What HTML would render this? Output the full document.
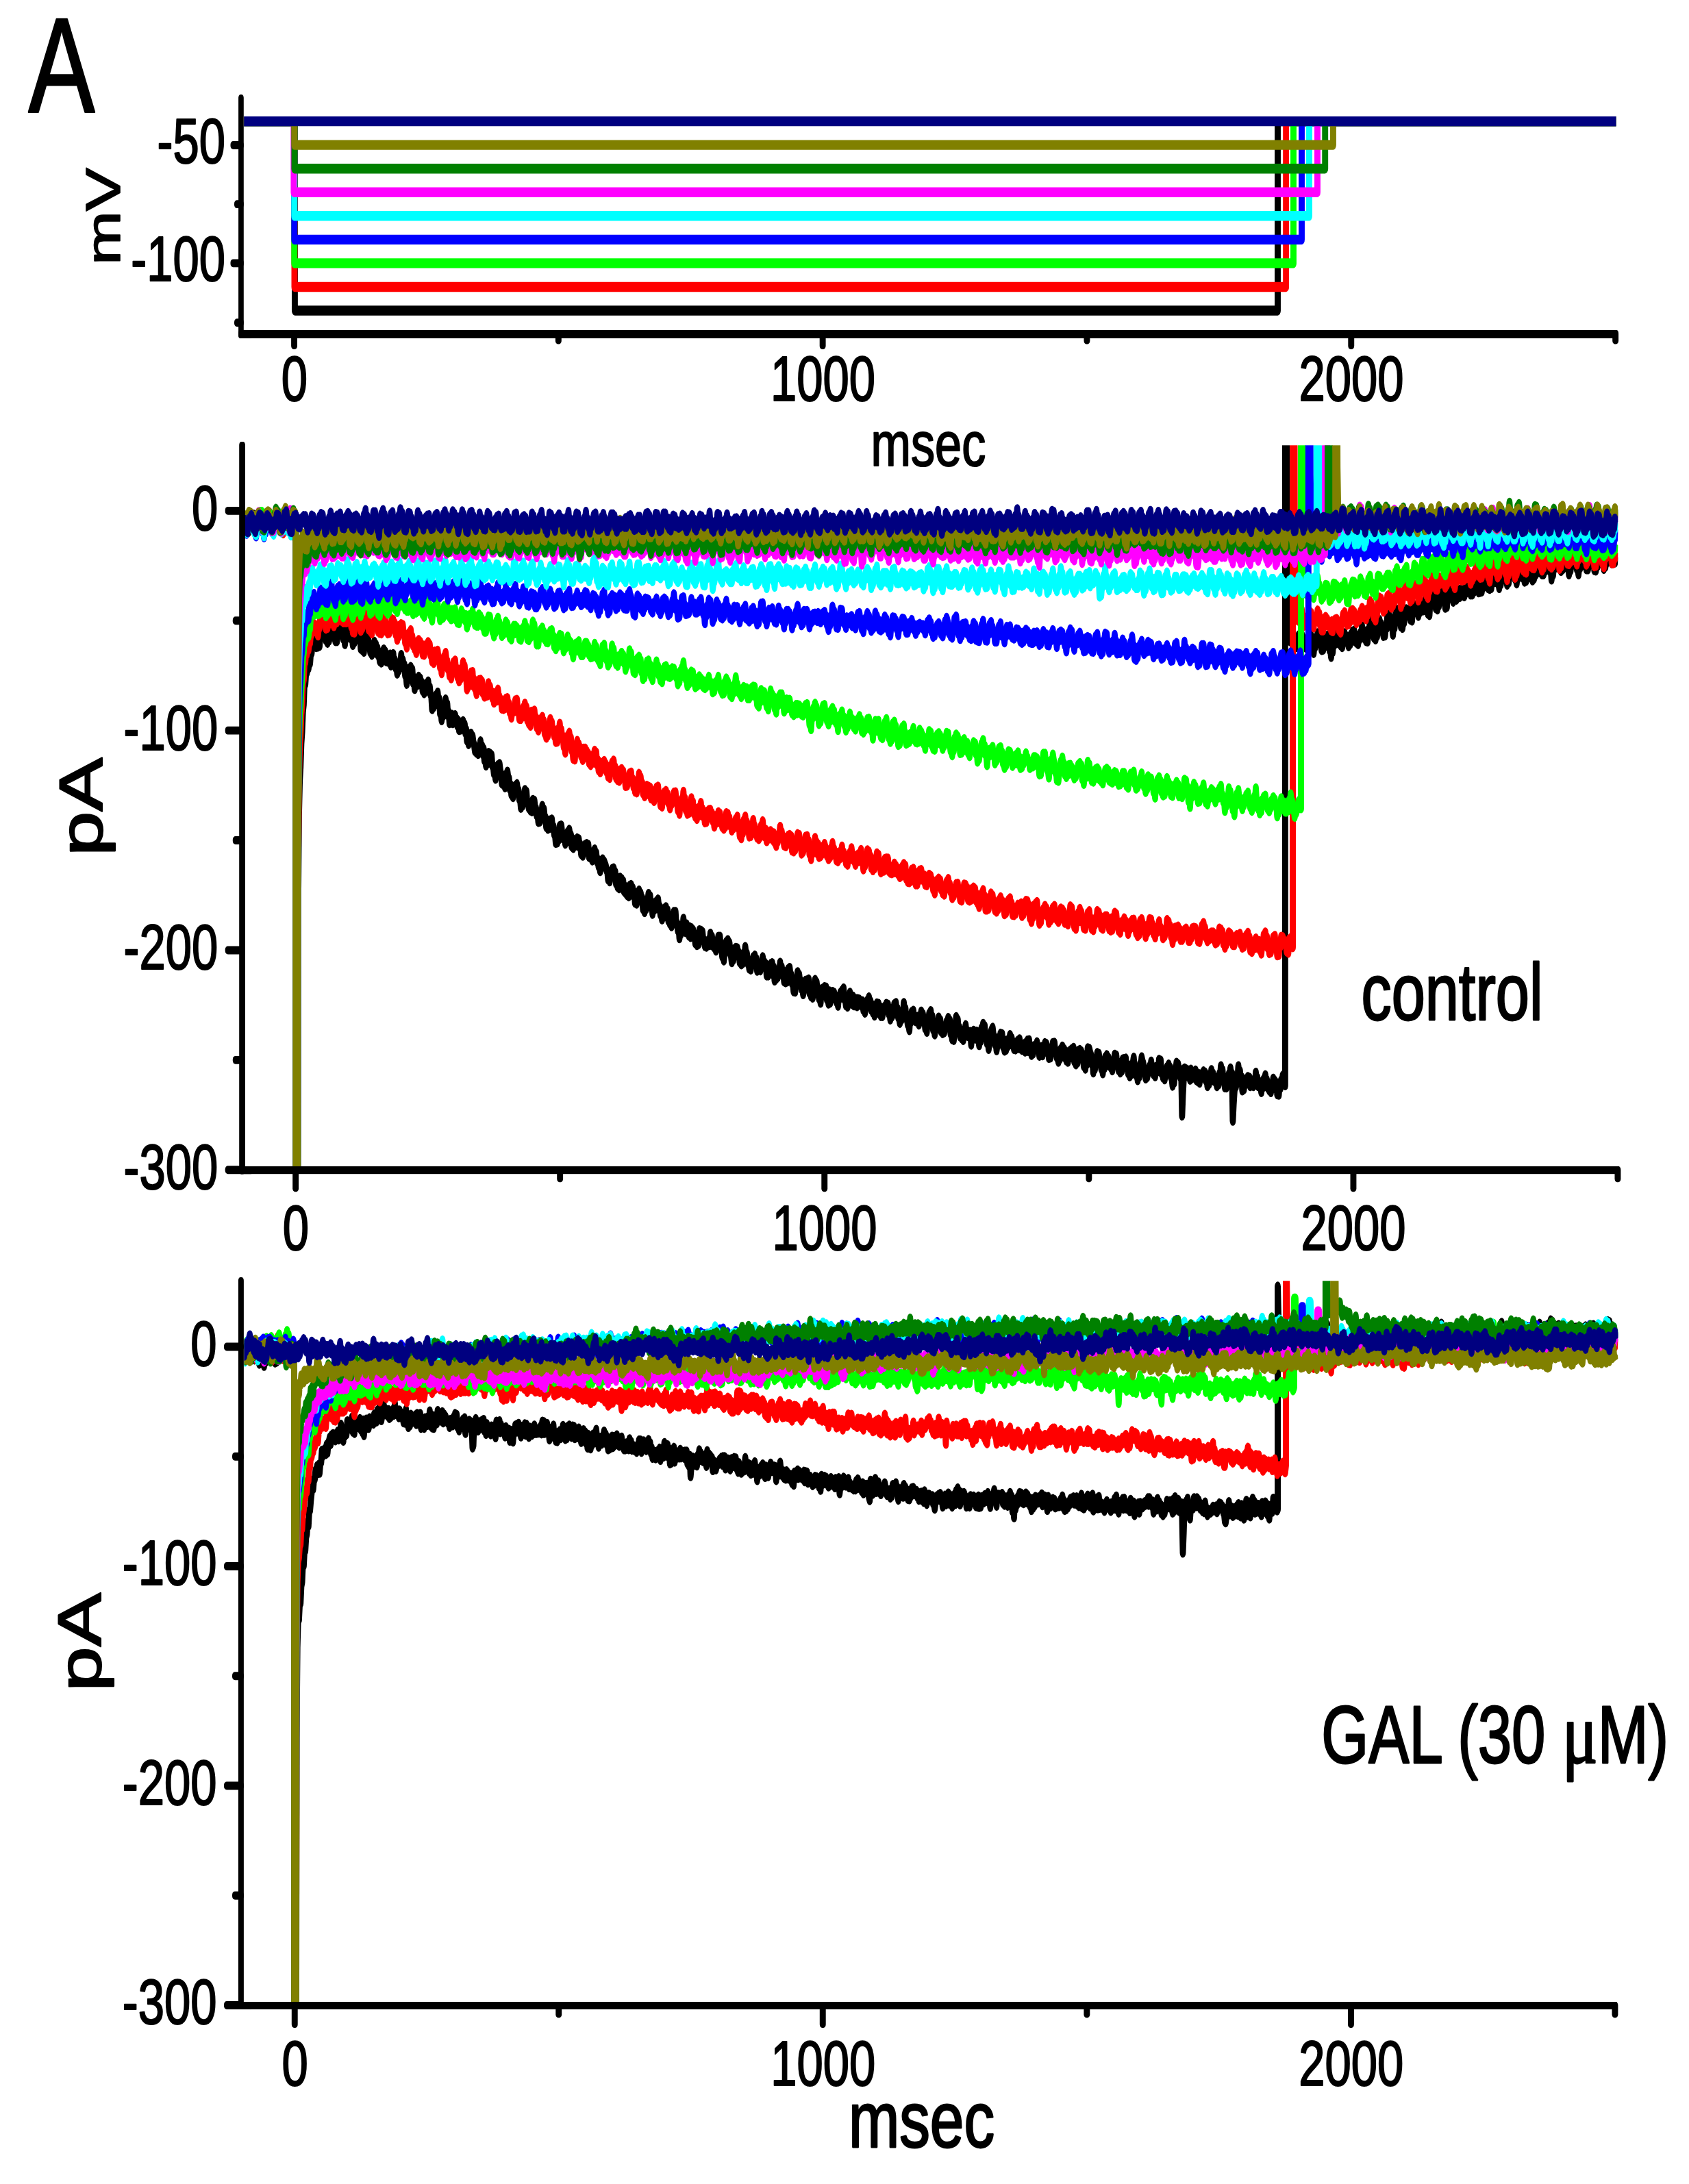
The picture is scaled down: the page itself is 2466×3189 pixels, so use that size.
<!DOCTYPE html>
<html><head><meta charset="utf-8"><title>Figure A</title>
<style>html,body{margin:0;padding:0;background:#fff}svg{display:block}</style></head>
<body>
<svg width="2466" height="3189" viewBox="0 0 2466 3189">
<rect width="2466" height="3189" fill="#fff"/>
<clipPath id="c1"><rect x="356" y="130" width="2004.5" height="352"/></clipPath>
<g clip-path="url(#c1)"><g transform="translate(429.5,177.10) scale(0.385825,0.62426)" fill="none" stroke-width="23.067" stroke-linejoin="round" stroke-linecap="butt">
<path stroke="#000000" d="M-190.0 0.0 L2.4 0.0 L2.4 442.8 L3721.9 442.8 L3721.9 0.0 L5002.0 0.0"/>
<path stroke="#ff0000" d="M-190.0 0.0 L1.2 0.0 L1.2 387.4 L3753.3 387.4 L3753.3 0.0 L5002.0 0.0"/>
<path stroke="#00ff00" d="M-190.0 0.0 L0.6 0.0 L0.6 332.1 L3781.5 332.1 L3781.5 0.0 L5002.0 0.0"/>
<path stroke="#0000ff" d="M-190.0 0.0 L0.6 0.0 L0.6 276.7 L3812.6 276.7 L3812.6 0.0 L5002.0 0.0"/>
<path stroke="#00ffff" d="M-190.0 0.0 L0.6 0.0 L0.6 221.4 L3841.1 221.4 L3841.1 0.0 L5002.0 0.0"/>
<path stroke="#ff00ff" d="M-190.0 0.0 L-1.6 0.0 L-1.6 166.0 L3872.2 166.0 L3872.2 0.0 L5002.0 0.0"/>
<path stroke="#008000" d="M-190.0 0.0 L1.0 0.0 L1.0 110.7 L3901.3 110.7 L3901.3 0.0 L5002.0 0.0"/>
<path stroke="#808000" d="M-190.0 0.0 L1.0 0.0 L1.0 55.3 L3931.8 55.3 L3931.8 0.0 L5002.0 0.0"/>
<path stroke="#000080" d="M-190.0 0 L5002.0 0"/>
</g></g>
<clipPath id="c2"><rect x="357.5" y="650.2" width="2004.8" height="1058.5"/></clipPath>
<g clip-path="url(#c2)"><g transform="translate(429.5,745.85) scale(0.385825,0.62426)" fill="none" stroke-width="23.067" stroke-linejoin="round" stroke-linecap="butt">
<path stroke="#000000" d="M-183 18l3 23 3-15 3 24 3-19 3 7 3-27 3 18 3-21 3 21 3-20 3 20 3-8 3 20 3-8 3 10 3-23 3 16 3-10 3 3 3-7 3 14 3-5 3 7 3-16 3 27 3-18 3 7 3-25 3 17 3-25 3 13 3-2 3 16 3-8 3 16 3-7 3 10 3-15 3 3 3-21 3 10 3-11 3 6 3-5 3 21 3-6 3 19 3-23 3 13 3-15 3 4 3-14 3 15 3-6 3 9 3-6 3 22 3-11 3 11 3-24 3 4 3-18 3 5 3 16266 3-13668 3-1668 3-228 3-80 3-33 3-55 3-27 3-47 3-17 3-51 3 4 3-28 3 1 3-15 3 5 3-17 3 5 3-26 3 2 3-24 3 9 3-19 3 11 3-7 3 16 3-11 3 10 3-15 3 13 3-27 3 2 3-12 3 5 3-10 3 18 3-9 3 20 3-7 3 13 3-15 3 10 3-29 3 2 3-11 3 14 3-11 3 27 3-9 3 18 3-8 3 8 3-25 3 6 3-12 3 7 3-14 3 24 3-15 3 24 3-4 3 16 3-14 3 1 3-17 3 11 3-20 3 14 3-12 3 25 3-4 3 18 3-19 3 13 3-17 3 2 3-15 3 19 3-17 3 14 3-2 3 31 3-16 3 19 3-21 3 25 3-34 3 10 3-23 3 20 3-11 3 22 3-2 3 19 3-8 3 14 3-17 3 9 3-23 3 7 3-1 3 22 3-13 3 18 3-4 3 17 3-13 3 16 3-25 3 19 3-25 3 8 3-3 3 23 3-15 3 16 3-12 3 8 3-13 3 26 3-13 3 2 3-16 3 25 3-11 3 19 3-9 3 22 3-15 3 8 3-17 3 4 3-24 3 21 3-9 3 15 3-4 3 25 3-3 3 23 3-23 3 13 3-26 3 11 3-15 3 13 3-7 3 32 3-13 3 27 3-22 3 9 3-10 3 13 3-19 3 12 3-8 3 15 3-6 3 20 3-12 3 18 3-8 3-1 3-14 3 17 3-22 3 20 3-7 3 18 3 3 3 31 3-19 3 14 3-21 3 15 3-22 3 9 3-15 3 20 3-5 3 34 3-9 3 25 3-21 3 11 3-20 3 2 3-21 3 14 3-4 3 28 3-8 3 26 3-14 3 11 3-17 3 20 3-17 3 2 3-4 3 19 3-10 3 16 3-12 3 22 3-15 3 14 3-17 3 8 3-11 3 14 3-7 3 21 3-8 3 26 3-11 3 19 3-19 3 13 3-19 3 17 3-11 3 14 3 6 3 15 3-2 3 6 3-12 3 15 3-18 3 13 3-25 3 20 3-9 3 20 3-13 3 27 3-2 3 14 3-16 3 11 3-25 3 17 3-15 3 10 3-7 3 26 3-1 3 19 3-5 3 17 3-24 3 14 3-22 3 8 3-11 3 15 3 8 3 23 3-9 3 12 3-9 3 15 3-30 3 13 3-20 3 15 3 1 3 25 3-10 3 23 3-15 3 21 3-23 3 13 3-17 3 2 3-6 3 15 3 0 3 21 3-2 3 22 3-22 3 17 3-24 3 13 3-26 3 15 3-11 3 27 3-3 3 15 3-6 3 11 3-13 3 15 3-27 3 19 3-17 3 18 3 0 3 17 3-7 3 22 3-10 3 9 3-24 3 7 3-20 3 19 3-11 3 20 3 0 3 22 3-12 3 16 3-19 3 17 3-18 3 11 3-13 3 21 3-5 3 18 3 0 3 21 3-14 3 13 3-22 3 15 3-32 3 14 3-15 3 18 3 3 3 11 3-4 3 15 3-7 3 2 3-23 3 11 3-16 3 13 3-1 3 27 3-18 3 22 3-13 3 4 3-7 3 10 3-17 3 17 3-15 3 19 3-7 3 23 3-12 3 16 3-17 3 9 3-18 3 10 3-12 3 15 3-13 3 29 3-13 3 11 3 5 3 5 3-8 3 5 3-23 3 12 3-4 3 21 3-6 3 17 3-5 3 16 3-16 3 7 3-19 3 11 3-6 3 5 3 5 3 11 3 1 3 21 3-14 3 18 3-20 3 9 3-18 3 1 3-3 3 11 3-2 3 27 3-11 3 19 3-7 3 10 3-25 3 18 3-15 3 13 3-8 3 24 3-12 3 16 3-11 3 16 3-16 3 19 3-25 3 9 3-11 3 11 3-4 3 19 3-9 3 25 3-22 3 24 3-24 3 14 3-21 3 14 3-8 3 16 3-5 3 27 3-1 3 8 3-14 3 7 3-22 3 2 3-16 3 14 3-9 3 26 3-12 3 28 3-21 3 12 3-12 3 8 3-17 3 17 3-21 3 17 3-1 3 20 3-6 3 17 3-24 3 18 3-20 3 13 3-16 3 20 3-13 3 25 3-7 3 14 3-4 3 10 3-26 3 12 3-20 3 21 3-21 3 29 3-3 3 18 3-10 3 28 3-17 3 7 3-21 3 13 3-28 3 20 3-6 3 18 3-19 3 16 3-2 3 13 3-20 3 23 3-21 3 9 3-5 3 16 3-6 3 22 3-15 3 19 3-10 3 8 3-33 3 14 3-13 3 15 3-12 3 19 3 0 3 14 3-9 3 11 3-10 3 5 3-12 3 13 3-27 3 18 3-11 3 22 3-12 3 16 3-11 3 18 3-12 3 6 3-27 3 16 3-16 3 25 3-2 3 24 3-5 3 14 3-22 3 1 3-23 3 18 3-22 3 12 3-6 3 26 3 4 3 16 3-20 3 14 3-25 3 15 3-18 3 15 3-14 3 17 3-7 3 23 3-12 3 17 3-17 3 14 3-23 3 7 3-22 3 20 3-5 3 24 3-8 3 20 3-12 3 14 3-20 3 6 3-15 3 5 3-9 3 17 3-9 3 28 3-9 3 4 3-8 3 12 3-17 3 4 3-18 3 16 3-5 3 10 3-5 3 27 3-17 3 17 3-21 3 11 3-17 3 16 3-18 3 27 3-17 3 31 3-18 3 14 3-11 3 7 3-12 3-4 3-18 3 23 3-13 3 19 3-9 3 24 3 1 3 1 3-14 3 12 3-29 3 16 3-19 3 17 3 0 3 20 3-5 3 23 3-6 3 7 3-27 3 6 3-25 3 18 3-12 3 18 3-4 3 20 3-7 3 19 3-16 3 1 3-17 3 11 3-12 3 12 3-14 3 32 3-7 3 15 3-5 3 8 3-25 3 16 3-33 3 18 3-12 3 19 3-6 3 25 3-10 3 20 3-24 3 4 3-14 3 9 3-12 3 18 3-17 3 28 3-15 3 25 3-29 3 27 3-22 3 10 3-14 3 12 3-10 3 15 3-6 3 13 3-10 3 19 3-23 3 7 3-15 3 8 3-13 3 13 3-18 3 26 3-4 3 18 3-14 3 17 3-15 3 6 3-24 3 16 3-1 3 12 3-18 3 21 3-14 3 14 3-15 3 17 3-17 3 10 3-9 3 13 3-7 3 4 3-6 3 21 3-10 3 16 3-17 3 4 3-16 3 4 3-11 3 14 3-5 3 21 3-9 3 15 3-16 3 23 3-23 3 6 3-12 3 15 3-14 3 23 3-16 3 22 3-13 3 13 3-16 3 0 3-7 3 5 3-11 3 15 3-13 3 22 3-3 3 16 3-16 3 9 3-20 3 13 3-22 3 22 3-25 3 19 3-6 3 21 3 0 3 13 3-11 3 4 3-20 3 4 3-24 3 22 3-9 3 24 3-1 3 15 3-1 3 14 3-30 3 11 3-24 3 9 3-12 3 19 3-6 3 12 3-9 3 8 3-10 3 19 3-20 3 10 3-21 3 21 3-15 3 13 3 1 3 20 3-13 3 21 3-29 3 7 3-21 3 10 3-16 3 28 3-15 3 31 3-9 3 20 3-18 3 6 3-17 3 10 3-21 3 15 3-9 3 27 3-12 3 16 3-16 3 14 3-12 3-2 3-11 3 5 3-14 3 21 3-15 3 31 3-3 3 16 3-18 3 20 3-28 3 4 3-30 3 9 3-3 3 26 3-8 3 22 3-5 3 9 3-11 3 15 3-24 3 6 3-17 3 24 3-11 3 13 3-1 3 3 3-12 3 30 3-29 3 17 3-21 3 17 3-14 3 14 3-15 3 20 3-8 3 20 3-22 3 13 3-31 3 11 3-21 3 14 3-9 3 27 3-3 3 17 3-11 3 24 3-17 3-4 3-20 3-5 3-4 3 16 3 4 3 19 3-8 3 22 3-12 3-2 3-16 3 8 3-17 3 15 3-14 3 29 3-11 3 21 3-18 3 16 3-22 3 14 3-15 3 3 3-15 3 22 3-15 3 12 3 1 3 13 3-5 3 6 3-17 3 9 3-13 3 18 3-21 3 22 3-11 3 14 3-11 3 12 3-15 3 18 3-21 3 16 3-21 3 25 3-26 3 23 3-8 3 20 3-17 3 14 3-18 3 5 3-5 3 6 3-15 3 17 3-4 3 19 3-11 3 9 3-19 3 20 3-18 3 8 3-19 3 7 3-5 3 20 3-9 3 22 3-13 3 12 3-23 3 8 3-19 3 0 3-1 3 20 3-2 3 17 3-6 3 16 3-15 3 8 3-23 3 15 3-21 3 17 3-11 3 20 3-15 3 22 3-15 3 18 3-19 3 10 3-18 3 2 3-5 3 12 3-15 3 32 3-13 3 20 3-21 3 17 3-28 3 12 3-14 3 11 3-8 3 17 3-9 3 27 3-4 3 10 3-23 3 12 3-37 3 12 3-11 3 9 3 5 3 22 3-10 3 30 3-18 3 10 3-25 3 3 3-16 3 12 3-10 3 21 3-3 3 17 3-7 3 18 3-29 3 17 3-26 3 15 3-20 3 18 3-12 3 19 3 0 3 4 3-8 3 15 3-20 3-3 3-14 3 19 3-17 3 22 3-7 3 20 3-9 3 14 3-17 3 13 3-27 3 16 3-17 3 3 3-4 3 21 3-7 3 21 3-9 3 16 3-26 3 21 3-22 3-4 3-13 3 27 3-3 3 18 3-12 3 23 3-15 3 7 3-30 3 5 3-21 3 9 3 5 3 20 3-7 3 23 3-21 3 18 3-16 3 5 3-15 3 6 3-17 3 18 3-2 3 14 3-16 3 21 3-22 3 12 3-12 3 2 3-19 3 16 3-14 3 30 3-8 3 18 3-10 3 14 3-11 3-3 3-15 3 7 3-13 3 18 3-11 3 23 3 3 3 17 3-20 3 13 3-25 3-5 3-17 3 11 3-8 3 20 3-9 3 21 3-8 3 97 3-48 3-35 3-28 3 20 3-18 3 13 3-11 3 12 3-9 3 20 3-24 3 21 3-15 3 11 3-12 3 12 3-15 3 23 3-15 3 18 3-18 3 21 3-20 3 10 3-8 3 4 3-13 3 16 3-13 3 19 3-8 3 21 3-15 3 10 3-23 3 10 3-20 3 12 3-4 3 17 3-6 3 9 3 0 3 10 3-21 3 17 3-25 3 6 3-24 3 24 3-15 3 22 3-2 3 21 3-16 3 16 3-19 3 8 3-21 3 8 3-21 3 22 3-10 3 111 3-38 3-30 3-17 3 5 3-24 3 4 3-28 3 19 3-8 3 25 3-11 3 32 3-16 3 13 3-23 3 12 3-12 3 5 3-11 3 16 3-14 3 20 3-15 3 11 3-5 3 9 3-14 3 9 3-27 3 23 3-11 3 20 3-11 3 12 3 0 3 13 3-21 3 10 3-20 3 11 3-20 3 17 3-6 3 19 3-9 3 15 3-14 3 18 3-20 3 5 3-17 3 19 3-14 3 19 3-14 3 27 3-18 3 19 3-24 3 9 3-19 3 8 3-19 3 16 3-9 3 16 0-5679 2 0 1 2228 3 1966 3 353 3 84 3-5 3 14 3-24 3 11 3-10 3 20 3-5 3 17 3-9 3 14 3-18 3 14 3-24 3 17 3-18 3 15 3-16 3 19 3-9 3 18 3-11 3 14 3-21 3 9 3-17 3 8 3-13 3 22 3-15 3 25 3-4 3 19 3-20 3 6 3-23 3 2 3-12 3 9 3-9 3 22 3-3 3 21 3-18 3 17 3-20 3 12 3-24 3 6 3-7 3 20 3-16 3 30 3-1 3 17 3-18 3 7 3-29 3 12 3-28 3 24 3-12 3 10 3-13 3 16 3-13 3 17 3-19 3 23 3-25 3 8 3-16 3 15 3-7 3 14 3-13 3 22 3-16 3 11 3-23 3 9 3-16 3 17 3-19 3 25 3-14 3 18 3-12 3 15 3-21 3 10 3-16 3 6 3-21 3 17 3-7 3 19 3-14 3 20 3-24 3 25 3-24 3-1 3-22 3 18 3-24 3 22 3-2 3 24 3-12 3 16 3-19 3 11 3-25 3 7 3-20 3 20 3-11 3 18 3-5 3 16 3-12 3 11 3-23 3 6 3-29 3 9 3-13 3 17 3-7 3 19 3 0 3 19 3-24 3 8 3-31 3 9 3-21 3 15 3-12 3 20 3-5 3 22 3-12 3 15 3-17 3 5 3-29 3 11 3-14 3 12 3-10 3 15 3-12 3 20 3-8 3 10 3-32 3 9 3-14 3 8 3-3 3 13 3-10 3 18 3-9 3 1 3-9 3 5 3-17 3 16 3-19 3 10 3-16 3 26 3-13 3 20 3-17 3 20 3-32 3 10 3-24 3 20 3-19 3 11 3-12 3 30 3-11 3 14 3-15 3 6 3-24 3 8 3-23 3 12 3-14 3 22 3-1 3 25 3-16 3 14 3-34 3 11 3-28 3 19 3-22 3 23 3-2 3 21 3-14 3 5 3-13 3 17 3-21 3 16 3-17 3 16 3-18 3 13 3-10 3 11 3-13 3 15 3-9 3 2 3-21 3 14 3-14 3 5 3-5 3 24 3-16 3 16 3-17 3 11 3-27 3 5 3-14 3 19 3-12 3 30 3-19 3 18 3-14 3 13 3-21 3 11 3-20 3 10 3-18 3 16 3-15 3 29 3-15 3 17 3-11 3 9 3-26 3 10 3-19 3 21 3-23 3 19 3-10 3 17 3-4 3 15 3-18 3 9 3-23 3 8 3-19 3 21 3-9 3 11 3-4 3 16 3-19 3 14 3-21 3 3 3-17 3 10 3-15 3 14 3-3 3 21 3-3 3 13 3-18 3 6 3-23 3 2 3-17 3 20 3-2 3 19 3-17 3 26 3-16 3 14 3-22 3 15 3-21 3 8 3-16 3 15 3-9 3 29 3-13 3 9 3-14 3 5 3-18 3 13 3-19 3 10 3-6 3 15 3-7 3 11 3-6 3 6 3-11 3 3 3-19 3 9 3-10 3 10 3-7 3 18 3-7 3 26 3-19 3 8 3-27 3 12 3-18 3 6 3-8 3 11 3 0 3 10 3-14 3 19 3-20 3 16 3-24 3 20 3-19 3 17 3-11 3 9 3-7 3 27 3-19 3 10 3-25 3 12 3-15 3 5 3-8 3 17 3-4 3 15 3-5 3 17 3-20 3 6 3-22 3 7 3-13 3 13 3-15 3 24 3-5 3 13 3-7 3 7 3-21 3 9 3-28 3 16 3-15 3 21 3-4 3 24 3-14 3 15 3-19 3 9 3-18 3 7 3-23 3 14 3-7 3 20 3-11 3 24 3-20 3 15 3-24 3 14 3-26 3 15 3-19 3 18 3-2 3 16 3-19 3 18 3-17 3 16 3-14"/>
<path stroke="#ff0000" d="M-183 27l3 21 3-16 3 9 3-16 3 17 3-30 3 11 3-9 3 19 3-11 3 18 3-10 3 18 3-21 3 8 3-12 3 17 3-20 3 7 3-16 3 23 3-13 3 19 3-17 3 16 3-14 3 15 3-23 3 17 3-30 3 27 3-11 3 18 3-8 3 17 3-15 3 10 3-22 3 11 3-13 3 11 3-14 3 13 3 2 3 18 3-15 3 20 3-17 3 9 3-16 3 1 3-21 3 17 3-12 3 28 3-10 3 21 3-11 3 16 3-23 3 0 3-15 3 6 3 16143 3-13656 3-1668 3-218 3-72 3-31 3-47 3-23 3-56 3-2 3-41 3-1 3-25 3 7 3-19 3 9 3-17 3 0 3-23 3 4 3-23 3 2 3-4 3 10 3-8 3 17 3-5 3 13 3-20 3 2 3-24 3 6 3-20 3 11 3-13 3 27 3-2 3 17 3-19 3 17 3-14 3 5 3-24 3 13 3-17 3 23 3-10 3 20 3-20 3 13 3-12 3 10 3-17 3 10 3-9 3 3 3-7 3 17 3-11 3 14 3-12 3 12 3-7 3 7 3-16 3 6 3-21 3 23 3-16 3 34 3-13 3 26 3-14 3 15 3-35 3 8 3-23 3 4 3-4 3 23 3 0 3 23 3-15 3 9 3-11 3 1 3-19 3 11 3-15 3 12 3-1 3 25 3-8 3 12 3-11 3 16 3-22 3 3 3-19 3 8 3-12 3 17 3-3 3 24 3-12 3 15 3-19 3 20 3-25 3 6 3-17 3 15 3-8 3 24 3-7 3 12 3-8 3 7 3-18 3 8 3-23 3 16 3-14 3 23 3-15 3 26 3-13 3 26 3-16 3 8 3-26 3 19 3-22 3 14 3-12 3 19 3 1 3 21 3-6 3 18 3-25 3 13 3-23 3 12 3-18 3 24 3-9 3 22 3-8 3 16 3-4 3 13 3-27 3 12 3-16 3 16 3-12 3 18 3-11 3 23 3-13 3 14 3-22 3 9 3-11 3 11 3-17 3 19 3-13 3 25 3-2 3 17 3-7 3 10 3-27 3 5 3-5 3 13 3-15 3 19 3 4 3 16 3-13 3 27 3-16 3 2 3-25 3 14 3-23 3 16 3 3 3 20 3-4 3 19 3-11 3 17 3-19 3 3 3-22 3 13 3-17 3 24 3-6 3 21 3-13 3 23 3-17 3 11 3-25 3 9 3-23 3 21 3-12 3 28 3-3 3 30 3-20 3 13 3-23 3 13 3-23 3 15 3-16 3 33 3-15 3 21 3-2 3 15 3-17 3 9 3-25 3 15 3-16 3 9 3-5 3 28 3-8 3 16 3-10 3 8 3-11 3 10 3-29 3 22 3-14 3 20 3-6 3 13 3-13 3 24 3-14 3 10 3-16 3 15 3-26 3 16 3 1 3 8 3-1 3 21 3-12 3 13 3-15 3 13 3-23 3 14 3-15 3 24 3-11 3 21 3-10 3 22 3-17 3 2 3-9 3 9 3-26 3 12 3-13 3 23 3 0 3 22 3-13 3 13 3-14 3 9 3-22 3 10 3-19 3 10 3-2 3 31 3-14 3 22 3-11 3 16 3-33 3 15 3-16 3 10 3-12 3 24 3-8 3 24 3-11 3 18 3-18 3 10 3-19 3 16 3-21 3 21 3-11 3 29 3-10 3 20 3-20 3 15 3-20 3 7 3-26 3 17 3-9 3 18 3-3 3 17 3-6 3 20 3-14 3 13 3-29 3 9 3-22 3 29 3-15 3 20 3-5 3 25 3-6 3 20 3-31 3 9 3-18 3 5 3-12 3 16 3-4 3 30 3-4 3 23 3-15 3 17 3-30 3 8 3-22 3 18 3-10 3 20 3-12 3 20 3-3 3 12 3-27 3 21 3-21 3 17 3-11 3 16 3-10 3 22 3-14 3 19 3-8 3 1 3-17 3 18 3-28 3 14 3-10 3 29 3-11 3 24 3-20 3 25 3-12 3 5 3-14 3 0 3-6 3 9 3-2 3 19 3-12 3 23 3-17 3 20 3-28 3 7 3-15 3 1 3-6 3 25 3-10 3 26 3-12 3 17 3-14 3 16 3-25 3 17 3-20 3 11 3-6 3 17 3-2 3 20 3-11 3 10 3-18 3 10 3-21 3 12 3-14 3 23 3-8 3 19 3-14 3 25 3-16 3 18 3-24 3 2 3-22 3 21 3-13 3 22 3-8 3 24 3-5 3 12 3-23 3 14 3-16 3 16 3-14 3 20 3-18 3 26 3-13 3 13 3-10 3 16 3-25 3 13 3-20 3 15 3-17 3 25 3-8 3 27 3-6 3 9 3-21 3 7 3-20 3 16 3-19 3 14 3-7 3 22 3-5 3 17 3-10 3 1 3-11 3 1 3-18 3 10 3-11 3 20 3 4 3 19 3-3 3 11 3-22 3 6 3-19 3 10 3-27 3 28 3-12 3 27 3-15 3 24 3-12 3 10 3-18 3 11 3-28 3 18 3-9 3 27 3-10 3 18 3-5 3 10 3-25 3 17 3-20 3 7 3-17 3 30 3-16 3 13 3-5 3 24 3-19 3 18 3-25 3 11 3-14 3 15 3-16 3 20 3-12 3 19 3-8 3 21 3-25 3 13 3-13 3 15 3-24 3 16 3-13 3 18 3-8 3 22 3-9 3 13 3-21 3 16 3-32 3 21 3-19 3 16 3-7 3 19 3-6 3 17 3-17 3 12 3-12 3 6 3-16 3 9 3-15 3 27 3-11 3 29 3-18 3 24 3-25 3 13 3-30 3 7 3-16 3 27 3-14 3 20 3-4 3 18 3-19 3 18 3-27 3 17 3-28 3 15 3-1 3 19 3-9 3 18 3-12 3 15 3-19 3 14 3-27 3 11 3-21 3 21 3-3 3 19 3-17 3 27 3-20 3 15 3-16 3 14 3-17 3 12 3-8 3 18 3-17 3 22 3-9 3 17 3-24 3 14 3-15 3 0 3-20 3 21 3-9 3 15 3-4 3 21 3-11 3 13 3-20 3 15 3-20 3 12 3-14 3 11 3-8 3 34 3-16 3 18 3-14 3 10 3-19 3-1 3-17 3 15 3-13 3 25 3-6 3 25 3-9 3 5 3-14 3 4 3-26 3 13 3-14 3 24 3-13 3 31 3-6 3 18 3-24 3 11 3-16 3 9 3-30 3 23 3-13 3 27 3-22 3 30 3-12 3 10 3-18 3 13 3-18 3 14 3-20 3 7 3 7 3 14 3-13 3 21 3-10 3 6 3-22 3 16 3-28 3 22 3-9 3 10 3-2 3 20 3-5 3 7 3-20 3 14 3-18 3 9 3-20 3 19 3-6 3 15 3-6 3 17 3-15 3 19 3-23 3 12 3-18 3 7 3-17 3 16 3-2 3 16 3-2 3 11 3-17 3 6 3-13 3 16 3-19 3 3 3-11 3 27 3-7 3 26 3-14 3 6 3-21 3 7 3-23 3 13 3-10 3 13 3-2 3 28 3-9 3 14 3-15 3 11 3-24 3 7 3-19 3 12 3-9 3 26 3-1 3 17 3-9 3 6 3-10 3 9 3-28 3 15 3-16 3 6 3-6 3 30 3-11 3 15 3-8 3 9 3-16 3 9 3-16 3 21 3-16 3 13 3-7 3 15 3-11 3 17 3-16 3 13 3-22 3 5 3-11 3 15 3-11 3 31 3-7 3 14 3-5 3 6 3-15 3 12 3-27 3 14 3-16 3 18 3-10 3 29 3-18 3 18 3-20 3 11 3-24 3 14 3-15 3 17 3-2 3 11 3-13 3 22 3-11 3 12 3-17 3 10 3-18 3 13 3-10 3 17 3-7 3 22 3-10 3 19 3-19 3 4 3-16 3 12 3-16 3 17 3-13 3 22 3-2 3 11 3-12 3 15 3-17 3 2 3-16 3 3 3-9 3 16 3-4 3 19 3-4 3 18 3-21 3 16 3-15 3 8 3-21 3 11 3-12 3 21 3-9 3 26 3-16 3 18 3-20 3 3 3-21 3 9 3-8 3 10 3-3 3 28 3-12 3 14 3-13 3 11 3-26 3 19 3-22 3 15 3-11 3 27 3-15 3 21 3-3 3 12 3-17 3 2 3-17 3 8 3-16 3 18 3-4 3 32 3-13 3 13 3-15 3 13 3-27 3 13 3-22 3 14 3-9 3 19 3-6 3 22 3-8 3 11 3-15 3 9 3-22 3 9 3-15 3 20 3-12 3 16 3-5 3 21 3-15 3 12 3-26 3 14 3-19 3 7 3-11 3 22 3-10 3 27 3-11 3 12 3-18 3 15 3-13 3 0 3-9 3 10 3-9 3 12 3-16 3 30 3-12 3 8 3-23 3 12 3-21 3 15 3-14 3 15 3-6 3 31 3-17 3 26 3-18 3 7 3-28 3 16 3-20 3 4 3-8 3 24 3 1 3 26 3-21 3 16 3-23 3 8 3-15 3 10 3-17 3 20 3-14 3 19 3-12 3 27 3-20 3 15 3-17 3 12 3-26 3 8 3-12 3 22 3-9 3 20 3-13 3 18 3-20 3 13 3-25 3 9 3-7 3 19 3-13 3 26 3-11 3 11 3-12 3 16 3-20 3 6 3-29 3 19 3-15 3 20 3-4 3 29 3-14 3 18 3-16 3-1 3-21 3 20 3-29 3 10 3-2 3 22 3-3 3 18 3-18 3 20 3-22 3 4 3-19 3 0 3-5 3 25 3-8 3 25 3-15 3 18 3-23 3 11 3-17 3 6 3-22 3 18 3-14 3 25 3-16 3 26 3-6 3 9 3-22 3 3 3-11 3 9 3-9 3 11 3-5 3 25 3-17 3 20 3-29 3 27 3-24 3-1 3-15 3 23 3-20 3 24 3-2 3 18 3-8 3 12 3-25 3 13 3-13 3 11 3-20 3 17 3-10 3 17 3-7 3 20 3-17 3 7 3-18 3 13 3-18 3 9 3-10 3 19 3-7 3 20 3-7 3 14 3-17 3 13 3-32 3 12 3-16 3 9 3 4 3 12 3-5 3 22 3-15 3 6 3-20 3-1 3-12 3 19 3-18 3 26 3-14 3 22 3-5 3 13 3-21 3 10 3-13 3 7 3-21 3 15 3-1 3 12 3-6 3 20 3-12 3 8 3-15 3 2 3-26 3 9 3-5 3 20 3-10 3 25 3-5 3 20 3-20 3 9 3-25 3 10 3-11 3 3 3-5 3 24 3-17 3 25 3-9 3 9 3-18 3 9 3-15 3 8 3-11 3 12 3-6 3 23 3-17 3 17 3-11 3 4 3-23 3 13 3-14 3 11 3-10 3 15 3-5 3 21 3-11 3 13 3-16 3 2 3-25 3 12 3-18 3 14 3-3 3 23 3 1 3 8 3-5 3 1 3-15 3 8 3-10 3 9 3-9 3 18 3-14 3 22 3-12 3 10 3-18 3 10 3-25 3 15 3-13 3 17 3-11 3 28 3-15 3 24 3-15 3 8 3-19 3 11 3-21 3 8 3-5 3 13 3-7 3 21 3-15 3 15 3-19 3 7 3-12 3 2 3-1 3 1 3-5 3 25 3-10 3 18 3-14 3 12 3-23 3 13 3-18 3 16 3-21 3 23 3-13 3 32 3-13 3 16 3-16 3 9 3-19 3 17 3-23 3 16 3-6 3 13 3-17 3 22 3-5 3 13 3-22 3 6 3-28 3 14 3-20 3 20 3-9 3 26 3-13 3 25 3-10 3 8 3-24 3 9 3-21 3 10 3-13 3 27 3-5 3 24 3-13 3 12 3-23 3 4 3-24 3 10 3-9 3 13 3-5 3 10 3 0 3 16 3-13 3 16 3-32 3 16 3-19 3 13 3-14 2 23 0-5401 2 0 2 3228 3 1151 3 195 3 57 3-4 3 10 3-26 3 9 3-15 3 24 3-17 3 22 3-7 3 22 3-8 3 7 3-16 3 1 3-8 3 8 3-18 3 17 3-13 3 25 3-2 3 11 3-17 3 4 3-10 3 2 3-19 3 15 3-8 3 27 3-16 3 29 3-17 3 17 3-16 3 6 3-22 3 17 3-12 3 16 3-10 3 9 3-8 3 20 3-22 3 24 3-21 3 3 3-10 3 11 3-12 3 16 3-10 3 21 3-10 3 15 3-28 3 6 3-21 3 13 3-18 3 13 3-2 3 19 3-7 3 6 3-11 3 5 3-26 3 17 3-19 3 22 3-18 3 21 3-9 3 15 3-7 3 0 3-13 3 12 3-20 3 4 3-12 3 12 3-7 3 18 3-12 3 16 3-23 3 13 3-16 3 6 3-23 3 14 3-9 3 21 3-2 3 16 3-3 3 9 3-28 3 13 3-25 3 0 3-14 3 13 3-11 3 20 3-4 3 15 3-10 3 6 3-20 3 11 3-24 3 11 3-14 3 19 3-10 3 22 3-19 3 14 3-13 3 5 3-19 3 6 3-16 3 12 3-13 3 23 3-10 3 28 3-10 3 1 3-19 3 3 3-28 3 18 3-7 3 17 3-12 3 14 3-6 3 16 3-24 3 20 3-28 3 12 3-19 3 8 3-8 3 21 3-8 3 24 3-15 3 8 3-16 3 1 3-22 3 4 3-10 3 14 3-7 3 30 3-11 3 18 3-18 3 2 3-18 3 9 3-20 3 10 3-21 3 28 3-2 3 10 3-11 3 12 3-30 3 11 3-8 3 13 3-15 3 14 3-15 3 16 3-2 3 11 3-20 3 14 3-10 3 3 3-25 3 20 3-24 3 25 3-13 3 22 3-7 3 16 3-23 3 9 3-23 3 7 3-14 3 10 3-4 3 20 3-12 3 12 3-10 3 9 3-14 3 10 3-23 3 13 3-5 3 16 3-10 3 22 3-15 3 7 3-15 3 8 3-15 3 3 3-14 3 10 3-5 3 17 3-6 3 11 3-11 3 10 3-15 3 6 3-21 3 6 3-9 3 17 3-12 3 27 3-9 3 20 3-23 3-1 3-16 3 3 3-14 3 14 3-11 3 27 3-3 3 14 3-15 3 10 3-14 3-4 3-14 3 14 3-12 3 15 3-13 3 24 3-8 3 23 3-17 3 5 3-23 3 9 3-24 3 6 3-5 3 12 3 4 3 28 3-14 3 6 3-18 3 4 3-17 3 10 3-25 3 24 3-2 3 14 3-9 3 13 3-17 3 19 3-24 3 11 3-15 3 11 3-13 3 14 3-9 3 14 3-4 3 5 3-12 3 2 3-15 3 10 3-25 3 21 3-2 3 15 3 0 3 11 3-14 3 8 3-21 3 3 3-21 3 16 3-17 3 22 3-2 3 16 3-11 3 14 3-15 3 10 3-23 3 4 3-16 3 20 3-13 3 17 3-5 3 24 3-18 3 13 3-26 3 11 3-21 3 13 3-12 3 18 3-12 3 22 3-10 3 11 3-15 3 10 3-23 3 11 3-11 3 17 3-14 3 18 3-10 3 18 3-17 3 6 3-7 3 3 3-13 3 7 3-14 3 13 3-8 3 19 3-12 3 23 3-12 3 6 3-23 3 6 3-16 3-1 3 5 3 16 3-1 3 24 3-18 3 17 3-27 3 8 3-21 3 8 3-13 3 18 3-10 3 31 3-12 3 21 3-17 3-2 3-15 3 8 3-22 3 18 3-16 3 22 3-7 3 22 3-13 3 13 3-21 3 10 3-16"/>
<path stroke="#00ff00" d="M-183 34l3 12 3-11 3 5 3-20 3 7 3-17 3 12 3-11 3 14 3-13 3 21 3-8 3 14 3-18 3 13 3-23 3 8 3-17 3 16 3-16 3 24 3-4 3 18 3-15 3 13 3-19 3-1 3-13 3 17 3-17 3 16 3-8 3 27 3-15 3 19 3-18 3 5 3-22 3 6 3-12 3 27 3-25 3 31 3-8 3 18 3-18 3 12 3-14 3-1 3-16 3 11 3-17 3 26 3-7 3 15 3-13 3 20 3-20 3 10 3-12 3-5 3-8 3 5 3 16062 3-13656 3-1658 3-214 3-71 3-18 3-41 3-29 3-44 3-13 3-34 3 11 3-29 3 18 3-10 3 6 3-23 3 5 3-31 3 3 3-18 3 11 3-11 3 13 3-11 3 9 3-11 3 12 3-16 3 15 3-21 3 14 3-24 3 27 3-20 3 16 3-7 3 21 3-18 3 13 3-17 3 12 3-31 3 17 3-11 3 14 3-4 3 19 3-5 3 15 3-21 3 8 3-17 3 4 3-13 3 14 3-15 3 20 3 0 3 18 3-17 3 10 3-21 3 9 3-24 3 13 3-17 3 27 3-12 3 24 3 2 3 8 3-20 3 9 3-23 3 8 3-25 3 23 3-10 3 24 3-10 3 19 3-16 3 6 3-16 3 0 3-18 3 10 3-17 3 25 3-8 3 14 3-4 3 19 3-29 3 26 3-25 3 9 3-16 3 10 3-11 3 22 3-7 3 22 3-17 3 21 3-26 3 13 3-28 3 7 3-5 3 23 3-11 3 17 3-10 3 15 3-18 3 13 3-21 3 0 3-9 3 12 3-10 3 18 3-11 3 17 3-9 3 14 3-15 3 3 3-21 3 16 3-16 3 12 3-5 3 14 3-13 3 19 3-7 3 10 3-14 3 14 3-17 3 9 3-12 3 16 3-7 3 19 3-14 3 10 3-12 3 12 3-18 3 15 3-23 3 15 3-14 3 16 3-9 3 22 3-7 3 13 3-18 3 6 3-24 3 8 3-17 3 24 3-6 3 23 3-2 3 15 3-19 3 1 3-11 3-6 3-13 3 19 3-9 3 21 3-8 3 24 3-16 3 12 3-14 3 12 3-27 3 13 3-14 3 13 3-14 3 23 3-4 3 9 3-16 3 21 3-22 3 13 3-13 3 11 3-13 3 25 3-5 3 12 3-14 3 15 3-18 3 2 3-14 3 19 3-12 3 13 3-10 3 15 3-14 3 29 3-19 3 9 3-19 3 12 3-13 3 8 3-17 3 22 3-11 3 22 3-6 3 8 3-12 3 12 3-27 3 13 3-9 3 13 3-6 3 19 3 1 3 10 3-17 3 17 3-27 3 11 3-20 3 12 3-11 3 23 3-7 3 18 3-1 3 13 3-24 3 15 3-27 3 14 3-22 3 18 3-7 3 19 3-10 3 23 3-18 3 14 3-14 3 3 3-19 3 11 3-6 3 23 3-7 3 17 3-20 3 24 3-25 3 11 3-18 3 18 3-18 3 9 3-5 3 8 3-3 3 22 3-14 3 16 3-25 3 8 3-12 3 7 3-18 3 21 3-11 3 28 3-3 3 6 3-5 3-1 3-13 3 3 3-28 3 27 3-19 3 28 3-3 3 21 3-14 3 14 3-22 3 7 3-20 3 16 3-21 3 19 3-9 3 18 3-8 3 14 3-10 3 11 3-20 3 9 3-16 3 17 3-19 3 20 3-6 3 25 3-10 3 16 3-14 3 8 3-21 3 6 3-13 3 15 3-13 3 24 3-7 3 20 3-19 3 12 3-12 3 4 3-20 3 11 3-2 3 16 3-11 3 21 3 0 3 14 3-21 3 8 3-19 3 8 3-10 3 7 3-11 3 25 3-7 3 15 3-17 3 17 3-12 3 6 3-23 3 8 3-8 3 18 3-10 3 20 3-13 3 19 3-14 3 13 3-15 3 5 3-21 3 12 3-5 3 27 3-8 3 14 3-7 3 15 3-28 3 13 3-27 3 8 3-12 3 22 3-5 3 19 3-3 3 16 3-16 3 10 3-19 3 2 3-24 3 21 3-12 3 24 3-5 3 16 3-6 3 10 3-23 3 14 3-16 3 9 3-15 3 18 3-13 3 19 3-8 3 24 3-11 3 2 3-17 3 7 3-27 3 21 3-14 3 21 3-5 3 28 3-10 3 13 3-14 3 4 3-25 3 11 3-15 3 14 3-6 3 28 3-4 3 21 3-10 3 6 3-26 3 3 3-15 3 6 3-8 3 20 3-10 3 28 3-15 3 23 3-23 3 5 3-14 3 9 3-21 3 18 3-7 3 22 3-1 3 13 3-12 3 16 3-30 3 17 3-23 3 10 3-12 3 11 3-4 3 18 3-14 3 15 3-18 3 15 3-18 3 14 3-13 3 12 3-3 3 12 3-1 3 17 3-12 3 6 3-25 3 13 3-21 3 12 3-25 3 23 3-3 3 20 3-2 3 18 3-17 3 12 3-24 3 17 3-22 3 12 3-10 3 24 3-9 3 20 3-20 3 17 3-18 3 15 3-20 3 19 3-14 3 14 3-10 3 16 3-9 3 12 3-16 3 13 3-6 3-1 3-17 3 16 3-4 3 11 3-8 3 22 3-12 3 9 3-20 3 6 3-10 3 7 3-17 3 18 3 2 3 12 3-12 3 20 3-14 3 13 3-26 3 15 3-24 3 9 3-2 3 12 3-1 3 22 3-10 3 14 3-19 3 10 3-21 3 4 3-21 3 20 3-4 3 19 3-9 3 14 3-4 3 11 3-16 3 10 3-18 3 11 3-9 3 11 3-10 3 24 3-17 3 17 3-12 3 7 3-20 3 8 3-11 3 15 3-14 3 24 3-3 3 20 3-13 3 18 3-19 3 8 3-28 3 16 3-12 3 17 3-16 3 22 3-1 3 13 3-12 3 19 3-30 3 7 3-22 3 15 3-6 3 12 3-6 3 27 3-12 3 22 3-28 3 12 3-21 3 14 3-20 3 14 3-14 3 25 3-4 3 20 3-19 3 11 3-21 3 21 3-20 3 9 3-9 3 14 3-1 3 19 3-14 3 18 3-17 3 5 3-12 3 20 3-20 3 12 3-11 3 18 3-14 3 18 3-16 3 18 3-17 3 4 3-12 3 13 3-15 3 20 3 1 3 27 3-7 3 18 3-30 3 4 3-24 3 6 3-16 3 10 3-2 3 24 3-2 3 18 3-12 3 7 3-15 3-1 3-22 3 11 3-13 3 18 3-1 3 20 3-9 3 18 3-17 3 9 3-25 3 11 3-17 3 14 3-7 3 24 3-12 3 18 3-3 3 18 3-26 3 8 3-18 3 2 3-10 3 23 3-10 3 19 3-3 3 16 3-15 3 8 3-23 3 9 3-19 3 22 3-11 3 15 3-11 3 18 3-13 3 18 3-10 3-2 3-13 3 13 3-20 3 15 3-7 3 28 3-20 3 23 3-22 3 16 3-15 3 6 3-17 3 12 3-13 3 24 3-12 3 17 3-7 3 25 3-27 3 11 3-26 3 17 3-15 3 13 3-15 3 27 3-1 3 12 3-6 3 9 3-18 3 0 3-19 3 9 3-17 3 27 3-8 3 25 3-4 3 14 3-16 3 10 3-38 3 13 3-17 3 12 3-1 3 26 3-8 3 26 3-18 3 15 3-18 3 0 3-21 3 10 3-14 3 28 3-10 3 25 3-14 3 12 3-15 3 13 3-19 3 6 3-8 3 10 3-22 3 27 3-11 3 17 3-15 3 16 3-13 3 11 3-28 3 15 3-10 3 9 3 0 3 20 3-11 3 22 3-26 3 12 3-10 3 4 3-22 3 12 3-9 3 30 3-19 3 28 3-13 3 15 3-27 3 14 3-23 3 14 3-17 3 11 3-6 3 22 3-13 3 23 3-19 3 12 3-20 3 9 3-20 3 17 3-15 3 23 3 0 3 18 3-3 3 13 3-21 3 10 3-29 3 8 3-17 3 17 3-12 3 23 3-14 3 30 3-14 3 13 3-15 3 10 3-27 3 23 3-16 3 14 3-12 3 24 3-15 3 22 3-16 3 5 3-11 3 5 3-16 3 17 3-14 3 25 3-10 3 28 3-16 3 10 3-20 3 7 3-23 3 4 3-13 3 22 3-9 3 22 3-1 3 25 3-23 3 3 3-16 3 7 3-9 3 14 3-19 3 17 3-1 3 23 3-10 3 4 3-10 3 4 3-24 3 9 3-11 3 23 3-11 3 26 3-12 3 23 3-18 3 12 3-24 3 6 3-16 3 22 3-20 3 20 3-8 3 21 3-11 3 5 3-18 3 18 3-21 3 9 3-14 3 28 3-16 3 25 3-22 3 20 3-18 3 10 3-14 3 1 3-12 3 16 3-6 3 9 3 0 3 16 3-15 3 12 3-8 3 7 3-22 3 8 3-8 3 8 3-5 3 18 3 1 3 19 3-12 3 11 3-22 3-2 3-24 3 2 3-2 3 18 3-2 3 22 3 4 3 14 3-27 3 9 3-23 3 8 3-21 3 12 3 8 3 22 3-9 3 27 3-16 3 18 3-25 3 1 3-22 3 6 3-15 3 26 3-12 3 26 3-8 3 14 3-17 3 11 3-22 3 20 3-21 3 11 3-5 3 10 3 1 3 15 3-19 3 15 3-16 3 7 3-19 3 10 3-14 3 15 3-10 3 33 3-16 3 27 3-18 3 2 3-16 3 15 3-35 3 25 3-19 3 25 3-11 3 25 3-20 3 22 3-24 3 17 3-23 3 8 3-10 3 20 3-14 3 21 3-12 3 16 3-12 3 17 3-19 3 5 3-18 3 16 3-19 3 21 3-17 3 24 3-6 3 9 3-10 3 12 3-21 3 17 3-21 3 9 3-7 3 21 3-10 3 17 3-17 3 16 3-18 3 14 3-23 3 15 3-15 3 15 3-5 3 21 3-13 3 17 3-14 3-1 3-18 3 13 3-14 3 14 3-18 3 28 3-4 3 16 3-14 3 11 3-10 3 3 3-15 3 1 3-12 3 23 3-9 3 18 3-11 3 23 3-25 3 18 3-30 3 18 3-14 3 12 3-11 3 16 3-3 3 19 3-5 3 18 3-27 3 7 3-22 3 10 3-16 3 20 3-11 3 26 3-13 3 21 3-20 3 18 3-28 3 9 3-20 3 21 3-11 3 21 3-15 3 24 3-15 3 17 3-17 3 6 3-15 3 12 3-19 3 22 3-16 3 28 3-13 3 12 3-10 3 13 3-20 3 5 3-26 3 11 3-9 3 22 3-7 3 33 3-13 3 27 3-28 3 6 3-22 3-1 3-10 3 12 3-5 3 23 3-2 3 15 3-12 3 11 3-25 3 17 3-22 3 4 3-14 3 22 3-5 3 26 3-9 3 13 3-15 3 2 3-16 3 10 3-17 3 9 3-5 3 18 3-14 3 23 3-14 3 3 3-15 3 15 3-22 3 11 3-17 3 26 3-5 3 17 3-6 3 27 3-16 3 5 3-22 3 2 3-22 3 22 3-14 3 26 3 1 3 16 3-6 3 18 3-32 3 10 3-28 3 11 3-20 3 16 3 2 3 17 3-8 3 18 3-21 3 12 3-17 3 9 3-17 3 8 3-13 3 22 3-5 3 18 3-14 3 22 3-17 3 8 3-25 3 9 3-28 3 28 3 1 3 20 3-6 3 16 3-14 3 9 3-27 3 9 3-16 3 8 3-11 3 19 3 5 3 8 3-11 3 16 3-16 3 8 3-18 3 5 3-12 3 12 3-7 3 14 3 0 3 26 3-21 3 13 3-21 3 14 3-28 3 15 3-7 3 6 3-4 3 22 3-8 3 8 3-12 3 9 3-24 3 8 3-22 3 18 3-2 3 22 3-5 3 20 3-10 3 1 3-14 3 5 3-19 3 12 3-14 3 19 0-5144 2 0 1 2389 3 1830 3 342 3 70 3-4 3 15 3-30 3 7 3-10 3 5 3-1 3 22 3-6 3 19 3-8 3 12 3-19 3 5 3-27 3 12 3-19 3 15 3 1 3 20 3-5 3 21 3-19 3 14 3-21 3 12 3-21 3 16 3-15 3 18 3-4 3 23 3-16 3 13 3-12 3 6 3-32 3 14 3-13 3 18 3-14 3 21 3-7 3 16 3-15 3 10 3-23 3 8 3-10 3 3 3-11 3 22 3-2 3 26 3-16 3 17 3-26 3 5 3-18 3 6 3-16 3 16 3-15 3 30 3-15 3 11 3-13 3 15 3-24 3 13 3-25 3 25 3-17 3 16 3-9 3 22 3-16 3 18 3-20 3 6 3-24 3 13 3-20 3 22 3-7 3 23 3-18 3 19 3-8 3 16 3-30 3 3 3-20 3 15 3-14 3 14 3-7 3 18 3-6 3 6 3-12 3 7 3-17 3 8 3-15 3 18 3-18 3 23 3-7 3 14 3-12 3 14 3-20 3 6 3-24 3 9 3-18 3 21 3-10 3 24 3-15 3 14 3-10 3 4 3-18 3 5 3-12 3 12 3-18 3 27 3-8 3 18 3 0 3 2 3-21 3 10 3-15 3 7 3-25 3 7 3-3 3 22 3-10 3 19 3-17 3 17 3-26 3 7 3-25 3 21 3-21 3 16 3-3 3 14 3-8 3 11 3-11 3 1 3-19 3 4 3-9 3 16 3-18 3 25 3-9 3 22 3-25 3 12 3-15 3 1 3-18 3 14 3-8 3 22 3-2 3 15 3-11 3 17 3-25 3 13 3-26 3 8 3-13 3 11 3-15 3 17 3-5 3 18 3-4 3 3 3-18 3 2 3-17 3 3 3-13 3 19 3 1 3 17 3 1 3 6 3-19 3 8 3-20 3 6 3-17 3 18 3-19 3 18 3-10 3 21 3-14 3 13 3-8 3-1 3-22 3 12 3-15 3 16 3-2 3 23 3-13 3 18 3-11 3 7 3-22 3-3 3-15 3 17 3-15 3 25 3-5 3 16 3-12 3 16 3-25 3 4 3-15 3 10 3-22 3 23 3-13 3 22 3-4 3 21 3-22 3 6 3-13 3-6 3-23 3 15 3-11 3 23 3 0 3 14 3-5 3 9 3-22 3 10 3-21 3 8 3-15 3 8 3-9 3 22 3-8 3 8 3-11 3 21 3-22 3 1 3-12 3 15 3-20 3 19 3 1 3 21 3-1 3 2 3-10 3 14 3-29 3 6 3-18 3 6 3-11 3 25 3-8 3 25 3-15 3 5 3-21 3 12 3-16 3 9 3-11 3 20 3-6 3 13 3-14 3 19 3-20 3 15 3-18 3 0 3-10 3 15 3-14 3 23 3-3 3 18 3-8 3 9 3-24 3 4 3-18 3 18 3-16 3 12 3-12 3 28 3-13 3 18 3-21 3 14 3-25 3 8 3-19 3 20 3-16 3 23 3-7 3 22 3-18 3 15 3-19 3 6 3-15 3 2 3-3 3 11 3-10 3 23 3-13 3 23 3-19 3 8 3-12 3 7 3-26 3 14 3-13 3 17 3 1 3 16 3-7 3 15 3-17 3 5 3-18 3 15 3-21 3 10 3-8 3 23 3-9 3 22 3-11 3 3 3-14 3 11 3-25 3 12 3-8 3 19 3-8 3 11 3-12 3 17 3-18 3 14 3-21 3 7 3-15 3 16 3-10 3 17 3-14 3 19 3-13 3 9 3-13 3 8 3-14"/>
<path stroke="#0000ff" d="M-183 38l3 16 3-15 3 3 3-15 3 6 3-18 3 21 3-10 3 19 3-12 3 16 3-2 3 13 3-27 3 10 3-19 3 2 3-13 3 14 3-1 3 24 3-11 3 23 3-22 3 12 3-27 3 5 3-23 3 19 3-10 3 14 3 3 3 17 3-10 3 9 3-20 3 10 3-12 3 5 3-14 3 16 3-17 3 22 3-1 3 4 3-4 3 9 3-17 3 7 3-16 3 7 3-8 3 11 3 1 3 17 3-7 3 15 3-18 3 2 3-24 3 5 3-12 3 18 3 15933 3-13634 3-1638 3-210 3-62 3-26 3-50 3-14 3-32 3-4 3-37 3 10 3-16 3 9 3-18 3 15 3-30 3 15 3-23 3 2 3-16 3 3 3-11 3 22 3-13 3 23 3-14 3 7 3-18 3 11 3-28 3 22 3-22 3 10 3-12 3 29 3-11 3 15 3-16 3 17 3-31 3 9 3-24 3 17 3-17 3 20 3 0 3 18 3-9 3 19 3-29 3 13 3-23 3 9 3-12 3 15 3-9 3 16 3-8 3 18 3-13 3 8 3-23 3 6 3-15 3 14 3-22 3 28 3-7 3 24 3-18 3 18 3-21 3 18 3-26 3 8 3-24 3 19 3-8 3 24 3 1 3 11 3-14 3 17 3-27 3 6 3-23 3 13 3-13 3 22 3-7 3 19 3-8 3 13 3-18 3 9 3-19 3 9 3-15 3 10 3-7 3 19 3-17 3 28 3-13 3 6 3-17 3 10 3-24 3 14 3-17 3 24 3-21 3 26 3-11 3 19 3-22 3 12 3-22 3 10 3-21 3 19 3-9 3 21 3-1 3 22 3-15 3 8 3-20 3 11 3-30 3 16 3-13 3 23 3-12 3 18 3-9 3 16 3-17 3 4 3-19 3 3 3-19 3 17 3-10 3 20 3-10 3 24 3-2 3 10 3-29 3 24 3-32 3 16 3-14 3 10 3-10 3 27 3-6 3 23 3-21 3 5 3-18 3 1 3-17 3 10 3-16 3 27 3-2 3 15 3-7 3 5 3-8 3 14 3-29 3 16 3-14 3 12 3-19 3 18 3 4 3 11 3-15 3 11 3-19 3 12 3-22 3 6 3 1 3 14 3-8 3 26 3-19 3 12 3-11 3 8 3-24 3 4 3-9 3 24 3-19 3 22 3-1 3 14 3-18 3 8 3-8 3 0 3-28 3 17 3-17 3 29 3-6 3 19 3-8 3 17 3-26 3 3 3-8 3 10 3-19 3 10 3-9 3 23 3-2 3 21 3-14 3 4 3-4 3-4 3-24 3 6 3-12 3 18 3-5 3 21 3-7 3 14 3-18 3 6 3-17 3 14 3-16 3 7 3-1 3 20 3-18 3 27 3-18 3 17 3-18 3 7 3-19 3 3 3-14 3 20 3-1 3 14 3-9 3 16 3-10 3 7 3-19 3 4 3-17 3 13 3-2 3 12 3-10 3 21 3-17 3 20 3-11 3-3 3-16 3 18 3-27 3 25 3-10 3 17 3-8 3 20 3-25 3 18 3-18 3 13 3-26 3 17 3-16 3 21 3-2 3 20 3-10 3 11 3-18 3 11 3-22 3 11 3-10 3 7 3-5 3 30 3-15 3 15 3-17 3 11 3-20 3-1 3-11 3 9 3-14 3 18 3-10 3 22 3-1 3 10 3-16 3 10 3-12 3 4 3-21 3 19 3-9 3 12 3-1 3 17 3-14 3 11 3-21 3 6 3-15 3 7 3-8 3 11 3 0 3 15 3-2 3 13 3-18 3 15 3-27 3 5 3-10 3 9 3-15 3 26 3-4 3 14 3-12 3 11 3-12 3 5 3-14 3 8 3-18 3 17 3-8 3 14 3-8 3 15 3-20 3 17 3-13 3 4 3-19 3 13 3-11 3 28 3-17 3 19 3-11 3 17 3-14 3 5 3-22 3 5 3-3 3 17 3-11 3 25 3-13 3 24 3-15 3 7 3-24 3 9 3-23 3 5 3-11 3 28 3 1 3 7 3-9 3 24 3-20 3 15 3-32 3 18 3-24 3 12 3-9 3 20 3-18 3 28 3-15 3 12 3-19 3 11 3-24 3 8 3-4 3 16 3-12 3 25 3-10 3 11 3-18 3 18 3-35 3 11 3-17 3 11 3 2 3 20 3-8 3 29 3-9 3 12 3-22 3 6 3-31 3 16 3-12 3 15 3-8 3 22 3-15 3 21 3-25 3 16 3-23 3 9 3-8 3 15 3-13 3 11 3-2 3 16 3-8 3 13 3-22 3 10 3-13 3 8 3-16 3 15 3-1 3 15 3-10 3 18 3-20 3 11 3-25 3 18 3-21 3 17 3-13 3 15 3 1 3 19 3-9 3 6 3-10 3-1 3-20 3 4 3-19 3 20 3-1 3 18 3-3 3 21 3-9 3 7 3-31 3 9 3-22 3 13 3-15 3 27 3-8 3 21 3-2 3 1 3-14 3 12 3-16 3 4 3-21 3 17 3-6 3 8 3-8 3 21 3-14 3 14 3-19 3 16 3-24 3 17 3-22 3 20 3 1 3 15 3-8 3 29 3-25 3 8 3-24 3 7 3-21 3 13 3-9 3 29 3-3 3 22 3-13 3 5 3-20 3 2 3-22 3 13 3-6 3 17 3-10 3 23 3-9 3 12 3-11 3 7 3-26 3 8 3-20 3 16 3-2 3 13 3-6 3 21 3-16 3 19 3-17 3 12 3-26 3 12 3-7 3 16 3-20 3 23 3-14 3 27 3-18 3 7 3-12 3 5 3-15 3 10 3-16 3 30 3-8 3 11 3-14 3 18 3-17 3 13 3-24 3 7 3-11 3 15 3-6 3 20 3-10 3 20 3-14 3 10 3-27 3 1 3-19 3 20 3-21 3 27 3-8 3 20 3-4 3 15 3-16 3 3 3-22 3 14 3-12 3 10 3-15 3 23 3-8 3 17 3-11 3 13 3-22 3 13 3-27 3 20 3-11 3 13 3-8 3 19 3-4 3 18 3-22 3 9 3-26 3 17 3-17 3 14 3-9 3 15 3-8 3 29 3-23 3 13 3-14 3 5 3-20 3 0 3-14 3 22 3-6 3 21 3-6 3 15 3-11 3 7 3-30 3 16 3-15 3 7 3-8 3 20 3-3 3 22 3-16 3 6 3-19 3 14 3-17 3 7 3-8 3 16 3-13 3 15 3-19 3 15 3-11 3 18 3-19 3 10 3-13 3 9 3-12 3 22 3-12 3 21 3-3 3 15 3-14 3 3 3-22 3 4 3-26 3 13 3-3 3 21 3 0 3 18 3-5 3 6 3-25 3 6 3-24 3 13 3-12 3 28 3-5 3 10 3-11 3 20 3-25 3 14 3-12 3 11 3-13 3 15 3-18 3 24 3-12 3 11 3-3 3 9 3-24 3 4 3-14 3 11 3-13 3 15 3-1 3 24 3-4 3 11 3-15 3-1 3-18 3 6 3-17 3 17 3-10 3 26 3-3 3 12 3-14 3 9 3-16 3 12 3-34 3 25 3-17 3 10 3-1 3 23 3-11 3 13 3-9 3 6 3-21 3 6 3-15 3 11 3-5 3 23 3-8 3 17 3-9 3 16 3-22 3 2 3-23 3 16 3-15 3 14 3-8 3 21 3-5 3 19 3-19 3 2 3-11 3 6 3-17 3 19 3-18 3 18 3-9 3 23 3-17 3 17 3-22 3 13 3-15 3 12 3-18 3 15 3-6 3 15 3-5 3 14 3-14 3 7 3-15 3 9 3-11 3 6 3-3 3 6 3-6 3 11 3-2 3 11 3-19 3 2 3-11 3 9 3-14 3 22 3-14 3 22 3-9 3 20 3-14 3 11 3-17 3 5 3-13 3 8 3-12 3 14 3-6 3 18 3-17 3 22 3-24 3 12 3-24 3 9 3-17 3 7 3 8 3 22 3-11 3 18 3-11 3 14 3-25 3 5 3-25 3 15 3-20 3 23 3-4 3 23 3-8 3 19 3-17 3 10 3-28 3 19 3-20 3 9 3-10 3 23 3-12 3 16 3-10 3 18 3-9 3 11 3-27 3 5 3-16 3 14 3-9 3 35 3-3 3 5 3-19 3 20 3-24 3 2 3-15 3 11 3-22 3 25 3-5 3 26 3-17 3 18 3-20 3 6 3-24 3 20 3-26 3 18 3-6 3 13 3-2 3 23 3-21 3 21 3-24 3 5 3-17 3 9 3-16 3 29 3-9 3 12 3-5 3 18 3-23 3 9 3-23 3 18 3-15 3 6 3-10 3 22 3-6 3 11 3-12 3 14 3-15 3 5 3-12 3 17 3-16 3 18 3-13 3 23 3-9 3 12 3-24 3 21 3-21 3 7 3-14 3 20 3-17 3 20 3-14 3 21 3-11 3 12 3-14 3 14 3-24 3 21 3-19 3 9 3-12 3 17 3-4 3 17 3-20 3 17 3-22 3 4 3-12 3 15 3-9 3 15 3-13 3 25 3-12 3 13 3-16 3 6 3-18 3 9 3-17 3 16 3-4 3 13 3-5 3 20 3-19 3 6 3-21 3 14 3-17 3 20 3-17 3 19 3-9 3 20 3-1 3 15 3-27 3 10 3-26 3 11 3-20 3 13 3-8 3 29 3-1 3 15 3-15 3 2 3-7 3 5 3-20 3 9 3-14 3 20 3-9 3 21 3-7 3 19 3-17 3 16 3-31 3 14 3-16 3 5 3-3 3 27 3-10 3 15 3-14 3 15 3-21 3 9 3-25 3 8 3-13 3 19 3-2 3 24 3-5 3 12 3-24 3 19 3-28 3-2 3-14 3 11 3-9 3 23 3-3 3 23 3-13 3 7 3-18 3 18 3-22 3 6 3-20 3 31 3-16 3 29 3-16 3 15 3-14 3 14 3-24 3 14 3-22 3 16 3-9 3 21 3-10 3 19 3-11 3 7 3-7 3 2 3-22 3 5 3-18 3 20 3 1 3 31 3-17 3 20 3-15 3 9 3-25 3 2 3-8 3 7 3-15 3 16 3-5 3 20 3-18 3 14 3-8 3 6 3-23 3 4 3-1 3 19 3-17 3 19 3-4 3 17 3-12 3 6 3-7 3 5 3-19 3 10 3-11 3 16 3-9 3 24 3-16 3 14 3-14 3 6 3-15 3 11 3-18 3 19 3-10 3 18 3-11 3 21 3-11 3 10 3-24 3 8 3-22 3 13 3-16 3 22 3-5 3 18 3-6 3 14 3-17 3 15 3-24 3 11 3-31 3 26 3-12 3 16 3-1 3 9 3-7 3 15 3-26 3 21 3-25 3 14 3-11 3 16 3-9 3 15 3-7 3 21 3-19 3 16 3-24 3-1 3-19 3 17 3-17 3 21 3 2 3 24 3-11 3 10 3-17 3 7 3-33 3 21 3-20 3 16 3-6 3 23 3-18 3 28 3-14 3 8 3-18 3 13 3-25 3 18 3-17 3 13 3 12 3 13 3-13 3 21 3-22 3 9 3-19 3 5 3-12 3 9 3-5 3 14 3-4 3 16 3-18 3 13 3-21 3 14 3-18 3 11 3-10 3 13 3-12 3 21 3-8 3 15 3-17 3 8 3-17 3 6 3-11 3 18 3-9 3 21 3-5 3 20 3-20 3 10 3-25 3 21 3-25 3 13 3-19 3 19 3-15 3 19 3-7 3 20 3-13 3 9 3-14 3 15 3-24 3 21 3-14 3 12 3-7 3 19 3-11 3 17 3-19 3-2 3-20 3 3 3-8 3 13 3 0 3 22 3-6 3 15 3-16 3 7 3-13 3-4 3-14 3 16 3-17 3 22 3 0 3 23 3-17 3 13 3-12 3 0 3-26 3 9 3-16 3 24 3-13 3 23 3-15 3 28 3-13 3 2 3-21 3 14 3-18 3 13 3-24 3 25 3-3 3 24 3-7 3 6 3-26 3 20 3-25 3 15 3-22 1 19 0-4894 2 0 3 3635 3 819 3 138 3 45 3-8 3 9 3-16 3 8 3-18 3 10 3-14 3 15 3 3 3 14 3-8 3 20 3-25 3 7 3-24 3 15 3-17 3 12 3-14 3 23 3-12 3 22 3-10 3 4 3-13 3 11 3-21 3 19 3-19 3 21 3-10 3 27 3-13 3 9 3-18 3 11 3-21 3 19 3-25 3 21 3-15 3 16 3-2 3 15 3-13 3 11 3-16 3 6 3-20 3 3 3-9 3 18 3-4 3 21 3-7 3 23 3-18 3-6 3-11 3 10 3-24 3 25 3-18 3 16 3-2 3 14 3-14 3 11 3-15 3 13 3-17 3 15 3-23 3 11 3-3 3 16 3-19 3 24 3-9 3 11 3-26 3 12 3-15 3 5 3-11 3 19 3-15 3 24 3-9 3 10 3-18 3 13 3-15 3 4 3-13 3 14 3-6 3 17 3-2 3 7 3-11 3 2 3-15 3 18 3-36 3 17 3-7 3 21 3-8 3 22 3-9 3 14 3-13 3-7 3-20 3 9 3-18 3 18 3-9 3 21 3-8 3 16 3-12 3 6 3-21 3 19 3-25 3 8 3-3 3 11 3-8 3 24 3-13 3 13 3-21 3 13 3-19 3 7 3-19 3 16 3-4 3 15 3-5 3 16 3-10 3 13 3-23 3 10 3-21 3 17 3-14 3 15 3-15 3 18 3-9 3 18 3-17 3 17 3-15 3 6 3-26 3 13 3-6 3 15 3-13 3 25 3-13 3 14 3-19 3 5 3-18 3 7 3-16 3 12 3 4 3 14 3-6 3 21 3-15 3 4 3-20 3 8 3-23 3 2 3-10 3 20 3 7 3 18 3-4 3 16 3-24 3 3 3-19 3 6 3-13 3 16 3-9 3 9 3-2 3 10 3-8 3 13 3-17 3 7 3-17 3 19 3-16 3 9 3-9 3 15 3-10 3 24 3-24 3 16 3-20 3 11 3-12 3 6 3-1 3 17 3-22 3 21 3-12 3 12 3-22 3 17 3-23 3 15 3-11 3 11 3-5 3 19 3-16 3 19 3-24 3 14 3-17 3 15 3-18 3 5 3-2 3 21 3-11 3 15 3-20 3 12 3-13 3 4 3-15 3 17 3-10 3 11 3-10 3 17 3-11 3 19 3-19 3 5 3-13 3 1 3-15 3 13 3-15 3 17 3-1 3 24 3-14 3 7 3-11 3 2 3-15 3 2 3-9 3 14 3-2 3 29 3-3 3 7 3-12 3 2 3-20 3 16 3-21 3 9 3-19 3 30 3-12 3 20 3-17 3 21 3-18 3 6 3-20 3 5 3-15 3 14 3-17 3 28 3-7 3 24 3-13 3 11 3-25 3 11 3-22 3 11 3-10 3 17 3-4 3 18 3-7 3 3 3-8 3 10 3-22 3 0 3-18 3 18 3-12 3 29 3-5 3 7 3-11 3 17 3-27 3 11 3-25 3 21 3-23 3 22 3-5 3 27 3-16 3 16 3-14 3 5 3-16 3 1 3-19 3 20 3-9 3 19 3-2 3 20 3-9 3 18 3-33 3 11 3-18 3 12 3-23 3 21 3-11 3 24 3-13 3 15 3-7 3 8 3-20 3 3 3-13 3 4 3-2 3 24 3-12 3 21 3-13 3 12 3-17 3 1 3-28 3 12 3-14 3 22 3-3 3 21 3-1 3 11 3-14 3 10 3-17 3-5 3-22"/>
<path stroke="#00ffff" d="M-183 33l3 19 3-13 3 3 3-27 3 24 3-21 3 12 3-9 3 24 3-6 3 14 3-11 3 15 3-26 3 10 3-24 3 12 3-17 3 22 3-11 3 25 3-6 3 18 3-21 3 4 3-19 3 8 3-27 3 25 3-11 3 19 3-6 3 17 3-14 3 21 3-26 3 11 3-16 3 8 3-17 3 22 3-5 3 15 3-17 3 20 3-18 3 14 3-20 3 7 3-12 3 9 3-15 3 32 3-17 3 17 3 2 3 8 3-26 3 12 3-24 3 19 3-15 3 13 3 15816 3-13627 3-1643 3-202 3-68 3-20 3-39 3 1 3-36 3 0 3-21 3 12 3-28 3 20 3-20 3 10 3-23 3 8 3-24 3-3 3-12 3 16 3-8 3 14 3-2 3 12 3-18 3 14 3-25 3 14 3-25 3 17 3-16 3 22 3-12 3 27 3-20 3 23 3-24 3 9 3-14 3 5 3-14 3 1 3-2 3 18 3-3 3 12 3-8 3 5 3-17 3 5 3-17 3 15 3-11 3 12 3-11 3 19 3-4 3 15 3-15 3 8 3-20 3 7 3-24 3 24 3-14 3 19 3 1 3 18 3-17 3 14 3-19 3 9 3-25 3 9 3-13 3 20 3-11 3 11 3 10 3 7 3-20 3 15 3-23 3 9 3-19 3 16 3-4 3 20 3-16 3 14 3-8 3 7 3-11 3 3 3-13 3 13 3-16 3 15 3-9 3 23 3-12 3 28 3-21 3 8 3-21 3 9 3-16 3 15 3-22 3 22 3-1 3 21 3-18 3 13 3-21 3 11 3-21 3-1 3-7 3 19 3-12 3 29 3-16 3 17 3-15 3 7 3-23 3 11 3-20 3 19 3-7 3 11 3-8 3 20 3-8 3 10 3-24 3 14 3-18 3 12 3-19 3 22 3-11 3 18 3-6 3 13 3-10 3 10 3-16 3 9 3-30 3 15 3-14 3 21 3-8 3 22 3-10 3 20 3-16 3 5 3-30 3 7 3-7 3 9 3-9 3 20 3-2 3 17 3-17 3 12 3-20 3 10 3-25 3 17 3-16 3 14 3 1 3 22 3-4 3 16 3-20 3 5 3-20 3 5 3-20 3 15 3-16 3 31 3-17 3 29 3-25 3 10 3-12 3 10 3-16 3 7 3-13 3 20 3-11 3 25 3-9 3 17 3-22 3 5 3-14 3 12 3-28 3 14 3-2 3 15 3 1 3 22 3-20 3 14 3-30 3 18 3-25 3 8 3-17 3 16 3-1 3 24 3-3 3 19 3-20 3 18 3-31 3 9 3-17 3 0 3-7 3 17 3-7 3 21 3-9 3 12 3-18 3 15 3-27 3 18 3-23 3 16 3-9 3 19 3-8 3 17 3-10 3 3 3-16 3 14 3-24 3 11 3-10 3 14 3-2 3 23 3-13 3 15 3-16 3 14 3-24 3 6 3-12 3 11 3-5 3 21 3-12 3 19 3-13 3 8 3-13 3 7 3-31 3 17 3-17 3 18 3-6 3 21 3-10 3 11 3-13 3 11 3-25 3 14 3-23 3 16 3-7 3 23 3-15 3 32 3-24 3 20 3-20 3 2 3-21 3 8 3-12 3 26 3-5 3 13 3-4 3 16 3-24 3 18 3-24 3 13 3-26 3 14 3 0 3 10 3-8 3 18 3-9 3 22 3-26 3 14 3-22 3 5 3-15 3 23 3-18 3 22 3-7 3 12 3-13 3 7 3-8 3 8 3-25 3 10 3-9 3 17 3-6 3 16 3-5 3 22 3-28 3 7 3-23 3 6 3-17 3 17 3-7 3 27 3-2 3 11 3-12 3 12 3-16 3-1 3-20 3 15 3-16 3 15 3-11 3 24 3-11 3 14 3-18 3 13 3-13 3 13 3-21 3 22 3-18 3 17 3-8 3 19 3-21 3 10 3-13 3-1 3-22 3 11 3-16 3 24 3-11 3 37 3-7 3 18 3-4 3 0 3-26 3 8 3-19 3 8 3-4 3 31 3-20 3 25 3-11 3 13 3-21 3 2 3-25 3 7 3-13 3 20 3-7 3 19 3-6 3 17 3-18 3 9 3-18 3 4 3-21 3 13 3-9 3 29 3-14 3 19 3-14 3 19 3-23 3 12 3-19 3 13 3-27 3 28 3-8 3 22 3-15 3 20 3-15 3 13 3-25 3 5 3-23 3 25 3-25 3 21 3 0 3 18 3-20 3 19 3-19 3 11 3-20 3 18 3-19 3 14 3-15 3 27 3-14 3 12 3-6 3 13 3-24 3 5 3-14 3 19 3-19 3 21 3-14 3 12 3-7 3 14 3-15 3 10 3-19 3 6 3-18 3 24 3-15 3 25 3-3 3 19 3-19 3 15 3-30 3 12 3-21 3 4 3-9 3 19 3-7 3 25 3-15 3 21 3-18 3 12 3-13 3 6 3-17 3 16 3-7 3 7 3-4 3 24 3-9 3 10 3-23 3 4 3-16 3 7 3-20 3 16 3-5 3 28 3-8 3 14 3-17 3 8 3-21 3 7 3-18 3 14 3-15 3 24 3-10 3 31 3-11 3 12 3-27 3 12 3-29 3 7 3-19 3 16 3 5 3 19 3-1 3 25 3-15 3-2 3-15 3-3 3-18 3 8 3-17 3 24 3 2 3 14 3-13 3 20 3-19 3 7 3-12 3 1 3-4 3 14 3-10 3 17 3-13 3 18 3-13 3 13 3-26 3 15 3-23 3 10 3-16 3 27 3-10 3 13 3-10 3 8 3-4 3 14 3-25 3 7 3-15 3 20 3-9 3 22 3-10 3 10 3-18 3 11 3-15 3 14 3-20 3 12 3-13 3 23 3-11 3 25 3-18 3 17 3-17 3 12 3-28 3 8 3-18 3 15 3-8 3 21 3 0 3 15 3-11 3 20 3-33 3 12 3-30 3 14 3-15 3 24 3-15 3 26 3-12 3 26 3-26 3 7 3-24 3 17 3-23 3 11 3-4 3 24 3-2 3 9 3-18 3 17 3-17 3 17 3-32 3 19 3-13 3 13 3-15 3 28 3-18 3 22 3-11 3 14 3-24 3 2 3-14 3 11 3-9 3 17 3-8 3 22 3-14 3 13 3-20 3 13 3-21 3 15 3-21 3 18 3-9 3 19 3-7 3 20 3-13 3 13 3-22 3 5 3-18 3 5 3-16 3 26 3-8 3 16 3-6 3 15 3-12 3 1 3-20 3 7 3-14 3 8 3-4 3 14 3 3 3 13 3-8 3-5 3-4 3 12 3-24 3 9 3-13 3 22 3-11 3 19 3-8 3 21 3-25 3 19 3-25 3 6 3-26 3 17 3-8 3 18 3 0 3 10 3 1 3 13 3-24 3 12 3-21 3 13 3-15 3 7 3-10 3 24 3-6 3 11 3-10 3 6 3-17 3 6 3-13 3 10 3-8 3 17 3-5 3 15 3-11 3 15 3-15 3 1 3-18 3 6 3-13 3 12 3-6 3 19 3 0 3 20 3-17 3 9 3-14 3-2 3-19 3 12 3-20 3 28 3-6 3 18 3-14 3 19 3-20 3 14 3-24 3 18 3-18 3 7 3-7 3 23 3-18 3 19 3-14 3 24 3-22 3 4 3-24 3 12 3-14 3 15 3-1 3 20 3-8 3 9 3-8 3 7 3-14 3 8 3-19 3 14 3-12 3 25 3-12 3 18 3-25 3 22 3-20 3 5 3-13 3 19 3-18 3 13 3-10 3 25 3-14 3 12 3-11 3 8 3-18 3 17 3-20 3 6 3-7 3 21 3-12 3 27 3-20 3 13 3-22 3 10 3-28 3 14 3-19 3 24 3-12 3 24 3 0 3 20 3-15 3 7 3-28 3-2 3-14 3 11 3-11 3 22 3-5 3 25 3-13 3 21 3-22 3 0 3-21 3 7 3-16 3 22 3-6 3 22 3-21 3 22 3-10 3 10 3-19 3 15 3-21 3 12 3-12 3 13 3-2 3 17 3-7 3 6 3-16 3 8 3-15 3 4 3-13 3 9 3-8 3 17 3-8 3 27 3-15 3 9 3-16 3 3 3-24 3 18 3-9 3 21 3-13 3 26 3-16 3 23 3-16 3 2 3-31 3 21 3-27 3 21 3-14 3 25 3-13 3 24 3-15 3 14 3-23 3 11 3-14 3 6 3-16 3 23 3-13 3 25 3-17 3 25 3-17 3-4 3-12 3 7 3-17 3 6 3-5 3 22 3-2 3 17 3-9 3 20 3-23 3 1 3-19 3 8 3-24 3 21 3-8 3 27 3-9 3 21 3-19 3 18 3-27 3 11 3-21 3 14 3-13 3 26 3-15 3 10 3 3 3 3 3-16 3 14 3-14 3 2 3-15 3 14 3-11 3 21 3-6 3 8 3-12 3 18 3-22 3 10 3-28 3 18 3-5 3 11 3-12 3 34 3-11 3 16 3-19 3-2 3-19 3 15 3-18 3 14 3-9 3 24 3-8 3 24 3-13 3 8 3-25 3 3 3-13 3 5 3-18 3 21 3-2 3 22 3-5 3 13 3-11 3 0 3-25 3 6 3-24 3 11 3 1 3 22 3-2 3 21 3-19 3 17 3-25 3 13 3-23 3 11 3-15 3 22 3-6 3 22 3-14 3 22 3-14 3 9 3-27 3 8 3-16 3 11 3-11 3 17 3-7 3 20 3-20 3 17 3-25 3 19 3-26 3 20 3-19 3 11 3-16 3 34 3-19 3 11 3-10 3 11 3-13 3 8 3-20 3 18 3-11 3 14 3 0 3 35 3-23 3 20 3-25 3 5 3-27 3 6 3-23 3 26 3-5 3 20 3-3 3 14 3-11 3 2 3-12 3 3 3-18 3 7 3-11 3 26 3-8 3 22 3-17 3 14 3-18 3 16 3-20 3 4 3-10 3 8 3-9 3 26 3-7 3 10 3-9 3 5 3-17 3 7 3-21 3 21 3-17 3 17 3-3 3 11 3-6 3 10 3-6 3 6 3-19 3 7 3-25 3 25 3-20 3 22 3 2 3 21 3-15 3 6 3-12 3-3 3-21 3 14 3-24 3 21 3-5 3 23 3-7 3 15 3-27 3 24 3-25 3 1 3-10 3 9 3-8 3 17 3 4 3 22 3-12 3 11 3-21 3 6 3-24 3 7 3-16 3 18 3-2 3 18 3-4 3 13 3-13 3 10 3-10 3 0 3-20 3 10 3-10 3 12 3-3 3 20 3-13 3 12 3-14 3 10 3-25 3 19 3-19 3 15 3-13 3 29 3-13 3 16 3-17 3 11 3-20 3 10 3-16 3 16 3-20 3 18 3 2 3 5 3-13 3 15 3-12 3 9 3-18 3 5 3-12 3 19 3-13 3 21 3-8 3 18 3-17 3 21 3-27 3 0 3-21 3 20 3-20 3 27 3-12 3 22 3-5 3 17 3-27 3 14 3-21 3 6 3-19 3 16 3-8 3 17 3-6 3 17 3-7 3 15 3-19 3 1 3-20 3 12 3-9 3 19 3-10 3 28 3-9 3 13 3-20 3 12 3-22 3 5 3-19 3 11 3-8 3 20 3-9 3 23 3-6 3 2 3-18 3 8 3-22 3 9 3-17 3 20 3-11 3 32 3-16 3 23 3-22 3 13 3-16 3 4 3-20 3 20 3-10 3 24 3-14 3 17 3-10 3 14 3-18 3 11 3-24 3 5 3-18 3 24 3-11 3 14 3-5 3 21 3-12 3 10 3-23 3 6 3-13 3 14 3-14 3 11 3-5 3 22 3-12 3 16 3-20 3 5 3-14 3 12 3-17 3 21 3-14 3 25 3-21 3 26 3-10 3 5 3-16 3 5 3-15 3 11 3-14 3 27 3-23 3 26 3-13 3 13 3-13 3 9 3-21 3 9 3-19 3 18 3-11 3 20 3-10 3 21 3-16 3 7 3-9 3 3 3-20 3 13 3-17 3 24 3-20 3 15 3-13 3 26 3-20 3 14 3-25 3 16 3-15 2 16 1-4741 1 0 2 2814 3 1482 3 271 3 68 3-5 3 19 3-22 3 8 3-29 3 4 3-11 3 25 3-12 3 21 3-4 3 20 3-17 3 13 3-21 3 2 3-12 3 10 3-14 3 25 3-13 3 26 3-9 3 4 3-17 3 12 3-25 3 9 3-15 3 12 3-8 3 22 3-5 3 19 3-13 3 5 3-22 3 3 3-7 3 4 3-11 3 19 3-10 3 33 3-18 3 12 3-17 3 22 3-31 3-1 3-13 3 20 3-16 3 33 3-9 3 23 3-18 3 7 3-24 3 3 3-13 3 6 3-7 3 16 3-9 3 16 3-8 3 10 3-11 3 7 3-15 3 11 3-16 3 12 3-13 3 16 3-2 3 15 3-13 3 13 3-12 3 10 3-25 3 12 3-11 3 17 3-12 3 16 3-11 3 25 3-17 3 12 3-25 3 8 3-20 3 14 3-10 3 26 3-14 3 18 3-5 3 16 3-16 3 10 3-26 3 20 3-19 3 15 3-13 3 20 3-4 3 11 3-12 3 7 3-17 3-2 3-11 3 6 3-3 3 19 3-10 3 23 3-14 3 11 3-22 3 8 3-21 3 16 3-22 3 15 3-5 3 17 3-15 3 26 3-19 3 6 3-17 3 12 3-24 3 17 3-7 3 13 3-8 3 28 3-14 3 12 3-18 3 9 3-17 3 0 3-9 3 17 3-9 3 31 3-20 3 28 3-24 3 13 3-23 3 1 3-18 3 19 3-18 3 21 3-16 3 22 3-7 3 14 3-18 3 12 3-18 3 15 3-23 3 15 3-9 3 22 3-9 3 18 3-14 3 14 3-22 3 4 3-22 3 18 3-21 3 18 3-4 3 23 3-15 3 25 3-18 3 3 3-20 3 7 3-11 3 12 3-16 3 22 3-13 3 24 3-3 3 20 3-34 3-2 3-15 3 5 3-14 3 28 3-13 3 27 3-6 3 21 3-24 3 5 3-18 3 7 3-19 3 20 3-12 3 15 3-8 3 20 3-16 3 19 3-15 3-5 3-23 3 16 3-13 3 17 3-14 3 22 3-3 3 12 3-11 3 17 3-29 3 10 3-13 3 2 3-4 3 18 3-5 3 20 3-18 3 18 3-16 3 7 3-23 3 17 3-22 3 21 3-16 3 18 3-7 3 26 3-20 3 12 3-14 3 4 3-22 3 12 3-13 3 18 3-6 3 29 3-12 3 20 3-26 3 9 3-22 3 6 3-13 3 6 3 4 3 9 3-1 3 12 3-12 3 18 3-21 3 4 3-21 3 1 3-12 3 23 3-3 3 22 3-7 3 20 3-24 3 15 3-26 3 5 3-18 3 17 3-9 3 19 3-3 3 14 3-18 3 18 3-13 3-2 3-24 3 13 3-5 3 12 3-9 3 24 3-19 3 29 3-15 3-3 3-17 3 10 3-15 3 13 3-10 3 17 3-9 3 18 3-11 3 14 3-21 3 13 3-19 3 7 3-11 3 12 3-5 3 16 3-12 3 20 3-14 3 9 3-24 3 16 3-10 3 6 3-10 3 18 3-15 3 25 3-14 3 16 3-19 3 10 3-21 3 10 3-18 3 12 3-10 3 18 3-11 3 23 3-17 3 19 3-22 3 10 3-15 3 7 3-8 3 16 3-4 3 11 3-17 3 23 3-23 3 17 3-16 3 2 3-17"/>
<path stroke="#ff00ff" d="M-183 28l3 14 3-23 3 9 3-16 3 10 3-17 3 28 3-19 3 25 3-11 3 16 3-8 3 3 3-17 3 2 3-21 3 17 3-7 3 24 3-13 3 21 3-9 3 4 3-15 3 12 3-23 3 4 3-7 3 18 3-7 3 17 3-19 3 28 3-16 3 15 3-24 3 14 3-21 3 7 3-10 3 15 3 2 3 18 3-13 3 14 3-15 3 4 3-23 3 8 3-15 3 16 3-1 3 9 3-3 3 16 3-47 3 22 3 2 3 4 3-24 3 13 3-4 3 17 3 15699 3-13619 3-1624 3-202 3-55 3-18 3-34 3-6 3-27 3 6 3-20 3 16 3-20 3 14 3-16 3 1 3-15 3 5 3-12 3 8 3-14 3 14 3-14 3 24 3-13 3 5 3-16 3 12 3-19 3 14 3-20 3 19 3-13 3 13 3-14 3 33 3-20 3 13 3-20 3 2 3-21 3 10 3-13 3 17 3-5 3 26 3-18 3 17 3-12 3 9 3-21 3 14 3-14 3 9 3-15 3 25 3-14 3 18 3-18 3 18 3-15 3 3 3-22 3 5 3-11 3 16 3-6 3 21 3-9 3 14 3-14 3 17 3-19 3 7 3-23 3 17 3-7 3 13 3-6 3 9 3-10 3 10 3-14 3 15 3-13 3 15 3-14 3 7 3-8 3 17 3-19 3 14 3-18 3 11 3-13 3 7 3-10 3 20 3-19 3 11 3-9 3 17 3-6 3 13 3-3 3 4 3-14 3 1 3-16 3 19 3-13 3 22 3-14 3 24 3-11 3 6 3-22 3 5 3-16 3 11 3-19 3 17 3-3 3 20 3-12 3 18 3-19 3 20 3-28 3 15 3-22 3 14 3-11 3 22 3-11 3 17 3-13 3 14 3-16 3 10 3-25 3 15 3-16 3 20 3-11 3 24 3-8 3 15 3-16 3 9 3-20 3 1 3-15 3 18 3-19 3 23 3-10 3 23 3-16 3 20 3-21 3 2 3-16 3 4 3-16 3 24 3-12 3 28 3-19 3 25 3-19 3 11 3-22 3 9 3-23 3 12 3-8 3 22 3-4 3 20 3-19 3 21 3-22 3 10 3-19 3 3 3-15 3 21 3-16 3 31 3-20 3 14 3-6 3 7 3-15 3 15 3-28 3 16 3-20 3 13 3 6 3 21 3-13 3 10 3-10 3 14 3-28 3 6 3-17 3 20 3-6 3 20 3-7 3 16 3-12 3 9 3-18 3 9 3-24 3 19 3-17 3 10 3-4 3 20 3-6 3 7 3-15 3 18 3-27 3 7 3-16 3 10 3-2 3 10 3-11 3 24 3-13 3 22 3-21 3 4 3-15 3 9 3-21 3 23 3-14 3 18 3-5 3 11 3-16 3 16 3-15 3 6 3-17 3 9 3-8 3 9 3-6 3 15 3-12 3 19 3-21 3 15 3-22 3 21 3-12 3 12 3-13 3 24 3-12 3 15 3-12 3 12 3-22 3 1 3-14 3 14 3-13 3 22 3-18 3 31 3-6 3 7 3-19 3 8 3-11 3 3 3-16 3 15 3-8 3 13 3-12 3 24 3-13 3 15 3-24 3 5 3-10 3 7 3-14 3 14 3-7 3 22 3-6 3 16 3-15 3 1 3-16 3 14 3-21 3 16 3-14 3 12 3-8 3 16 3-11 3 15 3-24 3 12 3-28 3 22 3-15 3 18 3-2 3 20 3-8 3 22 3-22 3 5 3-18 3 12 3-20 3 16 3-13 3 14 3-10 3 24 3-18 3 18 3-14 3 5 3-23 3 11 3-13 3 18 3-17 3 31 3-15 3 22 3-20 3 8 3-19 3 5 3-18 3 18 3-22 3 22 3-4 3 32 3-23 3 18 3-24 3 0 3-23 3 19 3-15 3 24 3-16 3 20 3-5 3 11 3-12 3 12 3-20 3 7 3-13 3 21 3-17 3 15 3-11 3 17 3-3 3 10 3-20 3 19 3-24 3 6 3-16 3 21 3-13 3 27 3-10 3 14 3-22 3 13 3-22 3 13 3-17 3 12 3-20 3 27 3-11 3 12 3-11 3 19 3-17 3 14 3-23 3 15 3-13 3 12 3-12 3 22 3-5 3 11 3-18 3 18 3-26 3 12 3-15 3 8 3-22 3 16 3 0 3 18 3-9 3 14 3-20 3 19 3-28 3 14 3-18 3 23 3-8 3 17 3-6 3 11 3-9 3 6 3-14 3 9 3-27 3 11 3-8 3 11 3-14 3 25 3-4 3 17 3-21 3 15 3-18 3 5 3-16 3 13 3-19 3 33 3-16 3 22 3-13 3 20 3-17 3 8 3-31 3 18 3-11 3 6 3-13 3 19 3-7 3 23 3-19 3 9 3-21 3 7 3-15 3 12 3-14 3 23 3-10 3 30 3-5 3 8 3-24 3 10 3-19 3 16 3-28 3 15 3-3 3 21 3-8 3 22 3-15 3 21 3-23 3 0 3-15 3-1 3-10 3 15 3-5 3 19 3-7 3 25 3-18 3 3 3-23 3 11 3-20 3 14 3-11 3 20 3-8 3 17 3-9 3 10 3-20 3 18 3-30 3 10 3-10 3 14 3-6 3 15 3-3 3 27 3-23 3-1 3-26 3 16 3-17 3 17 3-9 3 17 3 3 3 15 3-14 3 12 3-17 3 0 3-17 3 10 3-18 3 21 3-10 3 30 3-14 3 24 3-21 3 12 3-19 3 4 3-17 3 7 3-13 3 20 3-1 3 19 3-17 3 23 3-28 3 4 3-13 3-1 3-7 3 8 3 2 3 15 3-4 3 24 3-22 3 14 3-25 3 16 3-25 3 20 3-13 3 19 3-18 3 16 3 0 3 5 3-14 3 12 3-21 3 15 3-18 3 13 3-16 3 26 3-3 3 14 3-23 3 14 3-17 3 16 3-18 3 4 3-13 3 13 3 1 3 10 3-9 3 15 3-14 3 15 3-16 3 7 3-17 3 3 3-3 3 27 3-12 3 14 3-9 3 15 3-23 3 3 3-19 3 12 3-13 3 20 3-17 3 21 3-7 3 15 3-13 3 12 3-22 3 3 3-16 3 15 3-17 3 27 3-6 3 15 3-16 3 13 3-12 3 15 3-27 3 11 3-13 3 13 3-5 3 12 3-6 3 19 3-8 3 9 3-22 3 3 3-25 3 15 3-3 3 18 3-14 3 20 3-6 3 9 3-15 3 5 3-13 3 13 3-24 3 27 3-15 3 17 3-12 3 26 3-23 3 9 3-20 3 22 3-26 3 23 3-15 3 23 3-8 3 11 3-15 3 20 3-21 3 10 3-21 3 20 3-21 3 17 3-16 3 25 3-16 3 31 3-20 3 19 3-31 3 13 3-27 3 9 3-11 3 21 3 4 3 16 3-5 3 10 3-19 3 2 3-18 3 0 3-16 3 7 3-6 3 29 3-3 3 32 3-19 3 10 3-29 3 7 3-20 3 5 3-13 3 20 3-7 3 22 3-10 3 18 3-19 3 7 3-17 3 10 3-16 3 6 3-1 3 11 3-8 3 15 3 9 3 0 3-17 3-1 3-18 3 4 3-10 3 26 3-8 3 23 3-16 3 27 3-17 3 2 3-15 3 11 3-22 3 9 3-7 3 18 3-14 3 21 3-9 3 22 3-17 3 3 3-32 3 17 3-19 3 21 3-12 3 22 3-15 3 24 3-20 3 19 3-22 3 11 3-13 3 11 3-18 3 19 3-4 3 18 3-9 3 6 3-13 3 11 3-24 3 10 3-11 3 16 3-16 3 23 3-14 3 24 3-15 3 15 3-25 3 6 3-19 3 20 3-15 3 22 3-16 3 26 3-1 3 11 3-15 3-2 3-8 3-5 3-24 3 18 3-14 3 29 3-8 3 12 3-11 3 13 3-16 3 15 3-20 3 14 3-17 3 16 3-8 3 12 3-9 3 19 3-11 3 4 3-12 3 15 3-22 3 15 3-10 3 13 3-6 3 15 3-18 3 10 3-15 3 14 3-17 3 9 3-12 3 15 3-16 3 22 3-9 3 14 3-15 3 13 3-27 3 16 3-24 3 13 3-1 3 15 3-4 3 19 3-10 3 14 3-19 3 7 3-33 3 12 3-17 3 18 3-5 3 25 3-19 3 31 3-20 3 7 3-15 3 12 3-26 3 15 3-9 3 13 3-1 3 12 3-5 3 15 3-15 3 4 3-18 3 7 3-10 3 10 3-12 3 27 3-10 3 15 3-12 3 7 3-15 3 7 3-23 3 6 3-7 3 19 3-5 3 13 3-8 3 8 3-10 3 10 3-24 3 9 3-10 3 16 3-15 3 25 3-15 3 28 3-23 3 16 3-26 3 9 3-18 3 23 3-14 3 13 3-8 3 20 3-8 3 6 3-16 3 5 3-9 3 1 3-15 3 13 3 2 3 15 3-6 3 19 3-7 3 18 3-35 3 9 3-15 3 8 3-20 3 12 3-8 3 25 3-12 3 15 3-15 3 7 3-22 3 12 3-20 3 15 3-18 3 34 3-13 3 28 3-9 3 5 3-15 3 4 3-21 3 8 3-5 3 11 3-12 3 23 3 0 3 6 3-9 3 1 3-17 3 9 3-27 3 8 3-4 3 24 3-6 3 22 3-13 3 17 3-19 3 8 3-20 3 1 3-16 3 25 3-13 3 21 3-8 3 27 3-20 3 7 3-23 3 10 3-16 3 11 3-12 3 24 3-6 3 20 3-9 3 11 3-15 3 5 3-24 3 4 3-22 3 21 3-11 3 29 3-15 3 20 3-13 3 23 3-29 3 11 3-19 3 9 3-10 3 14 3-2 3 22 3-15 3 22 3-19 3 8 3-26 3 5 3-19 3 13 3-7 3 18 3-2 3 18 3-20 3 15 3-12 3 14 3-24 3 2 3-16 3 21 3-8 3 17 3-6 3 15 3-17 3 13 3-19 3 4 3-19 3 16 3-5 3 18 3-8 3 31 3-19 3 14 3-18 3 4 3-27 3 5 3-13 3 18 3-11 3 15 3 9 3 13 3-14 3 0 3-17 3 17 3-27 3 16 3-13 3 29 3-14 3 24 3-19 3 24 3-21 3 12 3-24 3 9 3-17 3 7 3-6 3 19 3-4 3 23 3-20 3 13 3-28 3 11 3-19 3 21 3-19 3 14 3 1 3 22 3-3 3 9 3-15 3 3 3-20 3 7 3-23 3 23 3-16 3 22 3-5 3 15 3-19 3 19 3-23 3 11 3-25 3 14 3-14 3 20 3-3 3 24 3-17 3 20 3-15 3 1 3-23 3 7 3-21 3 20 3-12 3 28 3 0 3 23 3-15 3 16 3-18 3-9 3-20 3 11 3-16 3 13 3-9 3 26 3-13 3 18 3-18 3 16 3-22 3 8 3-7 3 6 3-9 3 25 3-13 3 18 3-13 3 13 3-17 3 10 3-22 3 14 3-18 3 16 3-17 3 27 3-13 3 10 3-15 3 18 3-21 3 10 3-22 3 15 3-16 3 27 3-15 3 27 3-17 3 27 3-19 3 2 3-25 3 9 3-15 3 13 3-3 3 29 3-6 3 15 3-7 3 5 3-27 3 8 3-15 3 7 3-4 3 10 3-9 3 27 3-11 3 18 3-20 3 4 3-14 3 14 3-18 3 14 3-16 3 16 3-14 3 26 3-19 3 10 3-20 3 9 3-25 3 16 3-18 3 22 3-6 3 27 3-3 3 12 3-14 3 10 3-20 3-4 3-16 3 4 3-3 3 23 3-9 3 34 3-13 3 8 3-20 3 8 3-22 3 3 3-14 3 32 3-13 3 14 3-9 3 22 3-19 3 10 3-26 3 12 3-19 3 16 3-4 3 17 3-6 3 11 3-9 3 16 3-24 3 9 3-17 3-3 3-9 3 10 3-4 3 26 3-10 3 15 3-9 3 14 3-30 3 15 3-19 3 17 3-14 3 17 3-11 3 21 3-14 3 11 3-9 3 11 3-21 3 11 3-24 3 17 3-14 3 18 3-12 3 21 3-11 3 10 3-15 3 0 3-7 4 12 0-4702 2 0 3 3931 3 576 3 105 3 32 3-11 3 12 3-31 3 15 3-6 3 0 3-10 3 24 3-19 3 27 3-10 3 16 3-26 3 6 3-14 3 6 3-17 3 19 3-11 3 22 3-8 3 17 3-15 3 11 3-21 3 11 3-22 3 10 3-9 3 14 3-12 3 30 3-9 3 8 3-13 3 8 3-19 3 3 3-28 3 21 3-17 3 30 3-11 3 19 3-18 3 22 3-20 3 12 3-29 3 12 3-14 3 11 3 3 3 15 3-11 3 28 3-17 3 8 3-22 3 11 3-25 3 12 3-14 3 20 3 2 3 23 3-18 3 15 3-20 3 8 3-20 3 5 3-18 3 25 3-8 3 22 3-10 3 24 3-21 3 15 3-28 3 3 3-18 3 18 3-11 3 20 3-2 3 12 3-10 3 17 3-22 3 13 3-17 3 12 3-7 3 11 3-15 3 18 3-12 3 19 3-14 3 11 3-18 3 6 3-23 3 15 3-11 3 14 3-14 3 27 3-12 3 14 3-18 3 14 3-21 3 7 3-15 3 10 3-8 3 21 3-4 3 23 3-27 3 18 3-19 3 13 3-24 3 14 3-10 3 15 3-16 3 28 3-11 3 8 3-19 3 13 3-16 3-3 3-5 3 11 3-5 3 20 3-15 3 21 3-13 3 16 3-20 3 8 3-15 3-2 3-7 3 19 3-14 3 18 3 2 3 7 3-21 3 16 3-19 3 6 3-11 3 6 3-3 3 20 3-11 3 15 3-13 3 18 3-12 3 2 3-25 3 19 3-20 3 11 3-5 3 11 3-2 3 20 3-11 3 6 3-13 3 7 3-23 3 12 3-12 3 18 3-2 3 6 3-6 3 15 3-18 3 14 3-26 3 13 3-16 3 19 3-19 3 30 3-8 3 18 3-10 3 10 3-24 3 8 3-22 3 14 3-20 3 23 3-11 3 32 3-11 3 14 3-19 3 16 3-24 3 12 3-28 3 20 3-10 3 16 3-6 3 20 3-11 3 11 3-21 3-1 3-13 3 12 3-14 3 17 3-5 3 24 3-7 3 13 3-22 3 9 3-19 3 15 3-16 3 18 3-19 3 13 3-5 3 24 3-11 3 12 3-33 3 13 3-15 3 5 3-17 3 15 3 0 3 22 3-2 3 5 3-9 3 8 3-18 3 0 3-9 3 3 3-4 3 15 3-5 3 24 3-20 3 16 3-16 3-5 3-4 3 7 3-10 3 20 3-18 3 24 3-14 3 14 3-15 3 11 3-17 3 6 3-18 3 17 3-15 3 17 3-6 3 17 3-8 3 21 3-25 3 18 3-32 3 18 3-20 3 18 3-18 3 25 3-14 3 24 3-13 3 17 3-27 3 13 3-18 3 16 3-20 3 13 3-15 3 33 3-12 3 7 3-9 3 7 3-23 3 8 3-22 3 20 3-12 3 20 3 4 3 12 3-14 3 17 3-22 3-7 3-8 3 6 3-21 3 26 3 3 3 17 3-2 3 18 3-17 3 5 3-17 3 8 3-18 3 14 3-10 3 15 3-5 3 18 3-18 3 17 3-23 3 15 3-24 3 5 3-16 3 20 3-7 3 29 3-20 3 20 3-9 3 5 3-20 3 3 3-16 3 16"/>
<path stroke="#008000" d="M-183 26l3 14 3-21 3 13 3-16 3 3 3-8 3 22 3-14 3 22 3-14 3 6 3-16 3 10 3-13 3 8 3-13 3 15 3-9 3 21 3-14 3 22 3-15 3 17 3-20 3-2 3-17 3 4 3-9 3 21 3-7 3 19 3-7 3 18 3-20 3 12 3-29 3 3 3-17 3 18 3-12 3 22 3-4 3 28 3-17 3 16 3-22 3 2 3-21 3 11 3-7 3 15 3-8 3 21 3-13 3 16 3-17 3 13 3-28 3 8 3-18 3 16 3-9 3 22 3 15614 3-13609 3-1623 3-196 3-58 3-3 3-28 3 4 3-22 3 4 3-9 3 19 3-14 3 17 3-23 3 15 3-32 3 5 3-14 3 9 3-14 3 18 3-13 3 27 3-9 3 11 3-19 3 8 3-22 3 11 3-17 3 14 3-13 3 22 3-11 3 23 3-14 3 6 3-23 3 12 3-13 3 13 3-12 3 16 3-9 3 21 3-23 3 27 3-24 3 14 3-23 3 13 3-24 3 13 3-3 3 22 3-5 3 13 3-17 3 11 3-26 3 9 3-19 3 19 3-18 3 23 3-7 3 22 3-12 3 15 3-14 3 6 3-20 3 5 3-17 3 19 3-16 3 23 3-1 3 14 3-10 3 15 3-22 3 5 3-23 3 16 3-19 3 25 3-15 3 26 3-7 3 11 3-25 3 13 3-21 3 14 3-20 3 10 3-4 3 25 3-8 3 12 3-10 3 10 3-13 3 3 3-16 3 7 3-10 3 13 3-8 3 19 3 10 3 1 3-17 3 10 3-22 3 5 3-26 3 14 3-8 3 19 3-3 3 27 3-13 3 15 3-19 3 6 3-26 3 0 3-16 3 16 3 2 3 20 3-7 3 23 3-9 3 12 3-27 3 8 3-28 3 9 3-12 3 22 3-5 3 23 3-13 3 15 3-13 3 5 3-20 3 13 3-18 3 16 3-7 3 16 3-14 3 21 3-11 3 6 3-21 3 12 3-13 3 10 3-18 3 22 3-6 3 17 3-14 3 16 3-20 3 9 3-23 3 13 3-28 3 22 3-7 3 18 3-6 3 27 3-12 3 6 3-12 3 3 3-19 3 7 3-6 3 5 3-3 3 28 3-8 3 11 3-6 3 3 3-28 3 9 3-17 3 10 3-13 3 19 3-8 3 24 3-15 3 15 3-19 3 6 3-11 3 6 3-10 3 21 3-13 3 21 3-17 3 16 3-15 3 9 3-17 3 14 3-21 3 11 3-9 3 15 3-15 3 29 3-11 3 13 3-14 3 7 3-16 3-1 3-19 3 23 3-3 3 11 3-5 3 18 3-23 3 13 3-25 3 18 3-20 3 19 3-12 3 13 3-8 3 9 3-12 3 26 3-29 3 26 3-16 3 14 3-22 3 20 3-20 3 22 3-6 3 15 3-11 3 9 3-23 3 5 3-10 3 7 3-17 3 22 3-12 3 28 3-11 3 16 3-19 3 8 3-22 3 11 3-22 3 13 3-15 3 25 3-3 3 12 3-4 3 8 3-20 3 9 3-27 3 17 3-24 3 22 3-3 3 23 3-7 3 12 3-18 3 10 3-19 3 12 3-26 3 13 3-10 3 20 3-11 3 30 3-22 3 18 3-17 3 7 3-21 3 12 3-14 3 15 3-18 3 32 3-12 3 23 3-29 3 20 3-17 3 3 3-7 3 7 3-18 3 22 3-4 3 21 3-19 3 8 3-9 3-5 3-15 3 11 3-17 3 21 3-9 3 13 3-2 3 25 3-15 3 11 3-22 3-2 3-15 3 11 3-17 3 28 3-6 3 22 3-15 3 20 3-14 3 3 3-24 3 7 3-20 3 20 3-16 3 34 3-6 3 26 3-11 3 0 3-21 3 1 3-23 3 8 3-14 3 22 3-13 3 30 3-7 3 17 3-25 3 8 3-14 3 1 3-14 3 17 3-7 3 23 3-10 3 18 3-15 3 20 3-16 3-7 3-13 3 5 3-9 3 20 3-13 3 23 3-4 3 2 3 0 3 3 3-25 3 11 3-32 3 28 3-22 3 32 3-17 3 16 3-18 3 16 3-18 3 16 3-15 3 20 3-30 3 25 3-16 3 21 3-8 3 19 3-14 3 4 3-21 3 12 3-22 3 14 3-12 3 20 3-2 3 12 3-8 3 11 3-12 3 9 3-20 3 5 3-12 3 9 3-2 3 25 3-12 3 14 3-16 3 9 3-16 3 6 3-17 3 4 3-2 3 11 3-7 3 25 3-8 3 21 3-23 3 11 3-34 3 8 3-26 3 12 3-2 3 27 3 11 3 11 3-12 3 11 3-20 3 12 3-36 3 7 3-4 3 18 3-11 3 25 3-9 3 17 3-16 3 5 3-19 3 9 3-23 3 16 3-10 3 15 3-6 3 30 3-18 3 17 3-18 3 2 3-22 3 13 3-12 3 23 3-12 3 18 3-9 3 18 3-15 3 3 3-22 3 4 3-14 3 12 3-12 3 24 3-11 3 22 3-15 3 14 3-20 3 14 3-17 3 4 3-13 3 13 3-6 3 17 3-1 3 16 3-8 3 6 3-25 3 10 3-20 3 12 3-14 3 25 3-6 3 20 3-8 3 16 3-28 3 16 3-26 3-1 3-12 3 16 3-9 3 30 3-10 3 23 3-13 3 12 3-35 3 14 3-20 3 8 3-1 3 9 3-10 3 26 3-19 3 18 3-15 3 9 3-22 3 13 3-21 3 17 3-10 3 24 3-4 3 13 3-6 3 4 3-15 3 5 3-22 3 4 3-9 3 9 3 0 3 25 3-8 3 8 3-16 3 6 3-10 3 7 3-24 3 19 3-11 3 15 3-1 3 10 3-3 3 15 3-24 3 2 3-17 3 8 3-8 3 17 3-11 3 23 3-10 3 17 3-22 3 11 3-11 3 5 3-18 3 15 3-9 3 11 3-6 3 18 3-11 3 5 3-13 3 10 3-20 3 10 3-15 3 19 3-7 3 19 3-1 3 14 3-9 3 2 3-18 3 9 3-23 3 22 3-23 3 26 3-10 3 16 3-9 3 21 3-27 3 13 3-36 3 12 3-21 3 20 3-1 3 19 3-6 3 19 3-13 3 5 3-17 3 3 3-13 3 7 3-7 3 18 3-5 3 7 3-7 3 13 3-13 3 15 3-19 3 9 3-20 3 21 3-9 3 19 3-11 3 23 3-17 3 20 3-27 3 2 3-19 3-1 3-7 3 23 3-10 3 27 3-13 3 20 3-17 3 3 3-18 3 8 3-17 3 15 3-7 3 10 3-5 3 26 3-18 3 8 3-25 3 9 3-13 3 10 3-14 3 15 3-5 3 19 3-14 3 27 3-24 3 12 3-15 3 7 3-26 3 18 3-12 3 27 3-10 3 26 3-11 3 0 3-20 3 6 3-18 3 10 3-21 3 24 3-12 3 28 3-15 3 22 3-13 3 7 3-24 3 9 3-12 3 8 3-11 3 20 3-4 3 19 3-4 3 15 3-24 3-1 3-20 3 8 3-19 3 20 3-6 3 23 3-2 3 8 3-12 3 7 3-19 3 16 3-24 3 19 3-13 3 17 3-10 3 21 3-8 3 16 3-19 3 5 3-19 3 11 3-16 3 19 3-12 3 20 3-12 3 17 3-16 3 8 3-11 3 6 3-17 3 10 3-6 3 2 3-4 3 16 3-13 3 21 3-22 3 12 3-15 3 10 3-9 3 9 3-16 3 22 3-12 3 22 3-19 3 22 3-23 3 4 3-11 3 0 3-5 3 16 3-13 3 30 3-7 3 11 3-18 3 11 3-20 3 4 3-18 3 18 3-14 3 22 3-17 3 25 3-11 3 14 3-23 3 12 3-18 3 7 3-21 3 20 3-11 3 36 3-17 3 20 3-22 3 11 3-26 3 10 3-11 3 16 3-12 3 15 3-12 3 27 3-11 3 14 3-22 3 7 3-23 3 10 3-12 3 13 3-11 3 29 3-7 3 16 3-20 3 7 3-17 3 11 3-19 3 11 3-5 3 18 3-21 3 24 3-12 3 16 3-15 3 6 3-10 3 2 3-22 3 17 3-8 3 15 3-8 3 22 3-2 3 2 3-8 3 3 3-31 3 24 3-17 3 18 3-3 3 14 3-1 3 13 3-17 3 9 3-16 3 2 3-19 3 13 3-10 3 23 3-8 3 8 3-2 3 14 3-28 3 8 3-20 3 10 3-25 3 26 3-5 3 18 3-3 3 11 3-13 3 10 3-21 3 6 3-22 3 26 3-12 3 9 3 1 3 25 3-23 3 16 3-18 3 10 3-17 3 6 3-19 3 15 3-7 3 25 3-4 3 17 3-14 3 5 3-23 3 11 3-19 3 12 3-22 3 30 3-14 3 26 3-10 3 7 3-17 3 15 3-24 3 8 3-13 3 18 3-16 3 22 3-11 3 22 3-10 3 6 3-20 3 8 3-17 3 22 3-25 3 23 3-2 3 20 3-9 3 10 3-17 3 3 3-16 3 7 3-11 3 2 3-2 3 22 3-10 3 9 3-8 3 10 3-17 3 11 3-19 3 18 3-17 3 21 3-13 3 12 3-4 3 9 3-11 3 12 3-31 3 14 3-20 3 18 3-12 3 22 3-9 3 24 3-15 3 12 3-15 3 3 3-22 3 10 3-14 3 20 3-6 3 25 3-12 3 16 3-11 3 16 3-40 3 15 3-18 3 12 3-12 3 25 3-10 3 14 3-10 3 16 3-20 3 8 3-27 3 20 3-22 3 14 3-1 3 18 3 2 3 14 3-19 3 11 3-18 3 2 3-23 3 19 3-10 3 14 3-8 3 20 3-19 3 23 3-23 3 8 3-21 3 11 3-9 3 15 3-4 3 18 3-9 3 26 3-20 3 5 3-22 3 14 3-26 3 16 3-14 3 27 3-19 3 28 3-13 3 14 3-11 3 1 3-13 3 5 3-22 3 16 3-5 3 13 3-12 3 15 3-12 3 9 3-9 3 4 3-11 3 12 3-12 3 15 3-10 3 8 3-2 3 16 3-15 3 12 3-20 3 13 3-14 3 4 3-7 3 23 3-7 3 6 3-8 3 5 3-2 3 6 3-23 3 5 3-13 3 17 3-11 3 34 3-11 3 17 3-11 3 12 3-28 3 6 3-12 3 6 3-8 3 23 3-7 3 21 3-19 3 17 3-27 3 9 3-22 3 13 3-11 3 14 3-11 3 24 3-13 3 18 3-14 3 14 3-18 3 4 3-19 3 15 3-13 3 17 3-9 3 28 3-19 3 26 3-22 3 5 3-24 3 6 3-26 3 26 3-7 3 19 3-5 3 14 3-9 3 9 3-18 3 9 3-23 3 15 3-10 3 16 3-10 3 14 3-4 3 12 3-15 3 9 3-24 3 12 3-12 3 12 3-11 3 20 3-9 3 13 3-10 3 10 3-13 3 6 3-18 3 15 3-13 3 19 3-23 3 27 3-10 3 16 3-15 3 11 3-18 3 9 3-13 3 10 3-10 3 11 3-3 3 22 3-19 3 8 3-9 3-3 3-14 3 14 3-23 3 19 3-4 3 24 3-10 3 11 3-13 3 17 3-25 3 17 3-16 3 9 3-11 3 14 3-11 3 29 3-18 3 5 3-10 3 9 3-26 3 13 3-18 3 11 3-11 3 28 3-12 3 18 3-21 3 15 3-16 3 12 3-14 3 14 3-13 3 18 3-15 3 11 3-1 3 15 3-31 3 22 3-29 3 13 3-18 3 19 3-11 3 25 3-3 3 16 3-5 3 3 3-20 3-4 3-27 3 24 3-24 3 31 3-11 3 25 3-12 3 19 3-15 3 8 3-29 3 10 3-27 3 29 3-11 3 23 3-13 3 27 3-23 3 22 3-32 3 7 3-17 3 9 3-14 3 21 3-10 3 26 3-14 3 7 3-17 3 18 3-21 3 10 3-19 3 13 3-12 3 25 3 0 3 19 3-18 3 10 3-18 3 8 3-23 3 18 3-7 3 9 3-8 3 28 3-23 3 10 3-16 3 14 3-13 3 9 3-20 3 22 3-18 3 25 3-6 2-5 0-4681 2 0 2 3474 3 950 3 159 3 44 3-6 3 6 3-20 3 16 3-5 3 31 3-16 3 12 3-19 3 15 3-30 3 8 3-10 3 5 3-9 3 21 3-11 3 20 3-12 3 19 3-15 3 9 3-29 3 14 3-17 3 20 3-15 3 16 3-7 3 19 3-15 3 12 3-16 3 14 3-27 3 24 3-12 3 9 3-7 3 26 3-11 3 9 3-11 3 10 3-23 3-1 3-20 3 22 3-13 3 28 3-9 3 18 3-12 3 10 3-26 3 4 3-17 3 12 3-15 3 24 3-19 3 24 3-9 3 17 3-14 3 10 3-25 3 16 3-24 3 15 3-11 3 24 3-3 3 24 3-21 3 19 3-24 3 8 3-15 3 7 3-12 3 16 3-15 3 24 3-16 3 23 3-23 3 15 3-29 3 12 3-16 3 22 3-12 3 20 3-9 3 20 3-12 3 5 3-10 3 10 3-28 3 20 3-12 3 11 3-10 3 16 3-15 3 29 3-17 3 5 3-14 3 3 3-21 3 16 3-14 3 28 3-2 3 24 3-20 3 14 3-20 3 12 3-21 3 3 3-11 3 17 3-15 3 20 3-8 3 15 3-12 3 12 3-15 3 3 3-18 3 11 3-5 3 19 3-14 3 24 3-14 3 18 3-15 3 2 3-26 3 11 3-11 3 18 3-11 3 16 3-4 3 17 3-14 3 15 3-30 3 16 3-12 3 4 3-14 3 20 3-13 3 22 3-7 3 10 3-20 3 14 3-17 3 2 3-14 3 15 3-8 3 15 3-5 3 11 3-12 3 11 3-16 3 12 3-21 3 11 3-15 3 20 3-15 3 26 3-12 3 12 3-17 3 17 3-18 3 11 3-23 3 19 3-14 3 19 3-15 3 23 3-12 3 19 3-17 3 11 3-19 3 12 3-19 3 14 3-8 3 25 3-7 3 11 3-12 3 2 3-18 3 9 3-30 3 15 3-9 3 23 3 2 3 19 3-15 3 18 3-23 3-1 3-20 3 8 3-27 3 26 3-5 3 22 3 2 3 23 3-15 3 9 3-37 3 4 3-20 3 13 3-19 3 21 3 6 3 22 3-15 3 18 3-19 3 13 3-19 3 5 3-15 3 14 3-12 3 26 3-9 3 19 3-12 3 9 3-30 3 8 3-25 3 8 3-7 3 23 3-3 3 19 3-9 3 21 3-22 3 7 3-19 3 5 3-12 3 4 3-2 3 22 3-14 3 23 3-17 3 10 3-16 3 15 3-17 3 5 3-18 3 23 3-10 3 20 3-4 3 20 3-19 3 9 3-20 3 5 3-27 3 15 3-1 3 14 3 0 3 17 3-3 3 1 3-7 3 0 3-25 3 14 3-17 3 13 3-6 3 23 3-5 3 16 3-2 3-14 3-21 3 7 3-11 3 10 3-16 3 15 3-4 3 25 3-17 3 26 3-24 3 11 3-27 3 16 3-21 3 24 3-9 3 9 3-7 3 15 3-9 3-2 3-14 3 12 3-23 3 14 3-11 3 16 3-2 3 23 3-16 3 19 3-13 3 6 3-17 3 15 3-16 3 11 3-21 3 21 3-7 3 16 3-14 3 4 3-10 3 12 3-17 3 13 3-20"/>
<path stroke="#808000" d="M-183 22l3 17 3-31 3 9 3-15 3 13 3-11 3 12 3-6 3 20 3-19 3 26 3-21 3 8 3-12 3 9 3-17 3 23 3-18 3 15 3-8 3 21 3-22 3 14 3-17 3 5 3-13 3 10 3-13 3 25 3-13 3 24 3-19 3 19 3-17 3 13 3-18 3 3 3-16 3 18 3-9 3 14 3-15 3 35 3-19 3-1 3-8 3 1 3-17 3 6 3-14 3 22 3-9 3 27 3-17 3 25 3-30 3 16 3-18 3 11 3-18 3 21 3-18 3 25 3 15520 3-13603 3-1620 3-184 3-45 3-10 3-23 3 11 3-23 3 23 3-10 3 24 3-12 3 13 3-21 3 6 3-26 3 8 3-29 3 20 3-10 3 32 3-10 3 20 3-24 3 17 3-13 3-6 3-13 3 10 3-16 3 23 3-8 3 22 3-8 3 19 3-26 3 14 3-28 3 11 3-24 3 12 3-11 3 21 3 3 3 17 3-15 3 14 3-19 3 8 3-16 3 6 3-15 3 14 3-10 3 29 3-13 3 13 3-11 3 6 3-21 3 10 3-16 3 11 3-8 3 19 3-10 3 27 3-20 3 24 3-20 3-1 3-17 3 18 3-16 3 17 3-16 3 24 3-15 3 19 3-11 3 7 3-19 3 3 3-19 3 10 3-9 3 20 3-13 3 28 3-9 3 22 3-23 3 9 3-27 3 6 3-18 3 11 3 2 3 21 3-3 3 15 3-1 3-5 3-15 3 7 3-26 3 16 3-14 3 17 3-9 3 31 3-13 3 22 3-27 3 11 3-20 3 2 3-11 3 6 3-5 3 22 3-5 3 16 3-6 3 8 3-23 3 11 3-29 3 9 3-16 3 24 3-7 3 26 3-8 3 16 3-17 3 2 3-28 3 14 3-18 3 18 3-15 3 19 3-16 3 19 3-2 3 4 3-17 3 14 3-13 3 11 3-21 3 22 3-7 3 21 3-18 3 22 3-12 3 1 3-24 3 15 3-14 3 12 3-15 3 26 3-12 3 19 3-12 3 9 3-2 3-5 3-23 3 17 3-14 3 12 3-7 3 20 3-7 3 21 3-21 3 8 3-19 3 7 3-15 3 11 3-14 3 19 3-11 3 23 3-12 3 20 3-22 3 13 3-20 3 9 3-21 3 15 3-5 3 14 3 5 3 14 3-18 3 6 3-14 3 4 3-16 3 9 3-21 3 25 3-8 3 23 3-5 3 10 3-7 3 3 3-25 3 10 3-20 3 16 3-12 3 27 3-8 3 16 3-12 3 14 3-19 3 5 3-29 3 11 3-6 3 16 3-3 3 20 3-7 3 19 3-16 3 14 3-25 3 5 3-24 3 19 3-13 3 21 3-12 3 21 3-3 3 13 3-20 3 7 3-23 3 9 3-12 3 13 3-11 3 19 3-6 3 28 3-20 3 11 3-25 3 3 3-14 3 13 3-14 3 19 3-8 3 14 3-8 3 8 3-21 3 8 3-12 3 4 3-15 3 18 3 0 3 19 3-5 3 11 3-8 3 10 3-24 3 2 3-15 3 13 3-10 3 25 3-11 3 16 3-8 3 13 3-16 3 4 3-22 3 11 3-19 3 26 3-23 3 22 3-3 3 18 3-9 3 13 3-27 3 6 3-15 3 6 3-12 3 13 3-3 3 24 3-15 3 17 3-24 3 15 3-16 3 3 3-7 3 9 3-9 3 22 3-14 3 16 3-10 3 13 3-21 3 16 3-29 3 13 3-23 3 26 3 0 3 21 3-18 3 18 3-22 3 20 3-30 3 6 3-16 3 20 3-10 3 24 3-17 3 28 3-10 3 12 3-30 3 17 3-25 3 10 3-17 3 16 3-6 3 27 3-15 3 13 3-18 3 14 3-25 3 22 3-29 3 14 3-7 3 18 3-7 3 16 3-11 3 17 3-32 3 17 3-23 3 12 3-19 3 22 3-6 3 13 3-8 3 22 3-19 3 0 3-10 3 9 3-10 3 15 3-21 3 20 3-10 3 27 3-13 3 15 3-11 3-1 3-18 3 12 3-27 3 22 3-8 3 19 3-6 3 19 3-22 3 18 3-21 3 3 3-15 3 6 3-20 3 29 3-7 3 24 3-7 3 16 3-24 3 10 3-27 3 10 3-13 3 12 3-11 3 22 3-11 3 28 3-10 3 11 3-26 3 8 3-17 3 10 3-10 3 12 3-6 3 20 3-18 3 20 3-13 3 14 3-28 3 11 3-22 3 21 3-16 3 23 3-11 3 17 3-13 3 13 3-16 3 10 3-19 3 7 3-12 3 17 3-8 3 15 3-7 3 21 3-15 3 10 3-23 3 5 3-16 3 16 3-15 3 26 3-8 3 23 3-8 3 7 3-21 3 12 3-21 3 11 3-20 3 13 3 0 3 17 3-13 3 18 3-16 3 11 3-13 3 10 3-15 3 9 3-23 3 30 3-18 3 15 3-12 3 21 3-16 3 8 3-23 3 14 3-13 3 10 3-13 3 19 3-6 3 15 3-10 3 3 3-13 3 12 3-17 3 9 3-21 3 20 3 1 3 13 3-9 3 11 3-16 3 9 3-12 3 14 3-25 3 15 3-7 3 19 3-14 3 19 3-19 3 16 3-10 3 5 3-21 3 14 3-13 3 14 3-2 3 15 3-9 3 19 3-15 3 0 3-19 3 5 3-17 3 18 3-11 3 19 3-6 3 19 3-16 3 16 3-14 3 8 3-24 3 0 3-5 3 19 3-12 3 25 3-5 3 22 3-18 3 3 3-18 3 7 3-27 3 18 3-20 3 29 3-6 3 17 3-4 3 8 3-18 3 4 3-21 3 9 3-17 3 18 3-3 3 23 3-7 3 16 3-12 3 7 3-12 3-6 3-16 3 14 3-3 3 13 3-14 3 26 3-20 3 14 3-9 3 12 3-22 3 10 3-25 3 23 3-3 3 14 3-17 3 25 3-16 3 13 3-25 3 10 3-14 3 14 3-22 3 16 3-3 3 18 3-11 3 13 3-5 3 7 3-27 3 18 3-27 3 18 3-11 3 17 3-7 3 22 3-9 3 14 3-27 3 4 3-13 3 9 3-10 3 14 3-6 3 24 3-14 3 20 3-18 3 8 3-21 3 6 3-22 3 18 3-8 3 21 3 0 3 22 3-21 3-2 3-12 3 9 3-14 3 3 3-20 3 20 3-5 3 32 3-21 3 28 3-13 3 2 3-19 3 4 3-22 3 6 3-12 3 25 3-6 3 20 3-4 3 11 3-19 3 10 3-29 3 15 3-14 3 14 3-7 3 13 3-5 3 23 3-21 3 15 3-18 3 2 3-9 3 10 3-12 3 20 3-10 3 17 3-11 3 16 3-24 3 6 3-17 3 11 3-10 3 12 3-8 3 17 3-10 3 20 3-19 3 15 3-16 3 7 3-15 3 14 3-16 3 20 3-7 3 17 3-12 3 10 3-21 3 23 3-35 3 10 3-20 3 29 3-19 3 23 3-7 3 19 3 2 3 0 3-18 3 5 3-26 3 15 3-23 3 25 3-10 3 21 3 5 3 17 3-23 3 15 3-25 3 3 3-23 3 19 3-14 3 25 3-7 3 22 3-19 3 14 3-21 3 0 3-7 3 11 3-20 3 15 3-7 3 20 3-9 3 14 3-17 3 14 3-19 3 15 3-19 3 12 3-15 3 18 3-13 3 20 3-8 3 9 3-8 3 5 3-17 3 5 3-21 3 22 3-13 3 21 3-9 3 11 3-3 3 13 3-17 3 12 3-29 3 11 3-18 3 24 3-5 3 14 3-5 3 17 3-17 3-7 3-7 3 4 3-10 3 12 3-10 3 22 3-11 3 21 3-18 3 4 3-11 3 10 3-17 3 13 3-19 3 21 3-11 3 30 3-5 3 8 3-12 3 4 3-18 3 5 3-28 3 18 3-12 3 34 3-13 3 26 3-9 3 15 3-27 3 2 3-26 3 9 3-14 3 14 3-3 3 20 3 5 3 13 3-19 3 2 3-17 3 14 3-19 3 21 3-20 3 21 3-8 3 8 3-8 3 14 3-19 3 2 3-12 3 12 3-12 3 16 3-11 3 22 3-10 3 21 3-12 3 4 3-13 3 4 3-20 3 25 3-20 3 19 3-6 3 15 3-16 3 24 3-21 3 7 3-18 3 13 3-22 3 15 3-8 3 23 3-18 3 19 3-10 3 9 3-26 3 8 3-23 3 8 3 5 3 13 3 1 3 21 3-6 3 12 3-17 3 2 3-22 3 3 3-9 3 12 3-10 3 21 3-9 3 20 3-16 3 8 3-16 3 4 3-4 3 5 3-4 3 12 3-16 3 24 3-17 3 9 3-16 3 14 3-14 3 9 3-13 3 8 3-3 3 17 3-1 3 10 3-16 3 11 3-18 3 7 3-23 3 10 3-15 3 29 3-9 3 21 3-1 3 13 3-20 3 6 3-20 3 7 3-20 3 22 3-18 3 25 3-12 3 20 3-20 3 16 3-18 3 9 3-6 3 0 3-13 3 20 3-11 3 21 3-11 3 25 3-17 3 7 3-17 3 6 3-25 3 19 3-12 3 19 3-12 3 22 3-8 3 12 3-15 3 7 3-14 3 17 3-27 3 19 3-12 3 8 3-19 3 20 3-5 3 0 3-13 3 7 3-12 3 13 3-7 3 14 3-6 3 19 3-10 3 14 3-20 3 12 3-19 3 5 3-13 3 13 3-19 3 28 3-8 3 18 3-15 3 17 3-15 3 2 3-19 3 4 3-10 3 21 3-8 3 16 3-9 3 23 3-20 3 7 3-15 3 3 3-17 3 17 3-18 3 27 3-5 3 22 3-17 3 10 3-20 3 15 3-30 3 21 3-21 3 18 3-16 3 29 3-18 3 18 3-14 3 3 3-21 3 12 3-23 3 21 3-12 3 18 3 7 3 17 3-4 3 13 3-34 3 12 3-25 3 13 3-20 3 26 3-13 3 19 3-5 3 12 3-8 3 7 3-12 3 0 3-15 3 8 3-17 3 28 3-14 3 21 3-9 3 8 3-14 3 9 3-21 3 10 3-10 3 15 3-14 3 19 3-15 3 18 3-8 3 15 3-26 3 12 3-24 3 12 3-2 3 11 3-4 3 23 3-17 3 17 3-20 3 8 3-21 3 2 3-14 3 20 3-5 3 14 3-2 3 24 3-23 3 7 3-11 3 2 3-23 3 12 3-4 3 24 3-17 3 21 3 1 3 10 3-18 3 7 3-18 3 8 3-16 3 2 3-8 3 32 3-12 3 13 3-5 3 11 3-27 3 19 3-30 3 19 3-16 3 13 3-17 3 34 3-12 3 11 3-15 3 20 3-32 3 19 3-28 3 12 3-9 3 23 3-4 3 25 3-21 3 18 3-20 3 6 3-22 3 14 3-24 3 27 3-16 3 21 3-9 3 20 3-20 3 8 3-11 3 11 3-18 3 2 3-12 3 22 3-6 3 22 3-11 3 23 3-25 3 4 3-27 3 12 3-23 3 24 3-6 3 15 3-1 3 13 3-10 3 7 3-22 3 8 3-30 3 24 3-15 3 29 3-8 3 22 3-11 3 5 3-7 3 3 3-20 3 19 3-14 3 13 3-17 3 14 3-1 3 11 3-13 3 19 3-24 3 12 3-13 3 8 3-19 3 29 3-12 3 20 3-12 3-2 3-3 3 3 3-14 3 7 3-17 3 15 3-5 3 6 3 2 3 8 3-11 3 17 3-11 3 0 3-18 3 13 3-18 3 16 3-7 3 26 3-11 3 18 3-13 3 8 3-28 3 9 3-13 3 9 3-4 3 17 3-7 3 21 3-14 3 20 3-25 3 4 3-24 3 7 3-21 3 23 3 1 3 18 3 6 3 15 3-17 3 5 3-25 3 5 3-20 3 13 3-15 3 27 3-3 3 23 3-12 3 9 3-9 3-1 3-21 3 7 3-16 3 17 3-7 3 18 3-12 3 14 3-7 3 9 3-24 3 13 3-10 3 4 3-13 3 22 3-8 3 22 3-10 3 13 3-20 3 7 3-24 3 19 3-18 3 17 3-17 3 26 3-8 3 19 3-15 3 7 3-19 3 9 3-20 3 6 3-4 3 9 4 6 0-4664 2 0 3 3970 3 534 3 119 3-10 3 17 3-24 3 6 3-9 3 17 3-4 3 12 3-1 3 15 3-13 3 10 3-30 3 17 3-13 3 14 3-13 3 21 3-12 3 24 3-12 3 9 3-25 3 8 3-18 3 7 3-15 3 24 3-13 3 25 3-8 3 12 3-3 3 8 3-26 3 9 3-18 3 11 3-11 3 31 3-16 3 13 3-10 3 13 3-22 3 14 3-19 3 4 3-6 3 15 3-5 3 19 3-9 3 14 3-13 3 10 3-24 3 1 3-20 3 15 3-4 3 11 3-8 3 23 3-9 3 15 3-20 3 19 3-36 3 12 3-10 3 9 3-10 3 26 3-6 3 19 3-18 3 7 3-14 3 10 3-30 3 13 3-10 3 28 3-8 3 22 3-6 3 13 3-15 3-4 3-17 3 3 3-20 3 15 3-8 3 30 3-13 3 25 3-9 3 16 3-36 3-1 3-10 3 9 3-21 3 32 3-17 3 23 3-10 3 26 3-23 3-2 3-15 3 11 3-13 3 4 3-13 3 32 3-15 3 20 3-8 3 4 3-21 3 12 3-15 3 7 3-21 3 24 3-6 3 21 3-11 3 18 3-17 3 7 3-22 3 7 3-8 3 8 3-5 3 10 3 0 3 17 3-7 3 13 3-14 3-4 3-28 3 22 3-19 3 15 3 1 3 16 3-4 3 26 3-27 3 10 3-28 3 16 3-27 3 10 3-12 3 25 3-5 3 14 3-4 3 14 3-22 3 7 3-19 3 5 3-15 3 27 3-8 3 17 3-4 3 17 3-22 3 10 3-16 3 10 3-29 3 18 3-9 3 15 3-9 3 26 3-8 3 10 3-14 3 8 3-17 3 7 3-23 3 18 3-9 3 16 3-3 3 17 3-1 3 7 3-16 3 3 3-40 3 18 3-13 3 20 3-7 3 21 3-7 3 25 3-19 3 4 3-21 3 8 3-23 3 10 3-5 3 19 3-11 3 29 3-9 3 11 3-22 3-9 3-9 3 4 3-8 3 15 3-7 3 22 3-4 3 18 3-21 3 11 3-24 3 9 3-16 3 22 3-21 3 24 3-7 3 24 3-11 3 12 3-22 3 9 3-26 3 18 3-22 3 25 3-27 3 26 3-7 3 8 3-12 3 15 3-16 3 11 3-14 3 15 3-20 3 16 3-6 3 13 3-10 3 6 3-12 3 8 3-12 3 9 3-6 3 2 3-3 3 14 3-3 3 17 3-16 3 11 3-21 3 9 3-27 3 15 3-18 3 25 3-4 3 20 3-10 3 17 3-11 3-2 3-19 3 13 3-19 3 17 3-11 3 20 3-11 3 13 3-9 3 12 3-20 3 12 3-21 3 6 3-16 3 20 3 2 3 14 3-7 3 25 3-20 3 7 3-29 3 10 3-22 3 19 3-8 3 18 3-5 3 14 3-16 3 23 3-23 3 12 3-22 3 8 3-20 3 25 3-13 3 16 3 5 3 16 3-16 3 10 3-20 3-4 3-12 3 11 3-12 3 20 3 0 3 24 3-14 3 6 3-18 3 3 3-14 3 13 3-22 3 23"/>
<path stroke="#000080" d="M-192 11l3 21 3-7 3 19 3-11 3 17 3-26 3 8 3-16 3 1 3-7 3 20 3-11 3 24 3-13 3 20 3-15 3 4 3-20 3 10 3-20 3 11 3-10 3 24 3-17 3 20 3-17 3 21 3-19 3 13 3-25 3 18 3-13 3 13 3-6 3 22 3-17 3 17 3-17 3 8 3-13 3 11 3-24 3 10 3-9 3 14 3-1 3 15 3-9 3 14 3-16 3 10 3-31 3 10 3-15 3 18 3 1 3 13 3-10 3 26 3-16 3 17 3-29 3 6 3-16 3 13 3-15 3 18 3-11 3 22 3-14 3 15 3-13 3 3 3-13 3 7 3-11 3 16 3-16 3 21 3-5 3 18 3-18 3 10 3-17 3 12 3-22 3 15 3-13 3 15 3-5 3 16 3-9 3 18 3-18 3 8 3-25 3 7 3-13 3 11 3-9 3 20 3-2 3 24 3-22 3 17 3-19 3 5 3-16 3 8 3-20 3 27 3-17 3 31 3-16 3 19 3-26 3 8 3-19 3 16 3-15 3 9 3-15 3 19 3-9 3 24 3-17 3 18 3-22 3 13 3-20 3 4 3-11 3 19 3-13 3 21 3 0 3 8 3-12 3 14 3-29 3 18 3-20 3 12 3-8 3 13 3-5 3 19 3-11 3 15 3-15 3-7 3-15 3 8 3-19 3 24 3-10 3 23 3-10 3 18 3-15 3 17 3-24 3-1 3-17 3 10 3-10 3 20 3-3 3 24 3-4 3 19 3-28 3 4 3-28 3 15 3-24 3 16 3-6 3 23 3-2 3 18 3-17 3 21 3-31 3 10 3-23 3 14 3-18 3 21 3-4 3 25 3-14 3 10 3-13 3 10 3-28 3 7 3-21 3 16 3-8 3 22 3-2 3 21 3-6 3 7 3-19 3 4 3-26 3 15 3-14 3 18 3-7 3 18 3-7 3 21 3-19 3 13 3-20 3 5 3-25 3 10 3-3 3 16 3-8 3 16 3-7 3 17 3-23 3 12 3-18 3 11 3-15 3 11 3-12 3 24 3-6 3 15 3-15 3 13 3-17 3-1 3-13 3 17 3-20 3 19 3-2 3 14 3-10 3 14 3-18 3 5 3-21 3 21 3-28 3 18 3-9 3 20 3-10 3 22 3-15 3 6 3-18 3 5 3-19 3 13 3-8 3 19 3-12 3 20 3 0 3 17 3-10 3-4 3-24 3 5 3-16 3 22 3-14 3 18 3 1 3 20 3-16 3 18 3-27 3 6 3-25 3 9 3-11 3 23 3-13 3 26 3-9 3 16 3-17 3 5 3-15 3 7 3-19 3 18 3-7 3 18 3-14 3 22 3-14 3 15 3-21 3 4 3-22 3 18 3-14 3 12 3 2 3 13 3-6 3 10 3-11 3 12 3-22 3 4 3-10 3 13 3-15 3 22 3-3 3 11 3-9 3 8 3-16 3 14 3-28 3 7 3-12 3 17 3-7 3 28 3-9 3 12 3-8 3 4 3-21 3 3 3-16 3 8 3-10 3 21 3-7 3 24 3-9 3 10 3-12 3 1 3-19 3 10 3-13 3 8 3-4 3 29 3-16 3 15 3-17 3 17 3-19 3 9 3-28 3 13 3-7 3 15 3-6 3 23 3-15 3 14 3-18 3 5 3-18 3 16 3-26 3 18 3 3 3 12 3-12 3 22 3-13 3 20 3-24 3 7 3-29 3 21 3-18 3 18 3-10 3 21 3-5 3 14 3-19 3 3 3-17 3 12 3-18 3 16 3-9 3 15 3-12 3 26 3-14 3 14 3-20 3 2 3-12 3 5 3-17 3 26 3-9 3 25 3-11 3 16 3-16 3 6 3-21 3 8 3-20 3 18 3-16 3 25 3-9 3 25 3-9 3 13 3-23 3 5 3-18 3 4 3-19 3 20 3-3 3 19 3-4 3 17 3-14 3 0 3-16 3-2 3-10 3 10 3-13 3 23 3-8 3 23 3-7 3 7 3-20 3 17 3-27 3 10 3-17 3 22 3-11 3 20 3-9 3 19 3-16 3 8 3-17 3 3 3-18 3 14 3-14 3 20 3-16 3 27 3-7 3 17 3-26 3 14 3-13 3 15 3-15 3 7 3-7 3 11 3-9 3 12 3-21 3 21 3-13 3 7 3-20 3 13 3-15 3 20 3-12 3 20 3-10 3 17 3-12 3 10 3-22 3 4 3-11 3 8 3-8 3 27 3-11 3 15 3-12 3 12 3-18 3 3 3-24 3 16 3-17 3 22 3-16 3 31 3-14 3 22 3-15 3 1 3-16 3 9 3-22 3 12 3-11 3 28 3-14 3 26 3-17 3 14 3-21 3 0 3-18 3 11 3-11 3 20 3-8 3 18 3-18 3 25 3-14 3 17 3-23 3 11 3-23 3 19 3-17 3 23 3-14 3 15 3-9 3 12 3-15 3 12 3-15 3 3 3-16 3 14 3-11 3 27 3-12 3 21 3-12 3 5 3-21 3 9 3-11 3 2 3-10 3 16 3-7 3 22 3-10 3 15 3-20 3 11 3-17 3 7 3-16 3 14 3-12 3 17 3-5 3 12 3-16 3 8 3-9 3 10 3-11 3 10 3-25 3 29 3-9 3 21 3-11 3 15 3-19 3 9 3-16 3 10 3-26 3 17 3-15 3 26 3-8 3 21 3-15 3 10 3-18 3 6 3-11 3 6 3-18 3 19 3-7 3 17 3-13 3 13 3-12 3 10 3-12 3 10 3-15 3 7 3-8 3 18 3-13 3 26 3-17 3 10 3-15 3 10 3-21 3 18 3-26 3 18 3-3 3 16 3-13 3 18 3-14 3 10 3-19 3 5 3-14 3 13 3-16 3 21 3-5 3 27 3-17 3 10 3-16 3 4 3-16 3 15 3-26 3 16 3-9 3 28 3-5 3 12 3-10 3 7 3-16 3 7 3-24 3 12 3-16 3 27 3-19 3 23 3-11 3 12 3-12 3 11 3-18 3 9 3-15 3 15 3-12 3 17 3-9 3 21 3-16 3 15 3-29 3 19 3-30 3 12 3-5 3 16 3-7 3 23 3-8 3 11 3-13 3 9 3-27 3 5 3-15 3 17 3-9 3 19 3-1 3 20 3-10 3 3 3-20 3 9 3-18 3 6 3-12 3 16 3-5 3 22 3-9 3 17 3-17 3-4 3-13 3 9 3-23 3 16 3-12 3 30 3-4 3 12 3-3 3 6 3-19 3 4 3-14 3 5 3-8 3 7 3-14 3 26 3-15 3 21 3-13 3 7 3-20 3 18 3-10 3 6 3-13 3 22 3-11 3 10 3-14 3 24 3-19 3 3 3-15 3 9 3-16 3 14 3-12 3 24 3-13 3 25 3-17 3 9 3-13 3 0 3-17 3 8 3-6 3 22 3-14 3 19 3-9 3 14 3-16 3 2 3-14 3 5 3-15 3 9 3-3 3 23 3-8 3 20 3-11 3 7 3-21 3 8 3-24 3 20 3-11 3 18 3-6 3 15 3-9 3 14 3-17 3 7 3-12 3 9 3-18 3 14 3-12 3 20 3-6 3 15 3-17 3 13 3-19 3 5 3-14 3 7 3-13 3 15 3-3 3 18 3-9 3 22 3-8 3 3 3-21 3 4 3-15 3 18 3-21 3 19 3-3 3 18 3-15 3 9 3-18 3 11 3-20 3 13 3-15 3 14 3-9 3 29 3-18 3 16 3-6 3 4 3-22 3 5 3-18 3 12 3-4 3 17 3-5 3 18 3-11 3 15 3-18 3 7 3-19 3 8 3-19 3 20 3-8 3 24 3-5 3 11 3-17 3 10 3-22 3 16 3-22 3 8 3-9 3 11 3 2 3 22 3-18 3 22 3-21 3 7 3-26 3 9 3-20 3 21 3-3 3 20 3-10 3 26 3-14 3 2 3-20 3 15 3-32 3 17 3-11 3 14 3-7 3 22 3-8 3 10 3-18 3 13 3-12 3 5 3-20 3 15 3-17 3 27 3-10 3 15 3-7 3 8 3-22 3 8 3-13 3 5 3-14 3 22 3-6 3 23 3-20 3 17 3-19 3 17 3-20 3 8 3-18 3 12 3-15 3 30 3-14 3 21 3-6 3 8 3-17 3 4 3-19 3 5 3-13 3 16 3-4 3 22 3-10 3 16 3-20 3 13 3-23 3 13 3-24 3 18 3-11 3 17 3-5 3 25 3-15 3 19 3-21 3 1 3-20 3 11 3-12 3 11 3-5 3 20 3-10 3 12 3-12 3 8 3-19 3 8 3-17 3 11 3-10 3 23 3-14 3 23 3-12 3 9 3-12 3 9 3-24 3 13 3-27 3 22 3-6 3 16 3-5 3 15 3-15 3 15 3-17 3 11 3-27 3 19 3-10 3 4 3 2 3 21 3-5 3 13 3-20 3 11 3-21 3 6 3-18 3 8 3-3 3 17 3-1 3 17 3-14 3 15 3-24 3 8 3-22 3 14 3-12 3 13 3-8 3 25 3-13 3 22 3-11 3 2 3-26 3 5 3-19 3 10 3-8 3 25 3-6 3 23 3-10 3 12 3-21 3 10 3-22 3 16 3-19 3 20 3-8 3 18 3-9 3 13 3-18 3 16 3-16 3 0 3-11 3 1 3-4 3 18 3-15 3 27 3-13 3 10 3-15 3 12 3-17 3 6 3-5 3 14 3-19 3 19 3-6 3 16 3-14 3 6 3-17 3 9 3-25 3 23 3-23 3 29 3-6 3 22 3-16 3 15 3-12 3-5 3-21 3 9 3-18 3 19 3-6 3 25 3-11 3 20 3-13 3 15 3-23 3 11 3-21 3 7 3-7 3 14 3-16 3 32 3-11 3 18 3-22 3-1 3-10 3 8 3-18 3 5 3-11 3 28 3-9 3 17 3-11 3 18 3-23 3 13 3-28 3 18 3-22 3 24 3-19 3 29 3-14 3 19 3-20 3 5 3-12 3 10 3-25 3 15 3-10 3 24 3-5 3 14 3-6 3 9 3-17 3 2 3-21 3 13 3-18 3 21 3-9 3 21 3-5 3 19 3-18 3 4 3-16 3 4 3-15 3 7 3-15 3 24 3 0 3 23 3-11 3 13 3-22 3 6 3-22 3 4 3-13 3 12 3-1 3 22 3-13 3 23 3-8 3 5 3-23 3 11 3-29 3 18 3-14 3 21 3-6 3 21 3-11 3 17 3-24 3 8 3-26 3 12 3-13 3 15 3-10 3 23 3-2 3 7 3-13 3 18 3-20 3 6 3-18 3 18 3-11 3 15 3-15 3 17 3-11 3 19 3-17 3 11 3-15 3 9 3-22 3 13 3-6 3 12 3-1 3 23 3-13 3 3 3-14 3 1 3-22 3 17 3-13 3 20 3-9 3 22 3-17 3 14 3-19 3 20 3-26 3 14 3-20 3 19 3-3 3 9 3-12 3 23 3-19 3 11 3-16 3 13 3-17 3 5 3-9 3 15 3-4 3 24 3-15 3 12 3-10 3 7 3-24 3 8 3-11 3 11 3-9 3 18 3-10 3 22 3-12 3 12 3-18 3 7 3-12 3 4 3-17 3 14 3-10 3 18 3-16 3 25 3-13 3 14 3-20 3 5 3-14 3 16 3-18 3 15 3-3 3 21 3-11 3 18 3-18 3 2 3-25 3 14 3-20 3 24 3-16 3 17 3-9 3 15 3-12 3 16 3-16 3 8 3-28 3 20 3-11 3 18 3-13 3 29 3-17 3 16 3-21 3 17 3-15 3 1 3-11 3 6 3-5 3 19 3-18 3 20 3-11 3 17 3-16 3 0 3-20 3 21 3-21 3 18 3-7 3 17 3-22 3 16 3-3 3 11 3-21 3 9 3-15 3 7 3 1 3 17 3-10 3 23 3-15 3 14 3-22 3 3 3-15 3 6 3-12 3 11 3-6 3 22 3-2 3 15 3-21 3 12 3-18 3 8 3-18 3 12 3-15 3 19 3-8 3 23 3-19 3 16 3-19 3 14 3-23 3 12 3-17 3 20 3-10 3 18 3-3 3 7 3-14 3 14 3-23 3 11 3-10 3 11 3-8 3 13 3-14 3 21 3-20 3 16 3-4 3 13 3-27 3 13 3-17 3 11 3-14 3 23 3-10 3 19 3-6 3 5 3-18 3 8 3-31 3 21 3-19 3 23 3-3 3 17 3-6 3 14 3-25 3 16 3-23 3 7 3-10 3 10 3-14 3 24 3-10 3 22 3-18 3 20 3-21 3 11 3-27 3 13 3-19 3 28 3-10 3 18 3-14 3 27 3-23 3 7 3-18 3 5 3-17 3 9 3-4 3 24 3-7 3 16 3-10 3 17 3-20 3 6 3-24 3 7 3-15 3 14 3 0 3 17 3-5 3 16 3-14 3 13 3-31 3 15 3-22 3 22 3-25 3 26 3-4 3 7 3-6 3 14 3-20 3 13 3-23 3 10 3-19 3 19 3 0 3 9 3-3 3 22 3-16 3 9 3-16 3 6 3-26 3 13 3-17 3 28 3-10 3 23 3-14 3 20 3-17 3 10 3-22 3 3 3-13 3 16 3-16 3 22 3-11 3 19 3-15 3 14 3-25 3 22 3-33 3 17 3-16 3 22 3-10 3 19 3-4 3 9 3-12 3 16 3-29 3 16 3-15 3 19 3-17 3 14 3-5 3 19 3-17 3 14 3-16 3 8 3-15 3 7 3-26 3 20 3-2 3 20 3-4 3 15 3-16 3 7 3-20 3-2 3-16 3 15 3-11 3 27 3-8 3 22 3-11 3 15 3-18 3 1 3-27 3 7 3-11 3 24 3-15 3 28 3-11 3 12 3-15 3 11 3-23 3 18 3-25 3 10 3-14 3 21 3-3 3 25 3-19 3 20 3-20 3 3 3-13 3 14 3-24 3 23 3-16 3 11 3 2 3 18 3-19 3 13 3-20 3 14 3-20 3 10 3-13 3 15 3-9 3 18 3-11 3 18 3-19 3 12 3-22 3 13 3-9 3 13 3-11 3 16 3-2 3 7 3-6 3 4 3-21 3 6 3-16 3 14 3-12 3 20 3-7 3 19 3-8 3 8 3-14 3 19 3-27 3 4 3-10 3 12 3-9 3 17 3-10 3 32 3-23 3 9 3-16 3 12 3-21 3 9 3-16 3 21 3-14 3 34 3-15 3 14 3-9 3 7 3-24 3 0 3-17 3 15 3-9 3 21 3-8 3 17 3-10 3 15 3-22 3 8 3-22 3 12 3-12 3 8 3-1 3 15 3 4 3 11 3-14 3 10 3-17 3 8 3-23 3 16 3-15 3 19 3-8 3 25 3-9 3 7 3-17 3 2 3-26 3 14 3-14 3 16 3-10 3 28 3-6 3 17 3-19 3 9 3-11 3-1 3-12 3 15 3-14 3 15 3-10 3 21 3-12 3 8 3-12 3 7 3-26 3 20 3-18 3 18 3-12 3 22 3-15 3 27 3-20 3 13 3-18 3 6 3-27 3 20 3-21 3 23 3-4 3 23 3-6 3 7 3-14 3 6 3-19 3 6 3-20 3 16 3-11 3 26 3-10 3 29 3-17 3 13 3-23 3 6 3-24 3 7 3-5 3 16 3-4 3 26 3-15 3 17 3-15 3 11 3-25 3 2 3-20 3 19 3-10 3 21 3-11 3 25 3-16 3 18 3-27 3 15 3-22 3 11"/>
</g></g>
<clipPath id="c3"><rect x="356.5" y="1870.3" width="2005.8" height="1058"/></clipPath>
<g clip-path="url(#c3)"><g transform="translate(429.5,1966.50) scale(0.385825,0.62426)" fill="none" stroke-width="23.067" stroke-linejoin="round" stroke-linecap="butt">
<path stroke="#000000" d="M-189-15l3 32 3-17 3 9 3 0 3 19 3-16 3 2 3-25 3 15 3 0 3 3 3-13 3 36 3-19 3 13 3 2 3 4 3-10 3 20 3-27 3 21 3-25 3 12 3-8 3 32 3-27 3 18 3-28 3 10 3-12 3 9 3-24 3 27 3-6 3 18 3-23 3 20 3-14 3 24 3-21 3 19 3-25 3 19 3-21 3 16 3-17 3 8 3-20 3 18 3-3 3 19 3-27 3 15 3-12 3 7 3-12 3 18 3-11 3 23 3-8 3 10 3-12 3 2 3 16126 3-13605 3-1629 3-211 3-67 3 3 3-38 3-1 3-40 3-10 3-42 3 5 3-36 3 0 3-31 3-8 3-28 3 9 3-36 3 0 3-23 3-18 3-16 3 7 3-23 3-1 3-20 3 9 3-19 3 17 3-20 3 19 3-22 3-2 3-28 3 13 3-7 3-9 3 5 3 6 3-22 3 19 3-22 3-6 3-8 3 16 3-21 3-1 3-2 3 12 3-11 3 14 3-13 3 6 3-14 3 19 3-21 3 8 3-22 3 20 3-1 3 19 3-24 3 13 3-18 3 14 3-31 3 18 3-11 3 0 3-4 3 16 3-28 3 34 3-18 3 21 3-29 3 9 3-4 3 10 3-10 3 6 3-15 3 25 3-14 3 20 3-28 3 35 3-33 3 16 3-20 3 20 3-18 3 18 3-23 3 14 3-4 3 2 3-8 3 9 3-22 3 18 3-19 3 18 3-26 3 16 3-20 3 23 3-12 3 16 3-11 3-11 3-13 3 21 3-13 3 4 3 3 3 10 3-14 3 19 3-12 3 9 3-2 3-7 3-9 3 13 3-26 3 19 3-6 3 13 3-5 3 11 3-16 3 14 3-8 3 9 3 4 3 9 3-14 3 15 3-31 3 23 3-9 3 27 3-24 3 20 3-25 3 17 3-3 3 3 3-13 3 13 3-16 3 21 3-24 3 21 3-16 3 7 3-12 3 33 3-22 3 10 3-7 3 19 3-23 3 16 3-11 3 11 3-19 3 11 3-24 3 34 3-15 3 19 3-27 3 28 3-27 3 18 3-15 3 13 3-29 3 23 3-14 3 11 3-2 3 6 3-21 3 24 3-19 3 13 3-8 3 8 3 0 3 8 3-6 3 15 3-17 3 12 3-12 3 13 3-19 3 11 3-19 3 23 3-21 3 29 3-13 3 21 3-17 3 7 3-10 3 12 3-18 3 9 3-12 3 35 3-26 3 14 3-2 3 1 3-16 3 15 3-12 3 8 3 52 3-5 3-55 3 7 3-14 3 27 3-18 3 18 3-12 3-8 3 0 3 12 3-15 3 19 3-21 3 26 3-12 3 19 3-23 3 15 3-5 3 8 3-4 3 10 3-19 3 4 3 1 3 1 3-7 3 27 3-37 3 21 3-18 3 12 3-16 3 26 3-17 3 15 3-8 3 5 3 3 3 12 3-22 3 8 3-3 3 7 3-6 3 26 3-24 3 15 3-4 3 15 3-25 3 6 3-19 3 8 3-10 3 13 3-15 3 21 3-9 3 18 3-23 3 15 3-16 3 12 3-17 3 25 3-24 3 9 3-2 3 22 3-22 3 5 3 3 3 9 3-12 3 9 3-19 3 18 3-8 3 8 3-6 3 5 3-10 3 10 3-15 3 17 3-28 3 27 3-26 3 26 3-12 3 1 3-11 3 18 3 0 3 19 3-25 3 4 3 6 3 5 3-23 3 28 3-12 3 20 3-7 3 8 3-20 3 12 3-16 3 17 3-19 3 16 3-26 3 13 3 0 3 18 3-20 3 18 3-27 3 15 3-18 3 15 3-3 3 15 3-25 3 19 3-18 3 27 3-13 3-5 3 3 3 13 3-21 3 22 3-17 3 27 3-16 3 1 3-13 3 19 3-14 3 25 3-21 3 32 3-30 3 30 3-3 3 5 3-23 3 14 3-24 3 11 3-12 3 19 3-29 3 19 3-2 3 23 3-19 3 13 3-16 3 15 3-17 3-1 3-11 3 24 3-17 3 23 3-16 3 28 3-18 3 16 3-16 3 7 3-19 3 25 3-24 3 20 3-11 3 5 3-18 3 21 3-7 3 11 3-3 3-3 3-14 3 14 3-1 3 15 3-13 3 13 3-14 3 10 3-10 3 14 3-24 3 16 3-10 3 19 3-11 3 7 3 5 3-5 3-1 3 10 3-16 3 8 3-19 3 14 3-14 3 27 3-19 3 8 3-14 3 15 3 1 3 5 3-12 3-1 3-11 3 20 3-13 3 24 3-12 3 23 3-11 3 2 3-5 3 15 3-9 3-2 3-7 3 14 3-19 3 27 3-24 3 13 3-17 3 20 3-32 3 20 3-9 3 19 3-25 3 23 3-14 3 34 3-16 3 14 3-23 3 13 3-25 3 33 3-19 3 5 3-8 3 12 3-11 3 11 3-18 3 18 3-4 3-1 3-8 3 14 3-15 3 9 3-9 3 28 3-6 3 12 3-24 3 48 3-22 3-10 3-12 3 14 3-7 3 10 3-10 3 12 3-24 3 6 3-18 3 19 3-12 3 17 3-9 3 11 3-13 3 13 3 0 3 11 3-35 3 17 3-10 3 8 3-4 3 14 3-9 3 29 3-22 3 10 3 1 3 9 3-8 3-2 3-8 3-2 3-4 3 10 3-14 3 17 3-18 3 16 3-16 3 27 3-21 3 7 3-8 3 5 3 6 3 13 3-24 3 13 3-14 3 17 3-19 3 17 3-16 3 23 3 4 3 5 3-21 3 14 3 5 3 4 3-14 3 10 3-14 3 12 3-29 3 18 3-3 3 13 3-14 3 19 3-17 3 21 3-16 3 4 3-5 3 15 3-25 3 18 3-4 3 28 3-15 3 4 3-4 3 1 3-18 3 16 3-21 3 22 3-8 3 16 3-25 3 23 3-9 3 9 3-19 3 1 3-12 3 18 3-8 3-3 3 0 3 14 3-13 3 31 3-26 3 16 3-3 3-1 3-27 3 20 3 2 3 9 3-11 3 16 3-14 3 16 3-18 3 2 3 5 3 11 3-10 3 11 3-10 3 19 3-18 3 22 3-29 3 15 3-7 3 2 3-15 3 18 3-15 3 13 3-10 3 12 3-7 3 10 3-18 3 23 3-22 3 7 3-6 3 24 3-11 3 1 3-4 3 12 3-6 3 14 3-4 3 1 3-17 3 11 3-10 3 13 3-10 3 20 3-20 3 27 3-33 3 20 3-11 3 9 3-16 3 15 3-13 3 15 3-6 3 12 3-12 3 7 3-15 3 16 3-6 3 1 3-2 3 13 3-20 3 16 3-13 3 3 3-8 3 36 3-16 3-6 3-6 3 10 3-19 3 17 3-12 3 14 3-6 3 2 3-12 3 20 3-10 3 10 3-3 3 5 3-1 3 4 3-12 3 12 3-20 3 17 3-21 3 18 3-10 3 14 3-7 3 13 3-19 3 24 3-21 3 11 3-7 3-3 3 2 3 8 3 19 3 7 3-46 3 27 3-7 3 11 3-21 3 5 3-19 3 31 3-21 3 7 3-9 3 24 3 0 3 4 3-4 3-1 3-13 3 0 3-8 3 11 3 13 3 4 3-12 3 10 3-4 3 12 3-20 3 16 3-26 3 15 3-11 3 8 3-16 3 18 3-8 3 29 3-14 3 3 3-14 3 11 3-14 3 21 3-28 3 16 3-10 3 19 3-11 3 19 3-19 3 20 3-19 3 12 3-19 3 14 3-15 3 15 3-5 3-1 3-2 3 14 3-10 3 17 3-6 3 5 3-16 3 18 3-8 3 12 3-25 3 12 3 10 3 8 3-14 3-8 3 0 3 6 3 1 3 7 3-11 3 18 3 1 3 11 3-15 3-5 3-10 3 5 3-8 3 12 3-14 3 11 3-5 3 24 3-19 3 11 3-18 3 21 3-17 3 6 3-15 3 24 3-20 3 18 3-3 3 12 3-24 3 11 3-16 3 23 3-31 3 3 3-9 3 14 3-7 3 31 3-28 3 19 3-5 3-4 3-9 3 7 3 2 3 23 3-19 3 13 3-13 3 19 3-25 3 17 3-12 3 1 3-5 3 4 3-1 3 20 3-11 3 12 3-24 3 25 3-15 3 14 3-22 3 10 3-8 3 10 3-17 3 7 3-8 3 15 3-19 3 10 3 5 3 18 3-26 3 3 3 1 3 7 3-25 3 23 3-14 3 28 3-26 3 7 3-7 3 7 3-3 3-2 3-4 3 22 3-2 3 6 3-18 3 4 3 2 3 14 3-23 3 15 3-22 3 16 3-8 3 35 3-28 3 42 3-38 3 18 3-23 3 13 3-18 3-1 3-8 3 4 3-3 3 21 3-8 3 10 3-4 3 2 3-21 3 21 3-17 3 9 3-3 3 19 3-14 3 24 3-26 3 21 3-10 3 5 3-21 3 8 3 1 3 5 3-13 3 10 3 1 3 3 3-21 3 26 3-22 3 17 3-16 3 16 3-6 3 22 3-31 3 19 3-9 3 13 3-16 3 5 3-7 3 8 3-6 3 18 3-10 3 8 3-8 3 7 3 0 3-6 3-10 3 15 3-22 3 26 3-16 3 22 3-16 3 14 3-9 3 5 3-13 3 7 3-14 3 9 3-11 3 11 3-13 3 15 3-8 3 1 3-8 3 18 3-15 3 18 3-20 3 12 3-19 3 30 3-13 3 15 3-18 3 13 3-19 3-3 3-3 3 21 3-19 3 24 3-19 3 19 3-28 3 37 3-23 3 19 3-12 3 5 3-18 3 24 3-27 3 26 3-13 3 3 3 0 3 11 3-9 3 15 3-12 3 5 3-16 3 14 3-1 3 4 3-5 3 11 3-18 3 8 3-8 3 13 3-24 3 22 3-27 3 31 3-12 3 19 3-25 3 12 3 1 3-1 3-19 3 23 3-24 3 22 3-13 3 15 3-4 3 5 3-5 3 10 3-27 3 10 3-5 3 10 3-9 3 30 3-22 3 5 3-8 3 14 3-17 3 22 3-23 3 11 3-7 3 7 3-10 3 6 3-9 3 7 3-4 3 2 3-14 3 16 3-16 3 10 3 5 3 4 3-11 3 26 3-10 3-3 3 1 3 5 3-25 3 15 3-8 3 7 3 0 3 20 3-10 3 14 3-8 3 3 3-17 3 6 3-18 3 11 3-7 3 12 3-15 3 16 3-11 3 22 3-31 3 27 3-32 3 28 3-23 3 22 3-21 3 26 3-2 3 5 3-21 3 26 3 90 3-47 3-64 3 8 3-17 3 5 3-12 3 29 3 0 3 18 3-27 3 1 3-3 3 5 3-24 3 18 3-14 3 15 3-19 3 13 3-8 3 14 3 6 3 0 3-10 3 16 3-8 3 10 3-23 3 12 3 3 3 15 3-13 3 5 3 0 3 2 3-8 3 4 3-10 3 9 3-6 3 5 3-9 3 14 3-12 3 5 3-14 3 8 3-6 3 11 3-6 3 15 3 2 3 18 3 3 3-14 3-20 3 12 3-26 3 29 3-18 3 17 3-15 3 20 3-18 3 15 3-16 3 13 3-17 3 20 3-25 3 19 3 3 3 7 3-27 3 25 3-8 3 15 3-29 3 10 3-23 3 34 3-28 3 24 3-26 3 33 3-13 3-11 3-18 3 20 3-13 3 26 3-18 3 13 3-14 3 17 3-16 3 12 3-10 3 22 3-29 3 15 3-10 3 16 3-22 3 19 3-14 3 25 3-19 3 27 3-30 3 8 3 1 3 5 3-31 3 25 3-9 3 6 3-7 3 13 2-3 0-521 4 110 3 13 3 10 3-20 3 15 3-17 3 18 3-15 3 14 3-8 3 20 3-22 3 14 3-21 3 37 3-37 3 8 3-14 3 22 3-14 3 23 3-23 3 24 3-13 3 10 3-31 3 30 3-22 3 14 3-10 3 15 3-26 3 14 3-14 3 29 3-32 3 22 3-15 3 7 3-16 3 24 3-22 3 14 3 11 3-8 3-7 3 9 3-13 3 10 3-15 3 12 3-18 3 11 3-8 3 14 3 15 3-1 3-11 3-1 3-10 3 2 3-18 3 22 3-12 3 20 3 0 3 3 3-12 3 22 3-5 3 6 3-13 3 13 3-12 3 8 3-12 3 13 3-14 3 11 3-9 3 7 3-14 3 15 3-15 3 8 3-4 3 9 3-4 3 9 3-7 3 16 3-30 3 14 3-2 3 2 3-12 3 12 3-9 3 13 3-6 3 0 3-9 3 24 3-23 3 12 3-6 3 17 3-10 3 11 3-15 3 12 3-4 3 1 3-9 3-5 3-13 3 22 3-19 3 15 3-11 3 18 3-13 3 25 3-23 3 7 3-12 3 12 3-16 3 17 3-13 3 6 3-9 3 9 3-7 3 16 3-25 3 3 3-8 3 3 3-3 3 16 3-11 3 17 3-6 3 10 3-12 3 12 3-9 3 7 3-22 3 11 3 5 3 2 3-14 3 2 3 9 3-5 3-2 3 8 3-12 3 10 3-5 3 21 3-25 3 30 3-14 3 30 3-34 3 8 3-21 3 23 3-27 3 24 3-15 3 19 3-18 3 13 3-12 3 22 3-21 3 16 3-20 3 16 3-17 3 18 3-3 3 1 3-10 3 20 3-12 3 11 3-17 3 18 3-13 3 12 3-6 3 5 3-15 3 15 3-15 3-4 3-8 3 24 3-36 3 7 3-11 3 22 3-3 3 1 3-3 3 30 3-22 3 5 3-10 3 9 3 4 3 8 3-11 3 16 3-4 3 14 3-34 3 19 3-4 3 3 3-20 3 0 3-13 3 13 3-7 3 7 3-9 3 12 3-10 3 16 3-9 3 16 3-31 3 21 3-3 3 14 3-15 3-1 3-5 3 29 3-18 3 5 3-12 3 20 3-30 3 21 3-16 3 10 3-10 3 24 3-30 3 30 3-33 3 21 3-23 3 24 3-4 3 9 3-9 3 16 3-15 3 11 3-14 3 12 3-8 3 13 3-16 3-7 3-2 3 18 3-2 3-6 3-5 3 12 3-10 3 9 3-32 3 17 3-7 3 18 3-14 3 19 3-26 3 18 3-18 3 6 3-2 3 11 3-13 3 28 3-8 3 6 3 1 3 5 3-15 3 25 3-24 3 20 3-27 3 8 3-20 3 13 3-10 3 18 3-23 3 23 3-9 3 12 3-23 3 19 3-17 3 17 3-11 3 13 3-13 3 23 3-14 3 15 3-21 3 6 3-5 3 8 3-22 3 12 3-17 3 27 3-10 3 11 3-17 3 11 3-14 3 21 3-23 3 16 3-19 3 7 3-10 3 9 3-17 3 17 3-14 3 25 3-13 3 15 3-17 3 10 3-7 3 14 3-19 3 17 3-6 3 13 3-16 3 1 3-2 3 3 3-7 3 19 3-4 3 21 3-19 3 14 3-6 3-3 3-11 3 10 3-19 3 19 3-7 3 9 3-20 3 21 3-13 3 12 3-17 3 23 3-21 3 13 3-16 3 15 3-16 3 19 3-23 3 32 3-20 3 14 3-17 3 14 3-25 3 2 3-2 3 10 3-11 3 10 3 0 3 15 3-7 3 8 3-17 3 10 3-9 3-1 3-2 3 13 3-14 3 19 3-14 3-4 3-14 3 21 3-23 3 28 3-26 3 17 3-1 3 19 3-11 3-5 3-1 3 17 3-13"/>
<path stroke="#ff0000" d="M-189 10l3 20 3-21 3 19 3-17 3 9 3-10 3 10 3-9 3 10 3-19 3 18 3-17 3 25 3-26 3 18 3-16 3 20 3-24 3 16 3-10 3 4 3-6 3 7 3-12 3 23 3-17 3 11 3-23 3 26 3-13 3 15 3-11 3 10 3-16 3 29 3-21 3 11 3-22 3 23 3-30 3 9 3-25 3 23 3-8 3 32 3-18 3 9 3 6 3 7 3-16 3 14 3-25 3 13 3-12 3 12 3-19 3 19 3-18 3 26 3-27 3 18 3-15 3 7 3 15971 3-13605 3-1629 3-193 3-46 3-11 3-27 3-3 3-38 3 1 3-32 3-12 3-26 3-3 3-19 3 6 3-28 3 1 3-35 3 3 3-29 3 6 3-12 3 0 3-24 3 12 3-14 3-10 3-10 3 22 3-25 3-1 3-13 3 1 3-8 3 11 3-14 3 11 3-2 3 6 3-30 3 9 3-16 3 11 3-16 3 2 3-13 3 32 3-1 3 6 3-18 3 19 3-14 3 9 3-19 3 3 3-7 3 7 3-11 3 11 3-4 3 4 3-9 3 6 3-26 3 11 3-11 3 6 3-17 3 29 3-24 3 20 3 5 3-1 3-15 3 34 3-31 3 16 3-25 3 18 3-20 3 6 3-22 3 13 3-13 3 23 3-7 3 3 3-6 3 10 3-25 3 28 3-6 3 14 3-13 3 14 3-17 3 17 3-12 3-5 3-8 3 15 3-23 3 20 3-22 3 15 3-8 3 19 3-25 3 16 3-26 3 10 3-6 3 13 3-2 3 12 3-21 3 12 3-11 3 8 3-9 3 18 3-15 3 11 3-8 3 19 3-10 3 5 3-13 3 4 3-6 3 11 3-21 3 8 3-12 3 19 3-8 3 21 3-21 3 19 3-4 3 14 3-23 3 10 3-22 3 19 3-11 3-4 3-4 3 19 3-11 3 10 3-20 3 10 3 1 3 3 3-18 3 31 3-18 3 13 3-7 3-5 3-4 3 21 3-13 3-11 3-19 3 18 3-3 3 7 3-10 3 4 3 1 3 14 3-14 3 8 3-27 3 24 3-12 3 5 3-15 3 9 3-14 3 28 3-18 3 14 3-3 3 9 3-24 3 24 3-21 3 23 3-28 3 24 3-9 3 7 3 15 3 1 3-18 3 16 3-19 3 3 3-13 3 25 3-26 3 14 3-17 3 16 3-4 3 15 3-9 3 1 3-20 3 26 3-18 3 18 3-11 3-1 3-8 3 21 3-19 3 16 3-13 3 10 3-1 3-1 3-16 3 15 3-20 3 15 3-6 3 5 3-10 3 1 3 2 3 13 3-11 3 12 3-11 3 25 3-25 3 13 3-19 3 14 3-29 3 14 3-10 3 26 3-13 3 13 3-5 3 7 3-6 3 0 3-9 3 12 3-12 3 10 3-1 3 16 3-11 3 25 3-26 3 29 3-25 3 10 3-14 3 27 3-29 3 17 3-19 3 9 3-11 3 21 3-19 3 30 3-39 3 8 3-3 3 16 3-28 3 5 3-8 3 19 3-12 3 14 3-10 3-1 3-4 3 20 3-9 3 11 3-7 3 13 3-9 3 4 3-8 3 2 3-2 3 6 3-15 3 17 3-8 3 12 3-20 3 19 3-8 3 3 3-8 3 15 3-21 3 7 3-15 3 22 3-17 3 36 3-23 3 12 3-2 3 3 3-25 3 11 3-9 3 3 3-11 3 18 3-5 3 24 3-11 3 9 3-8 3 6 3-8 3 6 3-9 3 6 3-19 3 18 3-9 3 14 3-17 3 11 3-5 3 16 3-12 3 11 3-33 3 25 3-18 3 5 3-10 3 28 3-7 3 9 3-14 3 12 3-9 3 19 3-11 3 2 3-14 3 9 3-12 3 30 3-27 3 11 3-8 3 23 3-3 3-2 3-19 3 26 3-17 3 24 3-21 3 16 3-18 3 18 3-11 3 4 3-13 3 10 3-8 3 8 3-20 3 20 3-4 3 8 3-14 3 15 3-8 3 14 3-11 3 13 3-17 3 25 3-17 3 13 3-20 3 3 3-10 3 24 3-16 3 0 3-5 3 9 3-6 3 11 3-15 3 15 3-19 3 24 3 17 3-12 3-25 3 7 3 14 3 7 3-26 3 11 3-23 3 27 3-20 3 8 3-11 3 19 3-17 3 20 3-19 3 21 3-14 3 13 3-16 3 18 3-8 3 8 3-11 3 14 3-22 3 12 3 6 3-2 3-6 3 3 3-6 3 11 3-21 3 18 3-25 3 16 3-3 3 19 3-15 3 4 3-8 3 7 3-12 3 5 3 1 3 11 3-2 3 7 3-8 3 11 3-14 3 16 3-21 3 12 3-20 3 24 3-8 3 16 3-9 3 17 3-10 3 7 3-26 3 20 3-12 3 11 3-27 3 30 3-17 3 19 3-24 3 24 3-31 3 11 3 6 3-7 3 0 3 17 3-15 3 7 3-10 3 9 3-17 3 26 3-22 3 15 3-18 3 25 3-12 3 22 3-22 3 20 3-11 3 11 3-17 3 20 3-24 3 0 3-4 3 12 3-8 3-4 3 3 3 22 3-20 3 9 3-31 3 31 3-14 3 4 3-13 3 17 3-9 3 7 3-15 3 24 3-25 3 23 3-15 3 13 3-15 3 17 3-18 3 17 3-7 3 14 3-11 3 16 3-19 3 13 3-11 3 5 3-12 3 17 3-14 3 26 3-20 3 24 3-18 3 18 3-18 3 7 3-14 3 3 3-23 3 42 3-43 3 37 3-35 3 31 3-20 3 13 3-14 3 10 3-9 3 24 3-19 3 22 3-16 3 8 3-18 3 21 3-24 3 8 3-8 3 8 3-6 3 23 3-23 3 17 3 3 3 10 3-21 3 17 3-15 3 13 3-18 3 6 3 2 3 26 3-18 3 22 3-21 3 25 3-23 3-1 3-9 3 16 3-17 3 19 3-8 3 15 3-14 3 22 3-22 3 11 3-21 3 3 3-11 3 21 3-6 3 23 3-27 3 26 3-24 3 16 3-10 3 18 3-30 3 13 3-13 3 34 3-9 3 14 3-16 3 1 3-20 3 26 3-25 3 23 3-20 3 20 3-10 3 16 3-12 3 17 3-20 3 13 3-15 3 10 3-24 3 20 3-15 3 4 3-4 3 7 3-19 3 27 3-13 3 14 3-15 3 10 3-15 3 13 3 4 3 9 3-9 3 15 3-19 3 19 3-21 3 24 3-30 3 22 3 3 3 6 3-15 3 6 3 5 3 18 3-31 3 18 3-6 3 5 3-18 3 22 3-22 3 23 3-10 3 20 3-12 3 10 3-17 3 5 3-1 3 11 3-14 3 23 3-21 3 5 3-5 3 12 3-15 3 15 3-27 3 6 3 5 3 3 3-13 3 20 3-3 3 7 3-4 3 6 3-10 3 13 3-20 3 12 3-4 3 0 3-7 3 20 3-19 3 24 3-16 3 6 3-11 3 10 3-12 3 12 3-18 3 24 3-14 3 17 3-13 3 19 3-9 3 7 3-21 3 10 3-13 3 21 3-23 3 30 3-8 3 11 3-12 3 8 3-25 3 9 3-24 3 23 3-11 3 32 3-27 3 28 3-22 3 26 3-14 3 9 3-9 3 2 3-14 3 26 3-30 3 14 3 6 3 2 3-15 3 17 3-27 3 11 3-8 3 4 3-4 3 6 3-16 3 41 3-11 3 15 3-19 3 16 3-14 3 0 3-4 3 8 3-23 3 26 3-11 3 4 3-7 3-3 3 0 3 0 3 0 3 11 3-20 3 25 3-12 3-1 3-2 3 3 3-11 3 3 3-11 3 6 3-10 3 16 3-8 3 18 3-5 3 14 3-13 3 16 3-23 3 11 3 10 3-1 3-34 3 28 3-8 3 15 3-23 3 22 3-6 3 5 3-18 3 44 3-50 3 17 3 8 3-1 3-7 3 4 3-4 3 16 3-25 3 3 3 7 3-1 3-10 3 21 3-9 3 9 3-14 3 4 3-13 3 27 3-29 3 20 3-22 3 11 3-11 3 27 3-18 3 17 3-1 3 3 3-2 3 10 3-13 3 24 3-24 3 3 3-11 3 23 3-32 3 13 3-11 3-3 3-1 3 22 3-14 3 8 3-15 3 29 3-9 3 17 3 3 3 3 3-24 3 5 3-25 3 8 3 2 3-10 3-3 3 20 3-4 3 13 3 0 3 19 3-25 3 2 3-9 3 10 3-20 3 38 3-25 3 13 3-7 3 11 3 0 3 8 3-24 3 8 3-13 3 17 3-22 3 26 3-8 3 23 3-27 3 29 3-17 3 9 3-20 3 12 3-18 3 14 3-10 3 25 3-12 3 12 3 4 3-5 3-3 3-9 3-3 3-4 3-6 3 13 3-7 3 14 3-9 3 27 3-21 3 12 3-33 3 20 3-20 3 15 3-25 3 31 3-17 3 29 3-24 3 24 3-20 3 17 3-16 3 16 3-21 3 8 3-7 3 14 3-7 3 3 3-17 3 19 3-25 3 4 3-7 3 27 3-27 3 27 3-20 3 29 3-21 3 11 3-12 3 20 3-30 3 11 3-5 3 15 3-15 3 19 3-9 3 25 3-11 3-2 3-18 3 13 3-7 3 7 3-17 3 15 3-5 3 28 3-23 3 17 3-21 3 12 3-23 3 9 3-14 3 24 3-12 3 12 3-4 3 7 3-14 3 10 3-13 3 17 3-28 3 28 3-25 3 23 3-9 3 12 3 1 3 4 3-14 3 16 3-12 3-2 3-11 3 19 3-22 3 13 3-10 3 6 3-7 3 30 3-29 3 22 3 0 3 4 3-16 3 21 3-7 3 4 3-11 3 6 3-13 3 16 3-15 3 7 3 1 3 7 3-9 3 14 3-8 3-10 3 17 3-4 3-9 3 5 3-16 3 10 3-3 3 2 3-15 3 23 3 6 3 2 3-25 3 21 3-21 3 2 3-17 3 7 3-3 3 15 3-15 3 10 3-7 3 24 3-7 3 5 3-6 3 15 3-8 3 0 3-18 3 21 3-19 3 24 3-16 3 2 3 0 3 18 3-35 3 14 3-5 3 26 3-10 3 14 3 6 3-6 3-16 3 4 3-13 3 13 3-14 3 19 3-13 3 12 3-9 3 6 3-1 3 13 3-12 3 11 3-22 3 28 3-29 3 30 3-28 3 13 3-3 3 16 3-15 3 14 3-11 3 11 3-21 3 25 3-13 3 12 3-7 3 3 3-14 3 18 3-13 3 8 3-21 3 11 3-1 3 1 3-8 3 18 3-9 3 7 3-12 3 33 3-25 3 23 3-37 3 26 3-17 3 9 3-11 3 18 3-25 3 32 3-22 3 12 3-4 3 9 3-15 3 8 3 6 3 9 3-6 3 0 3-20 3 22 3-15 3 10 3-16 3 14 3-24 3 29 3-13 3 24 3-14 3 10 3-1 3 9 3-6 3 2 3-15 3 12 3-14 3 16 3 15 3 0 3-29 3 5 3 1 3-6 3-2 3 12 3-10 3 17 3-13 3 17 3-10 3 5 3-4 3 1 3-12 3 12 3-9 3 12 3-7 3 6 3 5 3 5 3-16 3 7 3-13 3 16 3-21 3 5 3-17 3 16 3-6 3 31 3-26 3 21 3-10 3 21 3-20 3 10 3-20 3 20 3-19 3 18 3-18 3 27 3-15 3 15 3-14 3 23 3-27 3 22 3-19 3 12 3-9 3 11 3-12 3 14 3-8 3 0 3-6 3 21 3-14 3 0 3-12 3 19 3 0 3 16 3-19 3 10 3-5 3 8 3-15 3 2 3-8 3 12 3-4 3 15 3-17 0-1278 3 841 3 152 3 44 3-20 3 26 3-18 3 5 3 0 3 3 3-5 3 2 3-6 3 8 3-8 3 14 3-28 3 18 3-15 3 14 3-9 3 15 3-15 3 29 3-27 3 13 3-11 3 17 3-17 3 9 3-14 3 5 3-1 3 9 3 4 3 17 3-27 3-2 3-2 3 12 3-7 3 13 3-20 3 20 3-18 3 28 3-17 3 0 3-22 3 24 3-20 3 17 3-17 3 26 3-17 3 26 3-10 3 21 3-24 3 7 3-15 3 14 3-20 3 4 3-7 3-3 3-5 3 9 3-3 3 16 3-25 3 12 3-2 3 10 3 1 3-1 3-14 3 20 3-8 3 14 3-18 3 19 3-5 3-11 3-5 3-5 3 12 3 9 3-20 3 18 3-4 3-2 3 6 3 1 3-13 3 8 3-26 3 23 3-11 3 9 3-6 3 20 3-14 3 7 3-18 3 4 3-8 3 17 3-7 3 16 3-11 3 6 3-12 3 9 3-16 3 14 3-20 3 2 3 0 3 20 3-5 3 8 3-12 3 12 3-21 3 30 3-28 3 3 3-17 3 24 3-19 3 11 3-3 3 24 3-11 3 17 3-23 3 10 3-7 3-6 3-12 3 5 3-5 3 23 3-19 3 11 3-2 3 31 3-20 3 22 3-30 3 5 3-6 3 15 3-12 3 14 3-8 3 9 3 0 3 4 3-21 3-5 3-3 3 20 3-23 3 16 3-2 3 18 3-29 3 14 3-11 3 3 3-6 3 10 3-13 3 3 3-3 3 16 3-17 3 5 3-3 3-9 3 6 3 5 3-13 3 1 3 3 3 16 3-19 3 10 3 3 3 17 3-18 3 14 3-19 3 10 3-14 3-3 3-9 3 23 3-11 3 16 3-10 3 23 3-21 3 10 3-13 3 13 3-5 3 18 3-16 3 6 3-10 3 12 3-25 3 13 3-29 3 30 3-10 3-1 3 4 3 0 3 4 3 2 3-5 3 8 3-20 3 22 3-18 3 11 3-10 3 15 3-8 3 12 3-7 3 4 3-24 3 14 3-19 3 12 3-10 3 8 3 2 3 22 3-21 3 27 3-15 3 9 3-23 3 8 3-8 3 16 3-18 3 8 3 3 3 7 3-10 3 17 3-17 3 15 3-23 3 13 3-7 3 20 3-23 3 7 3-2 3 9 3-21 3 9 3 2 3-2 3-1 3 0 3-13 3 16 3-9 3 11 3-21 3 26 3-17 3-3 3-9 3 20 3-25 3 32 3-18 3 18 3-7 3 19 3-9 3 9 3-22 3 10 3-14 3 6 3-2 3 11 3-11 3 26 3-29 3 41 3-45 3 17 3-17 3 8 3-15 3 19 3-12 3 24 3-21 3 9 3-5 3 9 3-14 3 11 3-30 3 25 3-5 3 11 3-18 3 22 3-19 3 29 3-27 3 13 3-4 3 0 3-25 3 24 3-10 3 8 3 6 3 0 3-5 3 27 3-27 3 15 3-19 3 4 3-13 3 24 3-14 3 19 3-28 3 18 3-6 3 13 3-23 3 12 3-13 3 3 3 0 3 10 3-10 3 24 3-12 3 16 3 0 3-6 3-13 3 5 3-16 3 14 3-12 3 16 3-15 3 18 3-18 3 25 3-22 3 15 3-20 3 1 3-15 3 24 3-25 3 18 3-16 3 20 3-7 3 9 3-14 3 3 3-33 3 37 3-15 3 19 3-6 3 23 3-23 3 26 3-29 3 17 3-17 3 11 3-18 3 28 3-11 3 9 3-10 3 16 3-29 3 20 3-16 3 11 3-12 3 11 3-9 3 18 3-10 3 1 3-12 3 9 3 4 3 3 3-20"/>
<path stroke="#00ff00" d="M-189-20l3 6 3 3 3 21 3-19 3 10 3-9 3 13 3-16 3 19 3-20 3 19 3-7 3 24 3-24 3 16 3-13 3 24 3-38 3 8 3-3 3 3 3-4 3 10 3-3 3 14 3-20 3 18 3-33 3 18 3-8 3-2 3-6 3 19 3-23 3 28 3-16 3 33 3-28 3 3 3-14 3 11 3-14 3 10 3-19 3 24 3-2 3 16 3-25 3 16 3-17 3 2 3-11 3 10 3-21 3 20 3-11 3 20 3 2 3 21 3-17 3 14 3-12 3 0 3 15845 3-13609 3-1625 3-190 3-40 3-4 3-30 3-1 3-24 3-16 3-23 3-4 3-31 3 14 3-12 3-7 3-15 3 22 3-40 3 3 3-23 3-4 3-7 3 14 3-18 3 21 3-21 3-5 3-18 3 20 3-32 3 24 3-29 3 17 3-25 3 21 3-27 3 21 3-4 3 8 3-10 3 1 3-11 3 0 3-19 3 6 3-2 3 10 3-4 3 14 3-17 3 25 3-23 3 12 3-15 3 5 3-8 3 14 3-18 3 20 3-18 3 23 3-34 3 28 3-18 3 8 3-24 3 7 3-5 3 22 3-22 3 11 3 4 3 7 3-6 3 14 3-26 3 10 3-15 3 16 3-14 3 13 3 3 3 0 3-7 3 5 3-17 3 15 3-26 3 19 3-24 3 16 3 7 3 13 3-14 3 17 3-22 3 2 3-16 3 6 3-1 3 8 3-14 3 32 3-24 3 15 3-29 3 22 3-18 3 4 3-19 3 14 3-12 3 21 3-16 3 29 3-17 3 8 3-17 3 18 3-24 3-6 3-2 3 15 3-19 3 2 3 7 3 24 3-18 3 16 3-13 3 11 3-21 3 19 3-11 3 5 3-10 3 21 3-17 3 24 3-21 3 22 3-22 3 3 3-15 3 29 3-18 3 21 3-17 3 23 3-21 3 11 3-11 3 6 3-17 3 7 3-9 3 15 3-7 3 10 3-10 3 15 3-9 3 9 3-22 3 16 3-15 3 8 3-3 3 26 3-25 3 15 3 4 3 0 3-30 3 19 3-16 3 17 3-11 3 1 3-8 3 8 3 0 3 18 3-24 3 6 3 8 3 9 3-12 3 1 3-11 3 7 3 8 3-12 3 3 3 1 3 3 3 6 3-18 3 5 3-8 3 16 3-11 3 18 3-18 3 16 3-8 3-1 3 0 3 4 3-11 3 1 3-14 3 28 3-5 3 4 3-7 3 8 3-9 3 20 3-13 3 2 3 0 3 13 3-3 3 15 3-17 3 15 3-10 3 3 3-28 3 10 3-12 3 26 3-17 3 10 3-20 3 21 3-11 3 19 3-26 3 18 3-17 3 27 3-30 3 14 3-12 3 21 3 0 3 16 3-22 3 8 3-18 3 7 3-16 3 9 3-8 3 14 3-14 3 26 3-24 3 18 3-7 3 2 3-8 3 13 3-22 3 32 3-27 3 18 3-16 3 12 3-6 3 3 3-6 3-1 3-16 3 26 3-14 3 19 3-27 3 23 3-11 3 2 3-2 3-1 3-6 3 15 3-7 3 9 3-14 3 15 3-13 3 11 3-7 3 4 3-15 3 14 3-25 3 27 3-14 3 11 3-5 3 7 3-15 3 20 3-19 3 17 3-16 3 13 3-13 3 8 3-7 3 19 3-15 3 13 3-18 3 32 3-25 3-1 3-12 3 14 3-8 3 7 3-10 3 13 3-5 3 13 3-14 3 12 3-20 3 6 3-16 3 5 3-10 3 12 3-7 3 18 3-12 3 15 3-5 3 7 3-9 3 19 3-26 3 25 3-22 3 19 3-16 3 19 3-25 3 22 3-24 3 16 3-15 3 22 3-17 3 19 3-6 3 2 3 2 3 5 3-19 3 6 3-13 3 16 3-11 3 7 3-10 3 17 3-7 3 17 3-15 3 13 3-11 3 12 3-20 3 12 3-19 3 18 3-9 3 7 3 0 3 9 3-5 3 11 3-31 3 19 3-10 3 12 3-17 3 13 3-15 3 15 3-5 3 8 3-18 3 7 3-6 3 15 3-15 3 3 3-10 3 20 3-5 3 5 3-29 3 12 3-9 3 23 3-23 3 21 3-18 3 25 3-15 3 14 3-11 3 26 3-28 3 20 3-21 3 24 3-28 3 12 3-8 3 29 3-30 3 11 3 0 3 4 3-14 3 11 3-12 3 20 3-17 3 11 3-8 3 18 3-7 3 9 3-26 3 8 3-8 3 12 3-15 3 14 3-14 3 15 3 2 3 11 3-19 3 12 3-12 3 8 3-20 3 20 3-27 3 22 3-14 3 18 3-8 3 19 3-16 3 14 3-17 3 9 3-24 3 21 3-15 3 18 3-16 3 33 3-38 3 26 3-23 3 11 3-10 3 10 3-17 3 17 3-19 3 11 3 0 3 10 3-15 3 24 3-22 3 9 3-14 3 25 3-10 3 0 3-7 3 24 3-19 3 20 3-3 3-2 3-26 3 16 3-7 3 13 3-19 3 20 3-14 3 9 3 7 3-2 3 13 3-7 3-5 3 5 3-17 3 19 3-19 3 20 3-9 3 10 3-10 3 16 3-18 3-2 3-17 3 14 3-12 3 0 3-11 3 23 3-4 3 17 3-14 3 9 3-20 3 8 3-9 3 14 3-10 3 26 3-25 3 23 3-33 3 5 3-4 3 9 3-5 3 7 3-10 3 23 3-29 3 23 3-14 3 18 3-27 3 19 3-25 3 16 3-14 3 17 3-14 3 32 3-16 3 19 3-15 3 14 3-17 3 2 3-14 3 14 3-13 3 20 3-11 3 14 3-7 3 7 3-16 3 25 3-23 3 19 3-9 3 12 3-29 3 17 3-11 3 12 3-9 3 23 3-14 3 2 3-17 3 14 3-5 3 13 3-15 3 18 3-12 3 19 3-5 3-21 3-16 3 2 3-5 3 18 3-20 3 28 3-12 3 20 3-6 3 2 3-6 3 4 3-26 3 21 3-10 3 11 3-4 3 2 3 9 3-2 3-2 3 17 3-26 3 8 3-14 3 20 3-17 3 21 3-12 3 19 3-18 3 12 3-12 3 2 3-13 3 3 3-3 3 18 3-11 3 20 3-14 3 6 3-20 3 17 3-26 3 7 3-1 3-2 3 1 3 9 3-12 3 19 3-13 3 11 3-11 3 20 3-24 3 27 3-12 3 9 3-11 3 14 3-10 3 20 3-20 3 12 3-6 3-1 3-11 3 18 3-15 3 24 3-15 3 15 3-13 3 13 3-11 3-3 3-6 3 16 3-20 3 10 3-4 3 10 3-18 3 12 3-13 3 15 3-17 3 8 3-22 3 15 3-2 3 1 3-6 3 15 3-5 3 9 3-18 3 14 3-14 3 7 3-11 3 16 3-12 3 25 3-12 3 9 3-5 3 13 3-14 3 9 3-20 3 15 3-15 3 13 3-17 3 20 3-6 3 15 3-22 3 9 3-11 3 13 3-15 3 19 3-15 3 25 3-7 3 6 3-21 3 20 3-11 3 1 3-20 3 0 3 6 3 9 3-20 3 20 3-14 3 15 3-13 3 9 3-11 3 21 3-36 3 37 3-17 3 24 3-30 3 27 3-6 3 6 3-18 3 3 3-23 3 31 3-30 3 30 3-18 3 10 3 0 3 20 3-26 3 10 3-10 3 4 3-3 3 12 3-13 3 19 3-18 3 21 3-12 3 5 3-14 3-2 3-25 3 19 3-17 3 16 3-17 3 35 3-6 3 24 3-2 3 11 3-18 3 1 3-20 3 18 3-15 3 13 3-4 3 10 3-4 3 8 3-23 3 20 3-22 3 3 3-6 3 6 3-4 3 24 3-24 3 13 3-12 3 18 3-20 3 14 3-9 3 22 3-26 3 9 3-2 3 9 3-16 3 19 3-23 3 12 3-20 3 25 3-18 3 18 3-10 3 13 3-14 3 23 3-19 3 7 3-13 3 16 3-16 3 12 3-7 3-4 3 7 3 7 3 6 3 5 3-23 3 19 3-11 3 6 3-15 3 17 3-18 3 22 3-18 3 10 3-19 3 26 3-17 3 1 3-5 3-4 3-14 3 13 3-7 3 17 3-4 3 30 3-12 3-6 3-12 3 18 3 16 3-3 3-40 3 12 3 2 3 3 3-8 3 7 3-17 3 21 3-20 3 16 3-6 3-6 3 0 3 11 3-9 3 24 3-22 3 11 3-9 3 9 3-13 3 5 3-14 3 23 3-18 3 22 3-17 3 24 3-24 3 13 3-23 3 2 3-9 3 28 3-23 3 24 3-15 3 21 3-6 3 4 3-9 3 2 3-15 3 13 3-21 3 11 3-8 3 11 3-9 3 19 3-23 3 13 3-1 3 14 3-15 3 3 3-8 3 15 3-5 3 9 3-13 3 11 3-14 3 9 3-14 3 13 3-15 3 12 3-8 3 24 3-18 3 18 3-8 3-1 3-2 3 0 3-17 3 16 3-18 3 33 3-29 3 20 3-10 3 18 3-22 3 24 3-25 3 15 3-11 3 6 3-7 3 4 3-11 3 37 3-19 3 9 3-12 3 14 3 2 3-10 3-21 3 16 3-6 3 1 3 1 3 1 3-14 3 19 3-11 3 4 3-7 3 19 3-6 3 13 3-18 3 26 3-20 3-1 3-8 3 6 3-9 3 5 3-20 3 22 3-10 3 16 3-7 3 5 3-11 3 25 3-26 3 27 3-22 3 7 3-9 3 27 3-14 3 17 3-24 3 8 3 1 3 10 3-22 3 13 3-30 3 33 3-17 3 18 3 3 3 9 3-15 3 5 3-21 3 17 3-13 3 18 3-13 3 22 3-12 3 15 3-20 3 11 3-20 3 20 3-14 3 12 3-17 3 15 3-2 3 7 3-4 3 46 3-37 3-7 3-10 3 16 3-6 3 8 3-17 3 14 3-17 3 27 3-32 3 10 3-13 3 21 3-9 3 22 3-18 3 22 3-16 3 13 3-15 3 20 3-17 3 4 3-14 3 1 3-15 3 18 3-10 3 24 3-14 3 27 3-17 3 16 3-8 3-4 3-18 3 25 3-23 3 7 3-10 3 15 3-7 3 7 3-14 3 10 3-7 3 24 3-12 3 13 3-11 3 2 3 11 3 20 3-52 3 7 3-11 3 23 3-22 3 21 3-18 3 14 3-12 3 17 3-13 3 23 3-12 3 24 3-20 3 1 3-7 3 6 3-14 3-1 3-8 3 17 3-11 3 17 3-19 3 13 3-14 3 12 3-3 3 9 3-19 3 12 3-1 3 20 3-23 3 0 3-11 3 11 3-15 3 22 3-25 3 28 3-8 3 3 3-2 3 13 3-34 3 25 3-39 3 29 3-9 3 14 3-19 3 22 3-16 3 30 3-17 3 13 3-10 3 3 3-5 3 26 3-20 3 8 3-9 3 11 3-16 3 14 3-25 3 19 3-9 3 9 3-12 3 5 3-10 3 6 3-2 3 18 3-18 3 12 3-4 3 25 3-40 3 9 3-4 3 19 3-9 3 14 3-15 3 18 3-6 3 4 3-19 3 16 3-21 3 15 3-9 3 29 3-34 3 30 3-15 3 3 3-10 3 5 3-19 3 12 3-7 3 20 3-18 3 16 3-4 3 6 3-13 3 6 3-11 3 20 3-26 3 10 3-23 3 12 3-10 3 23 3-23 3 24 3-6 3 21 3-27 3 17 3-18 3 19 3-8 3 11 3-10 3 13 3-10 3 18 3-18 3 13 3-13 3 2 3-9 3 20 3-12 3 26 3-11 3-2 3-19 3 10 3-13 3 19 3-24 3 9 3 0 3 19 3-10 3 9 3-23 3 8 3-13 3 6 3-23 3 29 3-18 3 15 3-3 3 15 4-7 0-208 5 0 3 77 3 10 3 12 3-19 3 19 3-7 3 6 3 0 3 20 3-23 3 17 3-12 3 19 3-4 3-3 3-3 3 7 3-13 3 13 3-18 3 13 3-6 3 8 3-25 3 15 3-16 3 19 3-21 3 9 3-5 3 14 3-15 3 30 3-19 3 8 3-4 3 6 3-10 3 0 3-13 3 13 3-4 3 17 3-19 3 18 3-18 3 33 3-24 3 1 3-19 3 19 3-14 3 27 3-16 3 5 3-9 3 20 3-18 3 12 3-12 3 8 3-10 3 18 3 1 3 9 3-26 3 7 3-1 3 5 3-22 3 14 3-15 3 27 3-21 3 20 3-17 3 30 3-19 3 8 3-12 3 18 3-20 3 6 3-11 3 28 3-26 3 15 3-14 3 1 3-14 3 31 3-27 3 7 3-4 3 12 3-6 3 15 3-16 3 14 3-18 3 24 3-30 3 18 3-13 3 17 3-8 3 13 3-15 3 28 3-19 3 19 3-25 3 16 3-23 3 13 3-7 3-6 3-5 3 6 3-2 3 19 3-19 3 3 3-10 3 11 3-5 3 5 3-29 3 23 3 0 3 1 3-11 3 20 3-21 3 22 3-28 3 21 3-15 3 14 3-2 3 16 3-18 3 23 3-17 3 7 3-11 3 7 3-20 3 27 3-17 3 1 3 6 3 10 3-7 3 9 3-7 3 12 3-15 3 9 3-12 3-3 3-14 3 23 3-15 3 20 3-19 3 20 3-6 3 2 3-11 3 17 3-17 3 22 3-4 3 1 3-12 3 22 3-12 3 2 3-17 3 10 3-14 3 14 3-5 3-3 3 2 3 3 3-10 3 3 3-13 3 5 3-9 3 19 3-26 3 14 3-1 3 5 3-9 3 18 3-17 3 21 3-28 3 11 3-15 3 22 3-7 3 15 3-11 3 18 3-8 3 4 3-18 3 1 3-16 3 13 3 14 3 0 3-5 3 6 3 0 3 7 3-1 3 1 3-22 3 20 3-20 3-4 3-7 3 11 3-6 3 26 3-23 3 11 3-7 3 21 3-22 3 22 3-17 3 9 3-17 3 24 3-3 3 14 3-28 3 9 3-4 3 7 3-20 3 9 3-29 3 37 3-24 3 21 3-15 3 16 3-21 3 27 3-14 3 12 3-10 3 5 3-23 3 23 3-7 3 11 3-27 3 19 3-11 3 14 3-31 3 26 3-14 3 18 3-4 3 9 3-3 3-3 3-6 3 23 3-22 3 6 3-17 3 16 3-3 3 7 3-3 3 6 3-11 3 7 3-24 3 22 3-9 3 13 3-3 3 3 3-9 3 26 3-20 3 15 3-19 3 12 3-24 3 12 3-8 3 22 3-23 3 13 3-8 3 10 3-9 3 15 3-19 3 14 3-1 3 6 3-20 3 17 3-11 3 26 3-23 3 32 3-27 3 21 3-29 3 11 3-20 3 21 3-20 3 23 3-6 3 11 3-15 3 20 3-27 3 16 3-15 3 10 3-23 3 11 3-7 3 26 3-12 3 11 3-14 3 16 3-1 3-2 3-17 3 4 3-13 3 11 3-1 3 15 3-15 3 36 3-29 3 11 3-21 3 18 3-9 3 11 3-16 3 15 3-9 3 16 3-27 3 22 3-19 3 8 3-14 3 16 3-22 3 24 3 5 3-7 3-15 3 13 3-10 3 18 3-14 3 4 3 3 3-9 3 3 3 6 3-2 3 13 3-4 3-3 3-4 3-2 3-29 3 33 3-26 3 8 3 7 3 11 3-9 3 11 3-8 3 13 3-28 3 21 3-22"/>
<path stroke="#0000ff" d="M-189-3l3 23 3-7 3-4 3-21 3 16 3-24 3 16 3-6 3 23 3-16 3 16 3-21 3 30 3-24 3 20 3-21 3 10 3-12 3 13 3-20 3 8 3-11 3 12 3-16 3 28 3-6 3-4 3-5 3 4 3-16 3 28 3-29 3 23 3-19 3 28 3-10 3 3 3-17 3 22 3-17 3 10 3-15 3 21 3-13 3 17 3-12 3 6 3-13 3 5 3-8 3 1 3-12 3 20 3-9 3 21 3-22 3 24 3-21 3-1 3 1 3 11 3-19 3 10 3 15774 3-13587 3-1623 3-177 3-51 3 3 3-20 3-7 3-48 3 10 3-29 3 0 3-14 3 12 3-25 3 11 3-22 3 0 3-28 3 5 3-25 3 14 3-12 3 1 3-3 3 4 3 1 3 16 3-36 3 17 3-18 3 2 3-3 3-6 3-21 3 19 3-23 3 18 3-15 3 28 3-27 3 1 3-21 3 21 3-22 3 32 3-35 3 6 3 6 3 3 3-9 3 7 3-28 3 19 3-13 3 8 3-8 3 21 3-21 3 11 3-5 3 7 3-9 3-2 3-8 3 4 3-18 3 2 3-19 3 14 3 4 3 15 3-15 3 14 3 0 3-8 3-4 3 13 3-25 3 20 3-16 3 23 3-26 3 16 3-19 3 4 3-22 3 19 3-12 3 32 3-26 3 17 3-21 3 23 3-13 3-2 3-14 3 9 3-10 3-2 3-1 3 12 3-6 3 17 3-15 3 7 3-11 3 3 3-11 3 7 3-19 3 18 3-2 3 12 3-13 3 36 3-27 3 15 3-22 3 21 3-6 3-2 3-16 3 19 3-29 3 25 3-20 3 3 3-6 3 7 3-12 3 14 3-28 3 18 3-22 3 28 3-23 3 18 3-5 3 5 3-2 3 1 3-5 3 12 3-2 3 4 3-4 3 9 3-14 3 13 3-6 3 9 3-18 3 18 3-18 3 5 3 3 3 2 3-2 3 5 3-9 3 17 3-12 3 13 3-12 3-1 3 5 3-4 3-15 3 25 3-9 3 16 3-15 3 5 3-27 3 15 3-7 3 14 3-23 3 21 3-8 3 19 3-3 3-3 3-24 3 20 3-13 3 3 3-2 3 10 3-19 3 27 3-24 3 9 3-5 3 19 3-23 3 9 3-13 3 6 3-10 3 10 3 5 3 4 3 2 3 9 3-5 3 12 3-23 3 7 3-8 3 2 3-13 3 22 3-11 3 13 3-5 3 2 3-12 3 12 3-6 3-3 3-14 3 18 3-5 3 27 3-22 3 20 3-26 3 5 3-9 3 8 3-16 3 15 3-8 3-1 3-2 3 13 3-6 3-3 3 2 3-4 3 3 3 2 3-12 3 8 3-10 3 35 3-23 3 21 3-26 3 16 3-21 3 15 3-21 3 15 3-11 3 6 3-4 3 21 3-16 3 21 3-31 3 18 3-17 3 13 3-22 3 14 3-13 3 20 3 10 3-10 3 2 3 3 3-19 3 6 3-12 3 18 3-13 3 14 3-1 3 7 3 13 3-4 3-13 3 21 3-16 3 15 3-38 3 28 3-17 3 16 3-2 3 2 3-2 3 8 3-9 3 4 3-30 3 7 3-3 3 15 3-21 3 23 3-5 3 10 3-14 3 11 3-22 3 26 3-15 3 10 3-10 3 7 3 2 3 22 3-31 3 20 3-23 3 12 3-13 3-3 3-11 3 34 3-15 3 19 3-23 3 16 3-17 3 9 3-4 3 4 3-24 3 15 3-1 3 15 3-25 3 37 3-18 3 8 3-4 3 3 3-21 3 19 3-12 3 18 3-13 3 9 3-20 3 21 3-11 3 2 3-25 3 20 3-10 3 0 3 1 3 8 3-9 3 14 3-5 3 10 3-14 3 4 3-9 3 18 3-4 3-3 3 0 3 12 3-19 3 5 3 3 3 11 3-21 3-1 3 3 3 20 3-12 3 0 3 9 3 7 3-10 3 11 3-12 3 8 3-3 3-3 3-19 3 21 3-16 3 10 3-17 3 7 3-3 3 11 3-13 3 5 3-20 3 25 3-15 3 11 3-9 3 22 3-4 3 12 3-24 3 9 3-9 3 13 3-17 3 6 3-6 3 17 3-11 3 29 3-28 3 19 3-26 3 17 3-11 3 5 3-13 3 7 3-10 3 7 3 0 3 6 3-15 3 13 3-21 3 8 3-1 3 22 3-18 3 17 3-20 3 0 3-6 3 15 3-11 3 14 3-15 3 25 3-20 3 12 3-5 3 11 3-14 3 19 3-3 3-2 3-13 3 3 3-15 3 5 3-5 3 23 3-24 3 26 3-23 3 20 3-25 3 7 3-1 3 1 3-6 3 16 3-10 3 26 3-15 3 10 3-20 3 6 3-11 3 19 3-23 3 19 3-17 3 23 3-24 3 20 3-12 3 12 3-8 3 11 3-25 3 14 3-18 3 23 3-11 3 8 3-16 3 8 3 6 3 13 3-32 3 10 3 0 3 7 3-3 3 6 3-7 3 19 3-11 3 7 3-24 3 8 3-5 3 10 3-14 3 14 3-16 3 36 3-21 3 9 3-20 3 15 3-14 3 7 3-9 3 12 3-12 3 6 3-4 3 14 3-20 3 22 3-22 3 32 3-26 3 15 3-8 3-1 3-4 3 4 3-18 3 25 3-23 3 31 3-35 3 32 3-24 3 23 3-20 3 5 3-7 3 8 3 6 3 6 3-14 3 20 3-19 3 2 3-2 3 0 3-10 3 26 3-15 3 18 3-19 3 17 3-3 3 17 3-36 3 18 3-13 3 5 3-12 3 13 3-12 3 10 3-8 3 16 3-21 3 7 3-5 3 15 3-9 3 9 3-5 3 13 3-11 3 9 3-20 3 4 3-9 3 16 3-7 3 7 3-9 3 13 3-13 3 5 3-5 3 20 3-29 3 19 3-14 3 8 3 1 3 12 3-7 3 7 3-12 3 17 3-24 3 19 3-17 3 6 3-6 3 8 3 1 3-2 3-1 3 3 3-10 3 12 3-17 3 11 3-13 3 3 3-7 3 18 3-7 3 23 3-14 3 22 3-24 3 15 3-22 3 11 3-3 3-11 3-16 3 20 3-10 3 31 3-13 3 3 3-11 3 9 3-5 3 17 3-15 3 11 3-5 3 2 3-11 3 24 3-24 3 8 3-5 3 2 3-11 3 4 3-20 3 26 3-27 3 35 3-1 3 11 3-15 3 13 3-8 3 6 3-13 3 7 3-18 3 9 3-14 3 17 3-10 3 22 3-25 3 17 3-16 3 24 3-16 3 14 3-14 3 18 3-15 3 16 3-21 3 6 3-20 3 13 3-10 3 13 3-26 3 29 3-12 3 18 3-19 3 22 3-15 3 14 3-7 3 5 3-4 3 20 3-29 3 25 3-32 3 22 3-8 3-7 3-15 3-4 3-8 3 25 3-9 3 5 3 4 3 25 3-5 3-3 3-14 3 7 3-17 3 10 3-17 3-1 3-3 3 24 3-20 3 19 3 0 3 0 3-17 3 15 3-4 3 6 3-10 3 12 3-6 3 12 3-3 3 10 3-16 3 2 3-14 3 8 3-7 3 17 3 0 3 10 3-14 3 11 3-12 3 11 3-17 3 1 3-15 3 13 3-11 3 21 3-16 3 3 3-4 3 19 3-11 3 8 3-22 3 23 3-14 3 22 3-18 3 10 3-11 3 22 3-25 3 17 3-13 3 3 3-20 3 22 3-7 3 19 3-8 3-2 3-6 3 21 3-7 3 10 3-16 3 11 3-32 3 24 3-9 3 13 3-18 3 21 3-6 3 13 3-11 3 3 3-23 3 19 3-20 3 18 3-12 3 7 3-1 3 19 3-12 3-2 3-18 3 23 3-40 3 20 3-1 3 17 3-15 3 13 3-6 3 17 3-31 3 15 3-20 3 26 3-9 3 0 3-6 3 15 3-2 3 9 3-11 3 8 3-26 3 22 3-12 3 1 3-3 3 16 3-9 3 25 3-19 3 18 3-20 3 15 3-16 3 7 3-13 3 6 3-7 3 19 3-20 3 15 3-14 3 9 3-10 3 9 3-4 3 7 3-15 3 17 3-10 3 8 3-11 3 14 3-9 3 4 3-11 3 5 3-20 3 11 3-1 3 20 3-25 3 32 3-15 3 10 3-14 3 4 3-21 3 26 3-22 3 16 3-16 3 20 3-26 3 24 3-18 3 17 3-13 3 13 3-10 3 15 3 0 3 12 3-15 3 28 3-33 3 19 3-29 3 3 3-7 3 14 3-13 3 13 3-18 3 13 3 0 3 11 3-15 3 5 3-13 3 25 3-16 3 9 3 3 3 11 3-17 3 17 3-24 3 15 3-10 3 6 3-10 3 19 3-19 3 12 3-13 3 19 3-19 3 15 3-20 3 12 3-25 3 29 3-17 3 10 3-16 3 27 3-11 3 22 3-13 3 6 3-16 3 13 3-10 3 11 3-19 3 21 3-16 3 21 3-21 3 4 3-16 3 16 3-3 3 0 3-2 3 6 3-9 3 18 3-7 3 4 3-9 3 12 3-23 3 5 3-16 3 14 3-6 3 26 3-25 3 29 3-2 3 11 3-22 3 6 3-12 3 4 3-12 3 18 3-8 3 14 3-1 3 1 3-8 3 7 3-1 3 3 3-15 3 19 3-24 3 10 3-12 3 7 3-18 3 22 3-6 3 17 3-24 3 14 3-11 3 17 3-12 3 9 3-10 3 11 3-6 3 8 3-13 3 20 3-24 3 22 3-23 3 16 3-6 3 18 3-13 3 20 3-18 3 4 3-16 3 12 3-12 3 22 3-25 3 22 3-20 3 27 3-23 3 15 3-11 3 7 3-9 3 2 3-12 3 7 3 2 3-9 3-1 3 20 3-9 3 26 3-24 3 14 3-13 3 6 3-23 3 12 3-11 3 22 3-12 3 10 3-18 3 17 3-29 3 25 3-14 3 14 3-18 3 18 3-14 3 27 3-12 3 8 3-19 3 10 3-20 3 18 3-15 3 10 3 6 3 15 3-9 3 13 3-7 3 4 3-22 3 9 3-13 3 8 3-9 3 20 3-27 3 30 3-28 3 26 3-28 3 29 3-21 3 25 3-35 3-4 3 1 3 23 3-12 3 19 3-32 3 19 3 3 3 21 3-26 3 16 3-12 3 15 3-22 3 21 3-15 3 6 3 1 3-3 3-13 3 1 3-5 3 2 3-14 3 31 3-13 3 31 3-33 3 30 3-23 3 22 3-27 3 7 3-5 3 14 3-21 3 21 3-4 3 12 3-22 3 14 3-15 3 10 3-15 3 14 3-8 3 3 3 7 3 13 3-15 3 4 3-19 3 23 3-19 3 9 3-25 3 27 3-8 3 11 3-8 3 3 3-1 3 19 3-30 3 17 3-14 3 18 3-15 3 3 3-2 3 14 3-18 3 24 3-19 3 11 3-17 3 4 3-6 3 17 3-21 3 26 3-14 3 8 3-8 3 14 3-11 3 7 3-8 3 4 3-10 3 24 3-29 3 15 3-14 3 21 3-19 3 21 3-24 3 16 3-26 3 35 3-27 3 25 3-8 3 8 3-5 3 12 3-27 3 12 3-11 3 3 3-7 3 15 3-10 3 13 3-20 3 29 3-27 3 10 3-17 3 20 3-7 3 20 3-13 3 14 3-1 3 9 3-17 3 9 3-15 3-2 3-10 3 15 3 1 3 5 3-7 3 2 3-11 3 11 3-8 3 18 3-10 3 9 3-23 3 10 3-12 3 9 3-5 3 23 3-13 3 11 3-7 3 6 3-27 3 20 3-26 3 29 3-15 3 7 3 9 3 14 3-24 3 16 3-23 3 5 3-12 3 14 3-5 3 12 3-11 3 9 3 1 3 14 3-31 3 21 3-12 3 10 3-17 3 13 3-10 3 21 2-15 0-54 6 0 1 54 3 2 3 14 3-9 3 18 3-20 3 7 3-10 3 12 3-2 3 15 3-2 3-9 3-5 3 4 3-5 3 6 3-13 3 14 3-12 3 13 3-8 3 17 3-17 3 19 3-18 3 16 3-23 3 20 3-20 3 11 3-8 3 12 3-4 3 10 3-23 3 18 3-10 3-4 3-12 3 31 3-24 3 33 3-18 3 6 3-14 3 3 3-4 3 10 3-16 3 22 3-16 3 29 3-26 3 20 3-5 3 0 3-15 3 20 3-16 3 10 3-8 3 2 3-8 3 19 3-13 3 20 3-9 3 3 3-35 3 31 3-25 3 15 3-6 3 8 3-6 3 13 3 1 3 13 3-32 3 5 3-6 3 4 3-7 3 5 3-10 3 31 3-12 3 14 3-15 3 20 3-18 3 9 3-11 3 4 3-9 3 6 3-10 3 18 3-16 3 8 3 3 3-2 3-15 3 17 3-23 3 5 3 4 3 6 3-18 3 12 3 6 3 10 3-17 3 19 3-24 3 29 3-13 3 1 3-10 3 13 3-18 3 17 3-6 3 8 3-8 3 0 3-9 3 22 3-26 3 22 3-4 3 12 3-16 3 12 3-16 3 8 3-13 3 15 3-4 3 6 3-15 3 7 3-7 3 27 3-20 3-2 3-9 3 15 3-2 3 9 3-28 3 20 3-3 3 17 3-15 3 10 3-15 3 16 3-21 3 3 3-4 3 8 3-4 3 24 3-9 3 3 3-25 3 5 3-3 3 2 3-16 3 20 3-3 3 4 3-3 3 20 3-17 3 8 3-16 3 20 3-26 3 23 3-13 3 13 3-17 3 16 3-9 3 9 3-15 3 5 3-7 3 9 3-13 3 8 3-6 3 18 3-11 3 16 3-11 3 18 3-18 3 14 3-23 3 19 3-26 3 37 3-18 3 7 3-13 3 16 3-7 3 0 3-24 3 24 3-19 3 14 3-16 3 18 3-8 3 6 3-9 3 16 3-24 3 22 3-9 3 3 3-19 3 14 3-15 3 22 3-21 3 31 3-27 3 29 3-11 3 11 3-10 3 5 3-12 3 6 3-11 3 27 3-27 3 1 3-2 3 16 3-19 3 21 3-20 3 5 3 6 3 7 3-16 3 17 3-22 3 19 3-11 3 10 3-13 3 5 3 2 3-5 3 10 3 7 3-16 3-6 3 1 3 18 3-25 3 15 3-9 3 10 3-8 3 23 3-4 3-5 3-7 3 4 3-13 3 0 3-5 3 11 3-7 3 0 3-6 3 13 3-11 3 14 3-10 3 13 3-10 3 5 3-19 3 18 3-16 3 26 3-20 3 22 3-13 3 10 3-14 3 4 3-12 3 13 3-16 3 27 3 6 3-2 3-8 3 14 3-7 3 2 3-14 3 9 3-19 3 19 3-15 3 7 3-11 3 20 3 2 3 22 3-33 3 13 3-32 3 27 3-9 3 12 3-11 3 3 3-5 3 10 3-18 3 15 3-16 3 21 3-23 3 2 3-3 3 15 3-5 3 3 3 1 3 18 3-6 3 2 3-14 3 19 3-33 3 20 3-4 3-1 3 2 3 0 3-2 3 13 3-13 3 7 3-11 3 14 3-32 3 18 3-1 3 12 3-12 3 16 3-21 3 20 3-12 3 13 3-23 3 23 3 2 3 1 3-14 3 24 3-22 3 13 3-8 3 2 3-16 3 7 3-12 3 17 3-21 3 28 3-14 3 7 3 7 3 2 3-26 3 18 3-12 3 15"/>
<path stroke="#00ffff" d="M-189 21l3 14 3-22 3 4 3-18 3 23 3-27 3 15 3-15 3 22 3-25 3 22 3-13 3 17 3-15 3 13 3 6 3 10 3-23 3 11 3-21 3 23 3-24 3 11 3-5 3 14 3-21 3 15 3-22 3 18 3-4 3 10 3-4 3 15 3-11 3 4 3-9 3 4 3-20 3 22 3-18 3 21 3-21 3 21 3-16 3 9 3-5 3 9 3-7 3 9 3-24 3 25 3-22 3 27 3-23 3 18 3-2 3 13 3-19 3 23 3-17 3-2 3-11 3 7 3 15763 3-13605 3-1620 3-190 3-26 3-14 3-29 3 7 3-35 3-6 3-21 3 19 3-18 3 11 3-35 3 6 3-21 3-4 3-26 3-3 3-17 3 6 3-5 3 0 3-2 3 0 3-14 3 14 3-28 3 7 3-5 3-9 3-2 3 13 3-16 3 9 3-6 3-3 3-3 3 9 3-7 3-2 3-10 3 20 3-23 3 15 3-16 3 21 3-28 3 16 3-17 3 0 3-4 3 0 3-12 3 22 3-14 3 11 3-12 3 5 3-5 3 4 3-4 3 12 3-5 3-13 3-11 3 22 3-21 3 25 3-19 3 4 3-19 3 21 3-23 3 11 3-30 3 32 3-11 3 16 3-11 3 22 3-35 3 16 3-24 3 19 3-30 3 13 3-11 3 22 3-19 3 12 3 0 3 20 3-17 3 4 3 3 3 6 3-20 3 6 3-13 3 17 3-5 3 8 3-7 3 3 3-20 3 6 3-5 3 0 3-10 3 18 3-18 3 16 3-9 3 7 3-6 3-5 3 1 3 14 3-17 3 21 3-21 3 11 3 4 3-5 3-14 3 12 3-17 3 14 3-16 3 9 3 2 3 7 3-7 3 10 3-2 3 4 3-11 3 17 3-23 3 27 3-24 3 11 3 0 3-7 3 4 3 12 3-7 3 8 3-16 3 20 3-21 3 6 3-17 3 18 3-2 3 11 3-9 3 9 3-16 3 25 3-18 3 26 3-29 3 9 3-19 3 9 3-19 3 12 3-12 3 12 3-20 3 22 3-17 3 22 3-14 3 18 3-9 3 17 3-10 3 9 3-21 3 7 3-13 3 6 3-23 3 24 3-6 3 6 3 5 3 17 3-16 3 19 3-25 3 10 3-17 3 17 3-12 3 4 3-11 3 12 3-2 3 8 3 0 3 7 3-13 3 11 3-10 3-7 3 5 3 16 3-15 3 16 3-3 3 16 3-20 3 24 3-31 3 9 3-16 3 14 3-18 3 11 3-13 3 18 3-10 3-1 3-14 3 14 3-8 3 8 3-11 3 20 3-15 3 16 3 1 3 21 3-36 3 18 3-13 3 15 3-32 3 9 3-9 3 6 3-9 3 13 3-14 3 10 3-8 3 12 3-18 3 27 3-7 3 13 3-11 3 15 3-13 3 11 3 3 3 15 3-29 3 6 3-25 3 14 3-20 3 17 3-9 3 9 3-3 3 23 3-10 3 7 3-19 3 11 3-8 3 6 3-7 3 17 3-27 3 27 3-12 3 7 3-19 3 7 3-22 3 22 3-24 3 23 3-9 3 11 3-16 3 26 3-16 3 22 3-19 3 5 3-7 3 4 3-18 3 28 3-21 3 10 3-8 3 20 3-21 3 24 3-21 3 15 3-11 3 9 3-19 3 18 3-11 3 10 3-9 3 21 3-25 3 15 3-18 3 18 3-6 3 11 3-15 3 13 3-11 3 18 3-15 3 5 3-2 3 16 3-27 3 12 3-10 3 12 3-22 3 16 3-14 3 10 3-18 3 24 3-25 3 23 3-10 3 10 3-4 3 9 3-11 3 16 3-33 3 22 3-13 3 8 3-4 3 1 3-5 3 18 3-25 3 12 3-6 3 12 3-12 3 10 3-13 3 7 3-1 3 3 3-9 3 6 3-3 3 17 3-8 3 2 3-27 3 27 3-7 3 10 3-14 3 21 3-29 3 19 3-1 3 11 3-16 3 0 3 0 3-3 3-14 3 34 3-21 3 9 3-12 3 16 3-21 3 6 3 4 3 3 3-18 3 19 3-7 3 15 3-11 3 20 3-15 3 2 3-14 3 11 3-14 3 13 3-8 3 7 3 0 3 5 3-11 3 13 3-23 3 4 3-5 3 9 3 0 3 6 3-3 3 4 3-5 3 9 3-6 3 4 3-16 3 13 3-10 3 17 3-15 3 18 3-12 3 19 3-12 3 15 3-15 3 10 3-16 3 9 3-20 3 15 3-25 3 16 3-14 3 13 3 2 3 18 3-14 3 11 3 5 3 15 3-29 3 5 3-13 3 14 3-9 3 14 3-29 3 21 3-20 3 15 3-17 3 27 3-16 3 8 3-8 3 5 3 1 3 7 3-14 3 13 3-21 3 8 3-16 3 20 3-8 3 10 3-1 3 25 3-26 3 13 3-17 3 4 3-9 3 1 3-15 3 20 3-7 3 25 3-18 3 15 3-17 3 11 3-11 3 11 3-12 3 4 3-6 3 21 3-20 3 8 3-11 3 14 3-29 3 23 3-10 3 10 3-11 3 18 3-13 3 9 3-15 3 16 3-10 3 9 3-12 3 13 3-18 3 9 3 3 3-6 3-9 3 28 3-29 3 13 3-11 3 2 3-18 3 28 3-4 3-3 3-7 3 17 3-4 3 14 3-7 3 2 3-12 3 9 3-7 3 8 3-7 3 10 3-7 3 15 3-17 3 7 3-10 3 11 3-19 3 14 3-16 3 13 3-13 3 20 3-19 3 22 3-20 3 26 3-22 3 17 3-27 3 10 3-6 3 21 3-15 3 2 3-2 3-3 3-9 3 26 3-20 3 4 3-12 3 16 3-18 3 6 3-11 3 21 3-13 3 25 3-18 3 13 3-10 3 7 3-3 3 3 3-5 3 19 3-16 3 10 3-12 3 11 3-22 3 21 3-34 3 18 3-2 3 12 3-16 3 18 3-2 3 13 3-25 3 25 3-27 3 11 3-17 3 9 3-9 3 10 3-2 3 12 3-13 3 14 3-16 3 13 3-14 3 24 3-11 3 20 3-22 3 18 3-13 3 6 3-16 3 6 3-18 3 3 3-8 3 22 3-9 3 17 3-9 3 15 3-3 3 0 3-12 3-5 3-10 3 7 3-10 3 22 3-18 3 16 3-20 3 14 3-11 3 21 3-24 3-1 3-10 3 24 3-17 3 15 3-2 3 17 3-1 3 0 3-17 3 8 3-21 3 13 3-19 3 30 3-23 3 13 3-16 3 9 3 8 3 15 3-26 3 22 3-24 3 14 3-10 3 10 3-5 3 12 3-10 3 16 3-19 3 21 3-15 3 11 3-7 3 18 3-20 3 23 3-22 3 6 3-5 3 1 3-20 3 18 3-17 3 22 3-16 3 19 3-9 3 11 3-10 3 24 3-31 3-5 3 17 3 4 3-21 3 22 3-10 3 10 3-11 3 21 3-22 3 19 3-13 3 5 3-9 3 11 3-20 3 12 3-11 3-1 3 3 3 9 3-9 3 7 3-11 3 31 3-23 3 8 3-2 3 12 3-11 3 2 3-8 3 14 3-28 3 21 3-17 3 6 3-14 3 16 3-18 3 24 3-18 3 13 3 6 3 2 3-15 3 11 3-13 3 30 3-28 3 20 3-14 3 9 3-14 3 9 3-11 3 5 3-10 3 14 3-13 3 7 3-5 3 24 3-15 3 19 3-24 3 19 3-14 3 19 3-16 3 11 3-4 3 13 3-18 3 17 3-19 3 16 3-13 3 6 3-22 3 23 3-21 3 19 3-23 3 19 3-9 3 12 3 1 3-1 3-15 3 14 3-29 3 30 3-18 3 7 3-8 3 13 3-19 3 22 3-20 3 8 3-15 3 13 3-11 3 6 3-5 3 19 3-9 3 18 3-31 3 29 3-23 3 11 3-11 3 14 3-18 3 19 3-7 3 15 3-11 3 10 3-11 3 13 3-23 3 11 3-9 3 19 3-14 3 6 3-13 3 25 3-18 3-4 3-15 3 18 3-11 3-2 3-2 3 13 3-1 3 14 3-28 3 33 3-19 3 6 3-6 3 14 3-17 3 19 3-7 3 8 3-6 3 10 3-8 3 9 3-11 3 5 3-16 3 14 3-19 3 12 3-7 3 5 3-7 3 11 3-8 3 20 3-30 3 2 3 9 3 15 3-9 3 5 3 2 3 18 3-17 3 12 3-24 3-1 3-5 3 5 3-22 3 33 3-18 3 25 3-24 3 19 3-11 3 16 3-19 3-2 3-4 3 21 3-12 3 15 3-20 3 23 3-25 3 7 3-17 3 22 3-17 3 20 3-21 3 13 3-7 3 21 3-23 3 4 3-8 3 16 3-26 3 14 3-8 3 21 3-9 3 19 3-22 3 27 3-27 3 19 3-11 3 12 3-25 3 12 3-16 3 18 3-10 3 14 3-15 3 21 3-8 3 9 3-15 3 15 3 2 3 4 3-23 3 11 3-1 3 21 3-24 3 11 3-13 3 2 3-5 3 7 3-7 3 17 3-18 3 10 3-5 3 6 3-7 3 10 3-27 3 21 3-7 3 1 3-11 3 14 3-6 3 43 3-45 3 24 3-24 3 24 3-18 3 9 3-26 3 34 3-16 3 8 3-10 3 22 3-15 3 11 3-23 3 19 3-25 3 32 3-29 3 30 3-17 3 12 3-7 3 17 3-13 3 4 3-15 3 23 3-17 3 19 3-17 3 15 3-8 3 22 3-23 3 5 3-16 3 5 3-19 3 14 3-10 3-4 3-2 3 6 3 6 3 0 3 1 3 22 3-27 3 15 3-25 3 19 3-10 3 11 3-8 3 16 3-12 3 20 3-20 3 10 3-14 3 6 3-11 3 20 3-9 3 3 3-11 3 27 3-32 3 6 3-5 3 11 3-16 3 14 3-10 3 17 3-17 3 16 3-22 3 19 3-15 3 16 3-14 3 13 3-11 3 24 3-22 3 22 3-9 3 12 3-22 3 20 3-20 3 10 3-18 3 13 3-16 3 20 3-21 3 28 3-15 3 2 3-12 3 28 3-26 3 7 3-18 3 20 3-5 3 17 3-19 3 22 3-10 3 4 3-6 3 19 3-26 3 15 3-18 3 8 3-10 3 6 3-3 3 8 3-18 3 19 3-15 3 18 3-20 3 30 3-8 3 10 3-5 3-1 3-11 3 1 3-14 3 2 3-8 3 12 3-7 3 14 3-1 3-2 3-8 3 20 3-7 3-6 3-9 3 15 3-17 3 6 3-11 3 22 3-12 3 13 3-12 3 25 3-18 3 5 3-10 3 5 3-11 3 10 3-7 3 17 3-13 3 15 3-19 3 17 3-23 3 17 3-21 3 17 3-13 3 11 3-4 3 19 3-22 3 18 3-21 3 13 3-21 3 13 3-7 3 12 3-6 3 14 3-13 3 17 3 6 3-11 3-7 3 15 3-15 3 26 3-28 3 16 3-4 3 7 3-11 3 9 3-13 3 13 3-27 3 20 3 7 3-9 3-25 3 33 3-14 3 10 3-22 3 6 3 5 3 11 3-11 3 0 3-7 3 16 3-5 3 14 3-14 3 17 3-2 3 9 3-24 3 3 3-9 3 16 3-8 3 12 3-12 3 20 3-6 3-9 3-6 3 10 3-14 3 14 3-22 3 10 3-12 3 11 3-2 3 10 3-10 3 4 3-15 3 1 3-13 3 27 3-19 3 18 3-7 3 14 3-18 3 24 3-23 3 11 3-8 3 6 3-25 3 28 3-9 3 11 3-18 3 9 3-12 3 21 3-19 3 10 3-17 3 9 3-6 3 12 3-7 3 34 3-15 3 22 3-15 3 4 3-19 3 5 3-11 3 23 3-28 3 11 3-10 3 12 3-18 3 18 3-20 3 22 3-13 3 14 3-8 3 22 3-15 3 3 3-3 3 2 3 3 3 1 3-10 3 11 3-10 3 9 3-8 3-1 0-61 6 0 3 75 3 4 3-4 3 8 3-26 3 9 3-9 3 12 3-3 3 24 3-8 3 15 3-18 3 11 3-17 3 18 3-25 3-2 3 2 3 14 3-14 3 26 3-22 3 5 3-8 3 13 3-16 3 18 3-16 3 18 3-17 3 18 3-10 3 16 3-9 3 4 3-10 3-3 3-12 3 23 3-15 3 19 3-6 3 14 3-14 3 21 3-25 3 10 3-18 3 11 3-17 3 23 3-2 3 8 3-2 3 4 3-20 3 23 3-26 3 3 3-15 3 17 3-18 3 11 3-13 3 19 3 1 3 16 3-17 3 10 3-17 3 17 3-27 3 10 3 14 3 2 3-5 3 14 3-31 3 25 3-13 3 14 3-24 3 9 3-14 3 17 3-7 3 9 3-1 3-8 3-7 3 16 3-20 3 19 3-20 3 21 3-16 3 15 3-10 3 13 3-9 3 20 3-10 3-6 3-7 3 13 3-26 3 25 3-28 3 15 3 4 3 10 3-12 3 9 3-6 3 9 3-15 3 19 3-17 3 9 3-5 3 19 3-3 3-5 3-12 3 9 3-2 3 7 3-20 3 18 3-18 3 16 3-18 3 21 3-24 3 30 3-30 3 22 3-4 3 11 3-21 3 2 3 8 3 14 3-26 3 10 3-10 3 19 3-23 3 8 3-10 3 15 3-19 3 18 3-13 3 4 3-2 3 7 3-16 3 20 3-20 3 17 3-4 3-7 3-6 3 34 3-3 3 8 3-10 3-4 3-1 3 14 3-29 3 14 3-13 3 10 3-14 3 11 3-10 3 18 3-6 3 8 3-24 3 24 3-14 3 20 3-29 3 40 3-22 3 23 3-10 3-5 3-19 3-4 3-7 3 20 3-5 3-2 3-11 3 32 3-15 3 12 3-23 3 29 3-13 3 1 3-11 3 6 3 2 3-3 3-6 3 13 3-17 3 5 3-13 3 0 3 4 3 10 3-8 3 13 3-5 3 16 3-16 3 7 3-22 3 16 3-13 3 4 3-12 3 25 3-6 3 24 3-9 3 25 3-31 3 13 3-20 3 9 3-23 3 23 3-11 3 13 3-19 3 27 3-15 3 10 3-20 3 4 3-6 3 8 3-5 3 3 3-10 3 31 3-14 3 8 3-23 3 19 3-7 3 11 3-24 3 28 3-23 3 12 3 2 3-14 3-6 3 6 3-8 3 7 3-8 3 19 3-13 3 2 3-3 3 20 3-2 3 10 3-11 3 5 3 14 3-26 3 7 3 3 3-18 3 22 3-15 3 21 3-25 3 27 3-32 3 26 3-23 3 17 3-14 3 15 3-22 3 24 3-14 3 22 3-23 3 20 3-13 3 10 3-20 3 19 3-7 3 2 3-7 3 13 3-9 3 28 3-27 3 10 3-16 3 10 3-24 3 19 3-28 3 26 3-10 3 10 3-18 3 23 3-7 3 11 3-22 3 20 3-2 3-2 3-14 3 11 3 5 3 6 3-12 3 12 3-11 3 2 3-7 3 2 3-12 3 18 3-7 3 16 3-13 3 7 3-21 3 19 3-16 3 22 3-23 3 18 3-13 3 19 3-6 3 5 3-15 3 4 3-10 3-2 3 0 3 10 3-20 3 24 3-21 3 33 3-15 3 14 3-17 3 1 3-9 3 7 3-24 3 15 3-12 3 24 3-8 3 11 3 2 3 6 3-12 3 8 3-19 3 3 3 1"/>
<path stroke="#ff00ff" d="M-189 17l3 6 3-12 3 9 3-3 3-4 3-7 3 3 3-9 3 17 3-3 3 12 3-22 3 11 3-8 3 11 3-16 3 2 3-7 3 25 3-12 3 13 3-9 3 14 3-9 3 16 3-9 3-6 3-18 3 15 3-2 3 7 3-7 3 12 3-9 3-1 3-9 3 20 3-20 3 16 3-26 3 24 3-4 3 13 3-17 3 16 3-20 3 10 3-26 3 9 3-7 3 19 3-7 3 27 3-16 3 15 3-13 3 17 3-18 3 7 3-23 3 18 3-6 3 3 3 15727 3-13595 3-1628 3-180 3-64 3 11 3-15 3-13 3-33 3 6 3-20 3 15 3-16 3 8 3-28 3 4 3-19 3 9 3-25 3 8 3-25 3 10 3-22 3 14 3-24 3 22 3-18 3 4 3-10 3-3 3-10 3 16 3-17 3 6 3-15 3 13 3 1 3 2 3-19 3 17 3-19 3 3 3 0 3-3 3-6 3 20 3-24 3 20 3-5 3 4 3-25 3 15 3-23 3 15 3-14 3 17 3-10 3 22 3-20 3 18 3-7 3 9 3-20 3 18 3-19 3 20 3-17 3-3 3-11 3 7 3-2 3 8 3-13 3 15 3-8 3 15 3-25 3 14 3-13 3 12 3-10 3 8 3-7 3-1 3-13 3 23 3-15 3 10 3-5 3 16 3-24 3 27 3-22 3 22 3-27 3 12 3-18 3 18 3-16 3 16 3-18 3 12 3-7 3 26 3-35 3 27 3-13 3 6 3-12 3 21 3-26 3 28 3-13 3 9 3-6 3-8 3-8 3 17 3-14 3 18 3-10 3-1 3 4 3 9 3-15 3 10 3-15 3 14 3-6 3 14 3-26 3 22 3-11 3 22 3-16 3 15 3-29 3 21 3-28 3 20 3-23 3 18 3-11 3 8 3-1 3 23 3-16 3 12 3-18 3 10 3-3 3 17 3-26 3 25 3 0 3-4 3-1 3 1 3-17 3-2 3-8 3 2 3-10 3 28 3-23 3 9 3-9 3 20 3 0 3 13 3-22 3 24 3-14 3-1 3 7 3 6 3-22 3 19 3-19 3 18 3-10 3 23 3-16 3 8 3-21 3 15 3-15 3 3 3-11 3 9 3 1 3 17 3-14 3 20 3-31 3 23 3-16 3 17 3-34 3 26 3-11 3 27 3-26 3 20 3-11 3 7 3-15 3 8 3-16 3 16 3-11 3 2 3-13 3 29 3-19 3 20 3-32 3 20 3-10 3 2 3-6 3 4 3 3 3 5 3-3 3 12 3-20 3 33 3-24 3 13 3-24 3 16 3-20 3 6 3 10 3 11 3-26 3 15 3-18 3 24 3-22 3 16 3-29 3 26 3-24 3 38 3-14 3 16 3-8 3 5 3-11 3 22 3-36 3 15 3-4 3 5 3-17 3 26 3-20 3 18 3-14 3 5 3-4 3 17 3-10 3 12 3-11 3 11 3-10 3 6 3-17 3 8 3-6 3 8 3-22 3 16 3-9 3 24 3-24 3 22 3-12 3 13 3-16 3 16 3-22 3 21 3-18 3 15 3-5 3 17 3-21 3 12 3-10 3 8 3-16 3 15 3-20 3 9 3-24 3 20 3 3 3 9 3-11 3 17 3-7 3 16 3-20 3 18 3-20 3 22 3-21 3 26 3-32 3 24 3-8 3 22 3-37 3 24 3-24 3 17 3-30 3 24 3-26 3 32 3-5 3-3 3-7 3 6 3-9 3 16 3-15 3 10 3-1 3 13 3-15 3 15 3-5 3 4 3 1 3 4 3-23 3 17 3-10 3 15 3-12 3-2 3 2 3 15 3-23 3 8 3 3 3 0 3-19 3 17 3-15 3 17 3-18 3 18 3-2 3 9 3-14 3 15 3-18 3 21 3-17 3-5 3-5 3 10 3-23 3 22 3-18 3 5 3-14 3 18 3-16 3 10 3-10 3 23 3-10 3 18 3-9 3 8 3-13 3 21 3-9 3-3 3-13 3 10 3-27 3 15 3 2 3 6 3-6 3 21 3-12 3 21 3-11 3-2 3-17 3 4 3-4 3 18 3-17 3 7 3-9 3 25 3-29 3 7 3-19 3 8 3 3 3 9 3-8 3 18 3-23 3 21 3-6 3 16 3-15 3 3 3-11 3 18 3-11 3 14 3-21 3 15 3-20 3 14 3-5 3 7 3-22 3 16 3-3 3 24 3-18 3 22 3-14 3 13 3-20 3 0 3-7 3-1 3-5 3 15 3-19 3 31 3-12 3 19 3-20 3 11 3-18 3 10 3-16 3 24 3-27 3 22 3-11 3 5 3 0 3 6 3-5 3 14 3-20 3 19 3-22 3 10 3-11 3 14 3-18 3 12 3-21 3 25 3-16 3 9 3-10 3 8 3 3 3 9 3-20 3 15 3 0 3 19 3-15 3 1 3-11 3 4 3 0 3 2 3-23 3 23 3 11 3-6 3-3 3 18 3-10 3 12 3-10 3-3 3-7 3 9 3-13 3 18 3-21 3 4 3-13 3 21 3-12 3 9 3-20 3 8 3-7 3 14 3-10 3 9 3 1 3 4 3-24 3 27 3-22 3 7 3-6 3 13 3 0 3 13 3-23 3 24 3-15 3 3 3-21 3 25 3-3 3 4 3-7 3 16 3-17 3 20 3-30 3 26 3-25 3 21 3-17 3 13 3-17 3 11 3-10 3 17 3-14 3 15 3-20 3 19 3-27 3 12 3 0 3 0 3-8 3 16 3-10 3 24 3-21 3 13 3 1 3-10 3-9 3 9 3-9 3 0 3 6 3 14 3-18 3 7 3-5 3 4 3-11 3 18 3-20 3 13 3-9 3 13 3 0 3 11 3-25 3 22 3-6 3 16 3-20 3 10 3-17 3 30 3-23 3 14 3-16 3 11 3-12 3 4 3-11 3 3 3-13 3 21 3-22 3 16 3-15 3 2 3-12 3 13 3-13 3 9 3-5 3 20 3-14 3 12 3-6 3 4 3-13 3 18 3-3 3 8 3-24 3 2 3 4 3 8 3-19 3 19 3-23 3 26 3-11 3 14 3-16 3 3 3-19 3 14 3-4 3 10 3-17 3 21 3-9 3 4 3-8 3 2 3-8 3 21 3 1 3-2 3 3 3 10 3-28 3 21 3-19 3 12 3-15 3 14 3-25 3 31 3-6 3 1 3-14 3 16 3-17 3 37 3-19 3 14 3-13 3 8 3-22 3 13 3-21 3 27 3-16 3 26 3-5 3 13 3-20 3 14 3-21 3-7 3-13 3 5 3-6 3 8 3-13 3 19 3-14 3 8 3-12 3 15 3-20 3 22 3-9 3 13 3-7 3 21 3-4 3 15 3-16 3 13 3-19 3 8 3-17 3 5 3-10 3 11 3-11 3 7 3-8 3-1 3-7 3 20 3-16 3 7 3-10 3 5 3-4 3 17 3-11 3 11 3-3 3 16 3-18 3 14 3-21 3 19 3-18 3 15 3-18 3 14 3-17 3 12 3-11 3 17 3-14 3 16 3-14 3 6 3-14 3 13 3-6 3 11 3-20 3 15 3-8 3 21 3-24 3 20 3-17 3 16 3-33 3 20 3-8 3 8 3-4 3 12 3-9 3 0 3-7 3 16 3-14 3 14 3-20 3 16 3-12 3 21 3-17 3 7 3-16 3 14 3-8 3 13 3-17 3 14 3 1 3-5 3-14 3 10 3-11 3 23 3-22 3 6 3-1 3 20 3-13 3 11 3 4 3-3 3-12 3 15 3-11 3-6 3-8 3 14 3-13 3 9 3-5 3 10 3-10 3 5 3-10 3 6 3-7 3 17 3-27 3 16 3-9 3 17 3-9 3 15 3-4 3 25 3-23 3 14 3-17 3 8 3-26 3 0 3-5 3 14 3-18 3 17 3 5 3 0 3-13 3 3 3-19 3 25 3-15 3 31 3-20 3 25 3-23 3 15 3-12 3 2 3-13 3 15 3-19 3 28 3-11 3 9 3 5 3 8 3-17 3 3 3-19 3 14 3-16 3 8 3-6 3 8 3-18 3 23 3-16 3 12 3-19 3 27 3-22 3 20 3-13 3 17 3-7 3 4 3-7 3 5 3-12 3 21 3-15 3 15 3-31 3 20 3-17 3 10 3 2 3 13 3-21 3 20 3-18 3 12 3-10 3 20 3-24 3 17 3-11 3 16 3-5 3 11 3-3 3-1 3-15 3 20 3-23 3 7 3-10 3 11 3-5 3 19 3-21 3 13 3-16 3 17 3-20 3 14 3-21 3 17 3-12 3 20 3-20 3 18 3-4 3 2 3-2 3 29 3-34 3 20 3-11 3 10 3-18 3 20 3-23 3 24 3-8 3-2 3-10 3 27 3-28 3 10 3-13 3 9 3-7 3 13 3-14 3 7 3-6 3 10 3-25 3 6 3-11 3 22 3-6 3 8 3-3 3 11 3-19 3 14 3-19 3 11 3-13 3 21 3-24 3 30 3-14 3 21 3-19 3 6 3-8 3 7 3-15 3 21 3-27 3 18 3-11 3 9 3-16 3 26 3-10 3 10 3-27 3 17 3-24 3 22 3-14 3 10 3-5 3 26 3-24 3 28 3-10 3 4 3-15 3 15 3-21 3 7 3-7 3 17 3-12 3 15 3-12 3 29 3-29 3 5 3-10 3 2 3-9 3 24 3-12 3 14 3-18 3 20 3-19 3 5 3-11 3 12 3-21 3 13 3-1 3 15 3-9 3 16 3-27 3 25 3-29 3 12 3-12 3 22 3-21 3 20 3-12 3 9 3-5 3 10 3-15 3 5 3-16 3 13 3-14 3 8 3-5 3-4 3-7 3 24 3-17 3 6 3-14 3 22 3-17 3 17 3-5 3 10 3-11 3 12 3 4 3 3 3-6 3 6 3-16 3 11 3-27 3 19 3-19 3 26 3-23 3 17 3-5 3 11 3-20 3 23 3-10 3 11 3-14 3 17 3-20 3 6 3 3 3 8 3-14 3 13 3-23 3 7 3-12 3 13 3-15 3 30 3-20 3 23 3-19 3 30 3-23 3 17 3-27 3 9 3-8 3 7 3-5 3 8 3-4 3 4 3 2 3 13 3-15 3 4 3-12 3 15 3-1 3 6 3-11 3 22 3-22 3 7 3-15 3 13 3-23 3 1 3-4 3 6 3-3 3 11 3-11 3 2 3-10 3 13 3-19 3 17 3-17 3 28 3-1 3 19 3-18 3 18 3-13 3 9 3-24 3 12 3-17 3 9 3-3 3 25 3-16 3 1 3 2 3 8 3-26 3 17 3-19 3 9 3-17 3 27 3-21 3 26 3-13 3 20 3-7 3 5 3-7 3-3 3-9 3 15 3-22 3 21 3-15 3 27 3-25 3 15 3-7 3 16 3-27 3 15 3-7 3-5 3-2 3 15 3-16 3 8 3-9 3 8 3-3 3 6 3-13 3 12 3-14 3 8 3-17 3 17 3-7 3 23 3-18 3 14 3-11 3 7 3 0 3 5 3-18 3 28 3-9 3 1 3-6 3 10 3-27 3 24 3-26 3 12 3-4 3 14 3-32 3 22 3-14 3 21 3-30 3 15 3-6 3 8 3-15 3 21 3-13 3 20 3-12 3 13 3-17 3 19 3-26 3 24 3-19 3 10 3-13 3 24 3-19 3 34 3-39 3 17 3-9 3 9 3-12 3 5 3-15 3 17 3-12 3 27 3-27 3 34 3-7 3 7 3-18 3 6 3-15 3 14 3-18 3 0 3-5 3 17 3-7 3 18 3-12 3 5 3-19 3 28 3-18 3 16 3-14 3 13 3-19 3 19 3-2 3 13 3-22 3-2 3-12 3 25 3-16 3 4 3 0 3 5 3-7 3 19 3-27 3 26 3-18 3 16 3-17 3 17 3-18 3 24 3-14 3 13 3 1 3-9 3-3 3 5 3-14 3 4 3-2 3 12 3-18 3 13 3-5 3 11 3 4 3 4 3-28 3 25 3-20 3 16 3-18 3 11 3-13 3 17 2-11 0-98 6 0 1 58 3 26 3 10 3-3 3 5 3-30 3 21 3-6 3-3 3-14 3 21 3 1 3 10 3-22 3 26 3-18 3 4 3-19 3 18 3-15 3 14 3-4 3 24 3-21 3 21 3-20 3 14 3-28 3 16 3-14 3 15 3-1 3-3 3-12 3 25 3-13 3 14 3-17 3 5 3-21 3 25 3-11 3 23 3-21 3 17 3-12 3 9 3-10 3 17 3-17 3 1 3-4 3 23 3-22 3 20 3-21 3 6 3-14 3 20 3-29 3 24 3-12 3 4 3-3 3 4 3-9 3 27 3-12 3 4 3-14 3 6 3 3 3-2 3-18 3 37 3-26 3 17 3-15 3 11 3-1 3-10 3-3 3 29 3-21 3 3 3 0 3 5 3-9 3 9 3-7 3 18 3-19 3 14 3-24 3 16 3-11 3 7 3-11 3 16 3-7 3 18 3-8 3 11 3-20 3 2 3-15 3 20 3-25 3 21 3-12 3 4 3-20 3 35 3-21 3 17 3-18 3 2 3-15 3 19 3-15 3 29 3-9 3 22 3-27 3 27 3-26 3 7 3-4 3 3 3-8 3 14 3-17 3 23 3-9 3 6 3-15 3 18 3-13 3 22 3-22 3 12 3-11 3 19 3-23 3 21 3-29 3 24 3-36 3 26 3-13 3 12 3-11 3 16 3-16 3 23 3-22 3 17 3-24 3 18 3-15 3 13 3-19 3 19 3-5 3 3 3-13 3 20 3-5 3 19 3-21 3 15 3-17 3 13 3-15 3 15 3-12 3 17 3-23 3 16 3-8 3 9 3-8 3 3 3-8 3 19 3-23 3 13 3-11 3 9 3-9 3 10 3-11 3-2 3-13 3 12 3-17 3 20 3-12 3 23 3-10 3 14 3-30 3 31 3-24 3 10 3-4 3-4 3 4 3 11 3 4 3 3 3-6 3 6 3-6 3 9 3-23 3 21 3-19 3 3 3 2 3 7 3-20 3 27 3-9 3-12 3-3 3 5 3-17 3 15 3-11 3 25 3-3 3 7 3-11 3 30 3-29 3 5 3-22 3 11 3-2 3 17 3-15 3 7 3-11 3 20 3-8 3 3 3-6 3 13 3-18 3 12 3-4 3 9 3-15 3 10 3-12 3 18 3-3 3 10 3-13 3-2 3-8 3 13 3-14 3 12 3-12 3 4 3-5 3 21 3-17 3 12 3-14 3 12 3-15 3 13 3 3 3 4 3-16 3 20 3-20 3 12 3-23 3-5 3 0 3 27 3-13 3 18 3-7 3 16 3-11 3 12 3-5 3-17 3 1 3 0 3-10 3 3 3-1 3 12 3-16 3 12 3-11 3 13 3-24 3 19 3-12 3 13 3-12 3 14 3-20 3 31 3-22 3 19 3-24 3 28 3-30 3 21 3-8 3 12 3-23 3 18 3-6 3 5 3-3 3-1 3-7 3 5 3-13 3 17 3-7 3 3 3-12 3 13 3-7 3 14 3-13 3 3 3-10 3 8 3-10 3 3 3-7 3 23 3-17 3 8 3-18 3 10 3-9 3 14 3-10 3 3 3-1 3 32 3-16 3 17 3-24 3 15 3-6 3 10 3-15 3 1 3-10 3 13 3-12 3 12 3-12 3 16 3-16 3 14 3-16 3 11 3-13 3 10 3-15 3 13"/>
<path stroke="#008000" d="M-189 4l3 28 3-31 3 17 3-19 3 8 3-10 3 26 3-11 3 19 3-18 3 7 3 2 3-1 3-10 3 5 3-18 3 11 3 2 3 8 3-11 3 9 3-16 3 17 3-8 3 7 3-13 3 5 3 13 3 2 3-10 3 16 3-19 3 24 3-8 3 1 3-22 3 14 3-17 3 15 3-2 3 14 3-17 3 17 3-8 3 8 3-18 3 7 3-18 3 16 3-7 3 8 3-6 3 32 3-11 3 0 3-22 3 24 3-14 3-2 3-22 3 20 3-6 3 1 3 15627 3-13597 3-1596 3-190 3-37 3 4 3-42 3 14 3-23 3-1 3-7 3-4 3-12 3 10 3-25 3 2 3-10 3 19 3-27 3 3 3-21 3 17 3-23 3 17 3-24 3 2 3-21 3 15 3-16 3 13 3-12 3 15 3-27 3 32 3-31 3 32 3-28 3 17 3-19 3 22 3-30 3 9 3-18 3 11 3-7 3 11 3 0 3 0 3-5 3 18 3-29 3 21 3-15 3 19 3-10 3 3 3 1 3 16 3-15 3 5 3-29 3 22 3-21 3 11 3-7 3 8 3-17 3 30 3-12 3 11 3-11 3 19 3-21 3 8 3-26 3 21 3-32 3 33 3-6 3 2 3-7 3 14 3-20 3 2 3-6 3 2 3-19 3 28 3-21 3 10 3 1 3 3 3-19 3 9 3-12 3 14 3-24 3 24 3-12 3 14 3-8 3 10 3-13 3 16 3-6 3 18 3-26 3 7 3-2 3 18 3-18 3 7 3-13 3 14 3-26 3 24 3-24 3 9 3-9 3 2 3-5 3 18 3-18 3 27 3-20 3 20 3-14 3 9 3-18 3 27 3-31 3 34 3-25 3 19 3-7 3 4 3-7 3 14 3-25 3 16 3-17 3 9 3-11 3 19 3-20 3 32 3-20 3 11 3-18 3 12 3-11 3 8 3-19 3 19 3-10 3 23 3-15 3 13 3-27 3 28 3-17 3 9 3-7 3 7 3-21 3 8 3-9 3 27 3-17 3 16 3-22 3 7 3 2 3 1 3-7 3 5 3-25 3 29 3-22 3 15 3-20 3 11 3 0 3 11 3-16 3 6 3 0 3 21 3-7 3-13 3 5 3 24 3-17 3 9 3-29 3 9 3-8 3 13 3-9 3 7 3-1 3 21 3-6 3 4 3-9 3-1 3-15 3 23 3-15 3 17 3-14 3 18 3-18 3 13 3-4 3 11 3-17 3 21 3-35 3 16 3-16 3 15 3-2 3 11 3-15 3 13 3-9 3-5 3-15 3 15 3-17 3 13 3-6 3 17 3-11 3-1 3-4 3 23 3-26 3 8 3-23 3 5 3 4 3 19 3-8 3 26 3-19 3 20 3-4 3 1 3-13 3 13 3-34 3 29 3-25 3 20 3-6 3-1 3 3 3 2 3-15 3 5 3-19 3 20 3-16 3 33 3-18 3 20 3-11 3 7 3-20 3 23 3-23 3 16 3-28 3 22 3-18 3 23 3-4 3 4 3-1 3 14 3-24 3 1 3-15 3 20 3-14 3 16 3-4 3 12 3-26 3 8 3 3 3 6 3-19 3 10 3-17 3 19 3-14 3 25 3-10 3 14 3-23 3 28 3-28 3 11 3-14 3 8 3-2 3 9 3-20 3 19 3-6 3 10 3-11 3 20 3-29 3 27 3-22 3 13 3-12 3 17 3-10 3 15 3-18 3 22 3-23 3 32 3-22 3 8 3-15 3 14 3-14 3 10 3-16 3 12 3-13 3 9 3-6 3 7 3-8 3 29 3-36 3 19 3-6 3 16 3-20 3 14 3-15 3 12 3-7 3 3 3-4 3 7 3-23 3 13 3-14 3 17 3-14 3 12 3-2 3 3 3-8 3 16 3-18 3 29 3-21 3 18 3-27 3 12 3-9 3 12 3-24 3 25 3-23 3 7 3-14 3 19 3 3 3-8 3 7 3 7 3-12 3 13 3-18 3 20 3-14 3 14 3-9 3 12 3-2 3 3 3-21 3 23 3-20 3 13 3-26 3 21 3-7 3 4 3-4 3 16 3-12 3 27 3-16 3 5 3-7 3 12 3-24 3 11 3-2 3-5 3-6 3 8 3-10 3 21 3-23 3 15 3-20 3 23 3-23 3 22 3-17 3 4 3-1 3 6 3-17 3 10 3-20 3 25 3-36 3 24 3-15 3 21 3 0 3 5 3-10 3 7 3-12 3 16 3-7 3-2 3-7 3 15 3-8 3 6 3 3 3 13 3-17 3 7 3-16 3 10 3-31 3 30 3-25 3 12 3-10 3 21 3-22 3 15 3-4 3 3 3-5 3 6 3-11 3 17 3 0 3 9 3-10 3 11 3-29 3 13 3-19 3 10 3-16 3 16 3-4 3 23 3-13 3 31 3-18 3 7 3-18 3 7 3-9 3 2 3-16 3 28 3-12 3 15 3-18 3 15 3-5 3 4 3-10 3 7 3-13 3 15 3-13 3 18 3-17 3 3 3-2 3 11 3-11 3 15 3-14 3 9 3-26 3 23 3-12 3 11 3-9 3 13 3-9 3 22 3-33 3 15 3-11 3 13 3-17 3 22 3-22 3 6 3-7 3 25 3-21 3 10 3-17 3 14 3-15 3 7 3-9 3 26 3-20 3 25 3-11 3 3 3-11 3-5 3-9 3 13 3-12 3 7 3-5 3 10 3 5 3 14 3-18 3 18 3-16 3 7 3-12 3 18 3-22 3 14 3-9 3 18 3-15 3 15 3-28 3 14 3-6 3 8 3-29 3 20 3-6 3 5 3-11 3 15 3-14 3 20 3-31 3 27 3-10 3 11 3-21 3 19 3-2 3 26 3-27 3 19 3-13 3 11 3-23 3 19 3-26 3 14 3-12 3 22 3-17 3 17 3-18 3 3 3 1 3-3 3-11 3 19 3-20 3 26 3-18 3 12 3 3 3 5 3-14 3 9 3-12 3 7 3-14 3 14 3-10 3 19 3-21 3 29 3-27 3 7 3-14 3 17 3-12 3 15 3-15 3 17 3-11 3 10 3-17 3 14 3-10 3 7 3-5 3 15 3-23 3 22 3-19 3 21 3-19 3 26 3-13 3 5 3-13 3 5 3-8 3 11 3-21 3 27 3-14 3 6 3-5 3 6 3-20 3 6 3-23 3 24 3-8 3 11 3-3 3 27 3-10 3 5 3-9 3 4 3-18 3 0 3-12 3 14 3-10 3 18 3-17 3 18 3-18 3 11 3-4 3 23 3-16 3 14 3-18 3 19 3-21 3 8 3 2 3 13 3-21 3 12 3-8 3 8 3-14 3 11 3-20 3 23 3-3 3 6 3 3 3-2 3-6 3 5 3-20 3 13 3-20 3 25 3-15 3 8 3-2 3 5 3-11 3 8 3-11 3 14 3-26 3 10 3-8 3 23 3-6 3 16 3-3 3 3 3-9 3 11 3-35 3 24 3-19 3 12 3-5 3 12 3-24 3 25 3-17 3 29 3-27 3 6 3-2 3 10 3-21 3 10 3-12 3 27 3-19 3 24 3-8 3-3 3 0 3 5 3-21 3 16 3-16 3 11 3-10 3 12 3 0 3 9 3-9 3-3 3-5 3 13 3-16 3 7 3-8 3 17 3-17 3 14 3-20 3 15 3-13 3 4 3 8 3 1 3-14 3 6 3-8 3 16 3-20 3 14 3 4 3 1 3-17 3 11 3 1 3 6 3-32 3 30 3-18 3 19 3 1 3 8 3-27 3 19 3-15 3 9 3-13 3 16 3-13 3 17 3-6 3 23 3-24 3 16 3-21 3 19 3-14 3 10 3-18 3 11 3-1 3 4 3-11 3 14 3-6 3 17 3-22 3 17 3-4 3 8 3-20 3 26 3-32 3 20 3-19 3 6 3-9 3 7 3-5 3 7 3 3 3 1 3 1 3 12 3-8 3 5 3-11 3 4 3-24 3 26 3-22 3 14 3-2 3 14 3 2 3 10 3-16 3 9 3-24 3 0 3-10 3 14 3-20 3 15 3-5 3 5 3 9 3 3 3-9 3 10 3-16 3 12 3-5 3 6 3-12 3 15 3-7 3 20 3-24 3 34 3-29 3 10 3-25 3 17 3-21 3 20 3-6 3 12 3-4 3-2 3-5 3 9 3-21 3 13 3-18 3 25 3-13 3 25 3-19 3 15 3-10 3 28 3-36 3 11 3-11 3 15 3-7 3 16 3-26 3 22 3-20 3 19 3-19 3 14 3-24 3 9 3-17 3 22 3-18 3 22 3-13 3 18 3-10 3 13 3-18 3 10 3-23 3 27 3-11 3 12 3-17 3 10 3-10 3 18 3-8 3 14 3-21 3 24 3-15 3 8 3-16 3 10 3-18 3 16 3-21 3 15 3-13 3 19 3-21 3 26 3-19 3 14 3-3 3 0 3-23 3 27 3-7 3 5 3-18 3 12 3-5 3 14 3-17 3 31 3-36 3 21 3-16 3 29 3-20 3 3 3-12 3 22 3-25 3 13 3-11 3 16 3-3 3 24 3-22 3-1 3-10 3 20 3-31 3 25 3-16 3 26 3-13 3 13 3-24 3 19 3-2 3 10 3-18 3 10 3-9 3 9 3-17 3 12 3-3 3 18 3-11 3 0 3-18 3 7 3-6 3 12 3-15 3 25 3-12 3 7 3-22 3 27 3-23 3 5 3-23 3 22 3-4 3 12 3-19 3 17 3-8 3 16 3-8 3 11 3-21 3 7 3-14 3 9 3-9 3 5 3-4 3 8 3-7 3 22 3-11 3 14 3-12 3 9 3-10 3 12 3-27 3 20 3-21 3 21 3 13 3-1 3-9 3-9 3-12 3 22 3-14 3 11 3-16 3 12 3-8 3 3 3-19 3 19 3 1 3-2 3-16 3 19 3-8 3 13 3-2 3 16 3-26 3 22 3-15 3 2 3-12 3 10 3-6 3 10 3-29 3 28 3-7 3 30 3-22 3 11 3-21 3 25 3-28 3 11 3-7 3 8 3 4 3 6 3-8 3 10 3-17 3 6 3 1 3 10 3-29 3 10 3-12 3 20 3-6 3 10 3-11 3 19 3-15 3 2 3-19 3 15 3-5 3 11 3-21 3 23 3-4 3 13 3-6 3 2 3-15 3 6 3-10 3 4 3-5 3 13 3-1 3 13 3-10 3 13 3-4 3-1 3-12 3 6 3-12 3 1 3-15 3 27 3-9 3 3 3-23 3 18 3 0 3 4 3 1 3 9 3-5 3 11 3-16 3 14 3-17 3 12 3-13 3 5 3-4 3 9 3-18 3 21 3-13 3 21 3-23 3 21 3-11 3 14 3-12 3-13 3 11 3 16 3-23 3 9 3-19 3 33 3-8 3 1 3-19 3 10 3-6 3 7 3-20 3 12 3-18 3 20 3-16 3 18 3-9 3 7 3-8 3 25 3-27 3 24 3-24 3 18 3-11 3 11 3-6 3 1 3-8 3 8 3-6 3 11 3-9 3 8 3-10 3 19 3-14 3 11 3-22 3 18 3-18 3 1 3-12 3 22 3-15 3 11 3-25 3 28 3-20 3 13 3-4 3 15 3-21 3 13 3-14 3 3 3-11 3 10 3 0 3 20 3-9 3 12 3-15 3 13 3-14 3 5 3-8 3 11 3-1 3 5 3-2 3 9 3-14 3 14 3-20 3 8 3-1 3 9 3-5 3-2 3-1 3 10 3-19 3 12 3-1 3 0 3-10 3 11 3-15 3 12 3-26 3 22 3-3 3 20 3 0 3 15 3-25 3 0 3-5 3 30 3-42 3 16 3-19 3 18 3-6 3 10 3-16 3 13 3-13 3 25 3-20 3 22 3-19 3 4 3-8 3 12 3-26 3 2 3-14 3 27 3-18 3 29 3-12 3 9 3-9 3 22 3-19 3 33 3-23 3 5 3-16 3 10 3-22 3 11 3 9 3-4 3-20 3 19 3-13 3 32 3-26 3 13 3-13 3 3 3-3 3 8 3-8 3 15 3-7 3 20 3-28 3 23 3-29 3 32 3-26 3 13 3-22 3 17 3-2 0-819 2 1 1 393 3 310 3 58 3-3 3 28 3-20 3 18 3-13 3 7 3-2 3 17 3-24 3 11 3-9 3 5 3-9 3 12 3-19 3 21 3-1 3 12 3-15 3 9 3-4 3 7 3-8 3 9 3-6 3 17 3-16 3 20 3 0 3 10 3-5 3 16 3-15 3 15 3-33 3 23 3-6 3 2 3 7 3 5 3-14 3 8 3 2 3 14 3-26 3 18 3-16 3 11 3-26 3 27 3-12 3 9 3-8 3 7 3 1 3-2 3-11 3 19 3-10 3 12 3-20 3 19 3-12 3 13 3-24 3 35 3-18 3 16 3-23 3 17 3-29 3 21 3-14 3 9 3-9 3 20 3-11 3 7 3-8 3 13 3-12 3 13 3-24 3 26 3-13 3 2 3-5 3 21 3-19 3 2 3-2 3 14 3-17 3 21 3-21 3 5 3-18 3 31 3-17 3 25 3-29 3 16 3-21 3 11 3-18 3 13 3-10 3 21 3 4 3 9 3-20 3 22 3-30 3 20 3-17 3 14 3-20 3 12 3-4 3 19 3-23 3 5 3 4 3 6 3 0 3-7 3-5 3 29 3-13 3 17 3-24 3 22 3-5 3 8 3-35 3 16 3-23 3 22 3-5 3 5 3-6 3 10 3-7 3 13 3-16 3 16 3-9 3-4 3-6 3 19 3-12 3 8 3-16 3 26 3-26 3 16 3-14 3 20 3-20 3 4 3 5 3 5 3-25 3 36 3-22 3 11 3-5 3 9 3-35 3 27 3-11 3 7 3-16 3 11 3 1 3 25 3-12 3 3 3-8 3 6 3-30 3 23 3-30 3 9 3-10 3 26 3-9 3 26 3-21 3 10 3-27 3 27 3-25 3 14 3-7 3 3 3 10 3 7 3-4 3 16 3-33 3 12 3-13 3 8 3-10 3 12 3-4 3 24 3-15 3 18 3-13 3 17 3-19 3 16 3-19 3 22 3-33 3 17 3 4 3 23 3-30 3 7 3-3 3 12 3-29 3 12 3-4 3-9 3 6 3-3 3-14 3 22 3-7 3 8 3 1 3 2 3-23 3 17 3-12 3 19 3-23 3 20 3-6 3 14 3-23 3 22 3-3 3 11 3-18 3 17 3-7 3 10 3-21 3 23 3-23 3 17 3-20 3 8 3-25 3 28 3-13 3 11 3 4 3 11 3-16 3 7 3-6 3 3 3-10 3 3 3-2 3-1 3-6 3 12 3-9 3 14 3-15 3 5 3-7 3 14 3-21 3 24 3-26 3 22 3-17 3 23 3-7 3 14 3-17 3 8 3-16 3 14 3-13 3 19 3-22 3 13 3-13 3 17 3-9 3 11 3-12 3 21 3-17 3-2 3-7 3 13 3-16 3 21 3-5 3 17 3-24 3 30 3-31 3 21 3-13 3 7 3-20 3 20 3-17 3 9 3 0 3 15 3-2 3 5 3-23 3 12 3-16 3 5 3-1 3 5 3-15 3 16 3-12 3 19 3-19 3 19 3-12 3-1 3-5 3 16 3-2 3 9 3-16 3 9 3-11 3 12 3-9 3 15 3-27 3 13 3-9 3 12 3-11 3 15 3-12 3 20 3-19 3 6 3-13 3 29 3-26 3 13 3-3"/>
<path stroke="#808000" d="M-189 7l3 9 3 2 3 13 3-8 3 6 3-12 3 17 3-22 3 9 3-6 3 7 3-22 3 5 3-22 3 19 3-3 3 12 3-15 3 18 3-5 3 11 3-23 3 10 3-8 3 6 3-13 3 23 3-21 3 23 3-8 3 7 3-9 3 13 3-13 3 23 3-18 3-4 3-5 3 17 3-16 3-3 3 1 3 18 3-14 3-1 3-18 3 16 3-14 3 12 3-4 3 14 3-2 3 8 3-7 3 15 3 10 3-21 3-6 3 32 3-40 3 11 3-9 3 19 3 15504 3-13583 3-1608 3-174 3-54 3 6 3-28 3 6 3-23 3 7 3 2 3 7 3-27 3 13 3 2 3 5 3-21 3 14 3-18 3 21 3-16 3 12 3-2 3 8 3-19 3 6 3-9 3 4 3-26 3 14 3-5 3 21 3 4 3 2 3-11 3 16 3-11 3 12 3-10 3-1 3-11 3 9 3-14 3 9 3-2 3 9 3 1 3 8 3-18 3 18 3-18 3 11 3-19 3 19 3-18 3 16 3-25 3 14 3 6 3 2 3-23 3 22 3-18 3 18 3-15 3 22 3-27 3 26 3-19 3 25 3-25 3 11 3-19 3 4 3-1 3 10 3-6 3 19 3-7 3 16 3-22 3 13 3-19 3 10 3-10 3 7 3-17 3 17 3-6 3 19 3-21 3 11 3-8 3 10 3-21 3 9 3 5 3 20 3-10 3 1 3-19 3 14 3-18 3 16 3-18 3 22 3-22 3 24 3-24 3 28 3-14 3-4 3-5 3 17 3-21 3 7 3-7 3 15 3-15 3 31 3-25 3 26 3-25 3 18 3-11 3 12 3-21 3 16 3-17 3 2 3-13 3 24 3 0 3 8 3-8 3 16 3-19 3 6 3-14 3 14 3-4 3 3 3-26 3 25 3-7 3 13 3-24 3 15 3-18 3 22 3-19 3 10 3-6 3-4 3-2 3 10 3-11 3 33 3-24 3 18 3-6 3 9 3-17 3 6 3 3 3 13 3-19 3 11 3-20 3 14 3-2 3-3 3-8 3 14 3-14 3 16 3-11 3 6 3 8 3 3 3-20 3 11 3-10 3 21 3-15 3 7 3-17 3 16 3-14 3 7 3-9 3 22 3-27 3 34 3-36 3 18 3-7 3 14 3-15 3 5 3 6 3 0 3 0 3 6 3-15 3 5 3-10 3 2 3-3 3 18 3-18 3 27 3-26 3 20 3 1 3 3 3-28 3 23 3-27 3 6 3-14 3 28 3-30 3 18 3-15 3 27 3-21 3 10 3-9 3 25 3-21 3 29 3-24 3 24 3-11 3 14 3-17 3 10 3-13 3 22 3-28 3 1 3-18 3 22 3-24 3 14 3-8 3 15 3-8 3 7 3-10 3 18 3-18 3 22 3-18 3 20 3-8 3-7 3-13 3 24 3-16 3 0 3-4 3 8 3-15 3 23 3-14 3 14 3-6 3 8 3-17 3 13 3-18 3 8 3-14 3 24 3-17 3 16 3-20 3 25 3-12 3 6 3-10 3 2 3-12 3 20 3-20 3 18 3-13 3 20 3-14 3 7 3-11 3 14 3-27 3 12 3-8 3 18 3-11 3 8 3-10 3 29 3-14 3 13 3-13 3 11 3-23 3 25 3-20 3 12 3-1 3 12 3-21 3 17 3-14 3 9 3-19 3 13 3-5 3 11 3-18 3 9 3 1 3 13 3-27 3 20 3-12 3 4 3-14 3 15 3-5 3 8 3-12 3 13 3-8 3 22 3-17 3 6 3-17 3 20 3-15 3 18 3-8 3 1 3 0 3 12 3-15 3 6 3-11 3 8 3-27 3 25 3-19 3 14 3-2 3 10 3 5 3 5 3-16 3 15 3-30 3 8 3-15 3 16 3-5 3 22 3-13 3 13 3-14 3 12 3-12 3 16 3-5 3-3 3-15 3 21 3-21 3 20 3 0 3 5 3-9 3 3 3-10 3 11 3-19 3 10 3-19 3 12 3-1 3 0 3-5 3 6 3-12 3 25 3-17 3 12 3-19 3 28 3-24 3 14 3-9 3 10 3-8 3 8 3-17 3 13 3-4 3 2 3-11 3 15 3 6 3 14 3-14 3 16 3-16 3 11 3-18 3 4 3-12 3 19 3-12 3 0 3-2 3 0 3 6 3 1 3-10 3 13 3-17 3-3 3 2 3 14 3-14 3 20 3 3 3 4 3-21 3 17 3-7 3 12 3-15 3 10 3-10 3 22 3-3 3 8 3-28 3 10 3-20 3 14 3 0 3-1 3-9 3 17 3-21 3 16 3-8 3 16 3-10 3 10 3-12 3 5 3-20 3 23 3-15 3 18 3-28 3 19 3-15 3 21 3-19 3 13 3-22 3 12 3-7 3 2 3 3 3 20 3-12 3 15 3-5 3 1 3-10 3 4 3-20 3 25 3-9 3-5 3 1 3 4 3-10 3 12 3-16 3 9 3-14 3 14 3-6 3 7 3-6 3 19 3-9 3 6 3-10 3 15 3-16 3 1 3 2 3 2 3-2 3 4 3-11 3 31 3-27 3 4 3-10 3 22 3-22 3 13 3-7 3-1 3-21 3 26 3-11 3 19 3-11 3 8 3-2 3 13 3-20 3 12 3-7 3 6 3 6 3 0 3-15 3 13 3-13 3 15 3-29 3 13 3-20 3 16 3-13 3 14 3 3 3 24 3-28 3 4 3-11 3 1 3-11 3 11 3-14 3 17 3 3 3 18 3-10 3 9 3-6 3 4 3-4 3 13 3-29 3 15 3-1 3 0 3 4 3 4 3-12 3 12 3-20 3 11 3-13 3 10 3-12 3 11 3-9 3 27 3-11 3 11 3-20 3 14 3-5 3 2 3-7 3 16 3-25 3 12 3 3 3 6 3-5 3 0 3-14 3 13 3-10 3 17 3-32 3 11 3 0 3 9 3-3 3 12 3-18 3 14 3-7 3 8 3-19 3 19 3-17 3 13 3-26 3 20 3-1 3 5 3-8 3 10 3-22 3 17 3-9 3 2 3-8 3 4 3 2 3 19 3-20 3 14 3-12 3 3 3-8 3 7 3-9 3 32 3-33 3 10 3-4 3 18 3-19 3 13 3-22 3 17 3 4 3 10 3-20 3 19 3-9 3 3 3-24 3 9 3-15 3 4 3-7 3 13 3-5 3 18 3-16 3 30 3-12 3-5 3 11 3-4 3-4 3 11 3-21 3 9 3-5 3 7 3-13 3 14 3-12 3 18 3 0 3 3 3-9 3-8 3-7 3 21 3-13 3 14 3-7 3 17 3-14 3 5 3-16 3 20 3-20 3 3 3-10 3 22 3-22 3 21 3-22 3 20 3-16 3 1 3 2 3 9 3-8 3 13 3-11 3 21 3-22 3 16 3-10 3 13 3-18 3 2 3-5 3 11 3-14 3 14 3-17 3 30 3-17 3 3 3-3 3 12 3-22 3 14 3-5 3 4 3-1 3 8 3-7 3 13 3-31 3 25 3-20 3 17 3-12 3 17 3-12 3 13 3-12 3 0 3 3 3-5 3-6 3-1 3-6 3 7 3-8 3 16 3-8 3-1 3-4 3 18 3-8 3 9 3-10 3 12 3-7 3-2 3-12 3 19 3-24 3 21 3-7 3 3 3-7 3 14 3-14 3 7 3-14 3 18 3-16 3 13 3-11 3 8 3-5 3 15 3-4 3 1 3-20 3 17 3-15 3 21 3-24 3 17 3-13 3 31 3-35 3 16 3-9 3 12 3-24 3 16 3-3 3 4 3-1 3 27 3-23 3 25 3-15 3 13 3-20 3 13 3-19 3 14 3-18 3 19 3-19 3 6 3-3 3 11 3-26 3 19 3-25 3 15 3-10 3 19 3-1 3 1 3 9 3-2 3-12 3-3 3-1 3 9 3-20 3 15 3-17 3 27 3-5 3 6 3-17 3 23 3-34 3 32 3-22 3 18 3-5 3 10 3-13 3 15 3-18 3 21 3-14 3 8 3-23 3 12 3-12 3 8 3-2 3 10 3-17 3 18 3-25 3 25 3-21 3 19 3-17 3 30 3-13 3 12 3-17 3 13 3-18 3 22 3-26 3 14 3-8 3 8 3-9 3 15 3-15 3 22 3-19 3 14 3-17 3 12 3-8 3 3 3-5 3 5 3-5 3 8 3-7 3 14 3-13 3 28 3-14 3 13 3-23 3 12 3-21 3 11 3-20 3 24 3-8 3 10 3-8 3 14 3-20 3 11 3-9 3 6 3-2 3 8 3-1 3 13 3-14 3 7 3-5 3 14 3-18 3-3 3-15 3 14 3-13 3 25 3-13 3 12 3-11 3 3 3-12 3 4 3-15 3 7 3-21 3 26 3-3 3 13 3-19 3 25 3-12 3 12 3-22 3 27 3-25 3 15 3-11 3 14 3-19 3 8 3-11 3 24 3-25 3 19 3-19 3 12 3-26 3 29 3-12 3 18 3-16 3 40 3-25 3 6 3-16 3 13 3-7 3 8 3-10 3 11 3-19 3 16 3-25 3 13 3-19 3 12 3-8 3 27 3-17 3 21 3-20 3 22 3-28 3 27 3-5 3 5 3-15 3 2 3-8 3 21 3-15 3 14 3-15 3 15 3-13 3 13 3-14 3 12 3-19 3 12 3-16 3 13 3-1 3 7 3 1 3 20 3-13 3 7 3-20 3 6 3-12 3 17 3-18 3 16 3-21 3 21 3-7 3 17 3-15 3 18 3-21 3 18 3-17 3 13 3-10 3 3 3-7 3 16 3-5 3 2 3 10 3-5 3-34 3 34 3-28 3 18 3-8 3 3 3-2 3 18 3-12 3-6 3-9 3 1 3-16 3 20 3-10 3 25 3-16 3 19 3-15 3 9 3-7 3 4 3-14 3 9 3-15 3 18 3-14 3 18 3-12 3 16 3-18 3 14 3-11 3 8 3-18 3 28 3-22 3 11 3-2 3 9 3-5 3 28 3-27 3 12 3-15 3 10 3-15 3-3 3-7 3 22 3-14 3 8 3 7 3-7 3 1 3 12 3-14 3 7 3-18 3 17 3-7 3 0 3-1 3 20 3-17 3 15 3-25 3 18 3-4 3-2 3-9 3 18 3-11 3 20 3-23 3 21 3-20 3 12 3-22 3 21 3-15 3 14 3-11 3 15 3-22 3 15 3-25 3 15 3-15 3 10 3-18 3 3 3 1 3 14 3-12 3 23 3-6 3 18 3-11 3 5 3-25 3 18 3-18 3 21 3-12 3 24 3-22 3 19 3-23 3 26 3-21 3 14 3-10 3 10 3-18 3 14 3-12 3 31 3-30 3 9 3-27 3 27 3-14 3 23 3-37 3 27 3-17 3 24 3-8 3 11 3-22 3 10 3-13 3 10 3-16 3 14 3-11 3 3 3 6 3 11 3-10 3 15 3-11 3 25 3-30 3 17 3-28 3 29 3-20 3 11 3-11 3 14 3-16 3 14 3-20 3 17 3-18 3 22 3-22 3 17 3-4 3 15 3-10 3 5 3-5 3 7 3-15 3 14 3-17 3 10 3-5 3 15 3-24 3 9 3-13 3 21 3-15 3 17 3-24 3 16 3 2 3 0 3-11 3 18 3-28 3 24 3-13 3 17 3-14 3 9 3-19 3 18 3-20 3 18 3-17 3 26 3-20 3 32 3-18 3-3 3-14 3 17 3-5 3 11 3-5 3 12 3-11 3 13 3-14 3 10 3-27 3 18 3-13 3 16 3-11 3 20 3-20 3 21 3-18 3 19 3-20 3 3 3-14 3 21 3-23 3 18 3-6 3 11 3-5 3 10 3-11 3 10 3-10 3 6 3-11 3 4 3-17 3 13 3-4 3 15 3-8 3 12 3-15 3 1 3-1 3 5 3-12 3 19 3-30 3 24 3-2 3 0 3-3 3 16 3-14 3 13 3-8 3 6 3-22 3 13 3-11 3 15 3-25 3 36 3-27 3 22 3-11 3 4 3-12 3 13 3-16 3 11 3 0 3 16 3-20 3 7 3-10 3 7 3-22 3 12 3-16 3 25 3-8 3 9 3-3 3 17 3-18 3 9 3-12 3 13 3-24 3 22 3-19 3-2 2 14 0-1045 5 0 2 664 3 300 3 70 3-7 3 19 3-15 3 7 3-8 3 11 3-6 3 7 3-9 3 8 3-4 3 11 3-17 3 16 3-13 3 8 3-18 3 12 3-12 3 16 3-13 3 20 3-15 3 13 3-24 3 15 3-8 3 2 3 1 3-1 3-1 3 10 3-14 3 7 3-13 3 24 3-38 3 15 3-2 3 16 3-17 3 3 3-2 3 21 3-24 3 15 3-4 3 11 3-17 3 19 3-2 3 10 3-28 3 12 3-8 3 2 3-11 3 15 3-21 3 21 3-3 3-1 3-1 3 23 3-35 3 21 3-4 3 2 3-20 3 18 3-8 3 4 3-3 3 3 3-4 3 25 3-20 3 9 3-14 3 2 3-5 3 9 3-9 3 19 3-20 3 16 3-3 3 4 3-16 3 18 3-23 3 11 3-3 3 10 3-17 3 34 3-18 3 18 3-13 3 6 3-21 3 20 3-16 3 16 3-13 3 13 3-6 3 14 3-9 3 0 3-21 3 9 3-5 3-3 3-5 3 5 3 8 3 16 3-9 3 19 3-23 3 11 3-20 3 14 3-25 3 31 3-22 3 16 3-13 3 19 3-18 3 17 3-19 3 13 3-1 3 12 3-30 3 17 3-6 3 11 3-2 3 1 3-11 3 12 3-14 3 18 3-21 3 18 3-8 3 12 3-5 3 14 3-18 3 23 3-24 3 20 3-25 3 16 3-25 3 27 3-29 3 10 3-8 3 27 3-9 3 0 3-2 3 16 3-19 3 17 3-21 3 24 3-8 3 10 3-9 3 17 3-10 3 2 3-27 3 10 3-16 3 12 3-19 3 23 3-11 3 15 3-10 3 1 3-16 3 24 3-22 3 6 3-9 3 22 3-23 3 26 3 1 3-3 3 8 3-6 3-6 3 10 3-27 3 17 3 8 3-10 3-7 3 16 3-21 3 21 3-29 3 13 3-8 3 16 3-15 3 16 3-4 3 15 3-20 3 24 3-27 3 10 3-12 3 5 3-15 3 24 3-19 3 36 3-29 3 14 3-5 3 17 3-18 3 13 3-22 3 26 3-21 3 6 3 3 3 4 3-12 3 21 3-14 3 16 3-27 3 33 3-18 3 11 3-30 3 35 3-20 3 16 3-15 3 20 3-15 3 14 3-14 3 1 3-12 3 26 3-19 3 17 3-16 3 23 3-19 3 21 3-24 3 22 3-28 3 12 3-23 3 14 3-7 3 6 3-12 3 18 3-22 3 18 3-20 3 21 3-15 3 8 3-2 3 5 3 0 3 9 3-10 3 20 3-22 3 19 3-12 3 10 3-24 3 25 3-10 3 17 3-19 3 18 3-22 3 11 3-13 3 14 3-23 3 19 3-12 3 12 3-7 3 12 3-10 3 15 3-25 3 7 3-20 3 19 3-22 3 16 3-4 3 13 3-13 3 22 3-7 3 6 3-13 3 17 3-13 3 18 3-15 3 7 3-17 3 24 3-17 3 14 3-6 3 11 3-13 3-1 3-9 3 10 3-9 3 20 3-20 3 14 3-1 3 4 3-20 3 13 3-11 3 10 3-25 3 23 3 1 3 7"/>
<path stroke="#000080" d="M-192-6l3 27 3-28 3 18 3-17 3 10 3-9 3 6 3-28 3 17 3-7 3 17 3-5 3 14 3-19 3 27 3-4 3 5 3-22 3 26 3-24 3 26 3-14 3 13 3-13 3 19 3-11 3 13 3-16 3 10 3-17 3-2 3-19 3 19 3-20 3 15 3-7 3 24 3-10 3 4 3-14 3 8 3-8 3 22 3-12 3 17 3-22 3 23 3-13 3 9 3-2 3-2 3-21 3 23 3-12 3 8 3-13 3 12 3-17 3 32 3-27 3 24 3-8 3 8 3-24 3 24 3-28 3 18 3-12 3 20 3-29 3 23 3-13 3-8 3-10 3 12 3-18 3 18 3-12 3 23 3-6 3 9 3-11 3 30 3-24 3 10 3-31 3 30 3-27 3 11 3 0 3 13 3-21 3 26 3-13 3 7 3-13 3 18 3-22 3 15 3-24 3 17 3-10 3 8 3-2 3 15 3-18 3 15 3-13 3 6 3-12 3 22 3-15 3 13 3-9 3 29 3-15 3 1 3-3 3 16 3-29 3 7 3-20 3 31 3-16 3 6 3-2 3 20 3-18 3 21 3-15 3 6 3-25 3 18 3-7 3 12 3-17 3 16 3-11 3 3 3-7 3-1 3-5 3 8 3-4 3 3 3-9 3 14 3-8 3 3 3-10 3 22 3-8 3 0 3-9 3 22 3-19 3 18 3-9 3 5 3-8 3 10 3-14 3 6 3-27 3 30 3-16 3 13 3-14 3 17 3-9 3 17 3-15 3 10 3-20 3 4 3-2 3 8 3-2 3 13 3-21 3 22 3-3 3-2 3-9 3 10 3-12 3 6 3-11 3 4 3-3 3 6 3-5 3 23 3-7 3 9 3-11 3 11 3-29 3 13 3-4 3 7 3-4 3 28 3-24 3 9 3-15 3 8 3-24 3 13 3-13 3 2 3-7 3 14 3 1 3 7 3-1 3 8 3-10 3 13 3-19 3 17 3-19 3 19 3-11 3 16 3-6 3 2 3-7 3 0 3-17 3 3 3-13 3 31 3-13 3 15 3 8 3 9 3-20 3 7 3-12 3 13 3-21 3 12 3-10 3 8 3-13 3 17 3-12 3 11 3-11 3 4 3-6 3 20 3-13 3 5 3-7 3 14 3-5 3 18 3-18 3 7 3-20 3 11 3-5 3 6 3-15 3 2 3-5 3 19 3-3 3 9 3-6 3 11 3-28 3 28 3-21 3 13 3-20 3 9 3-1 3 19 3-24 3 17 3-15 3 29 3-22 3 16 3-16 3 16 3 1 3 5 3-6 3 4 3-8 3 1 3-12 3 6 3-20 3 20 3-22 3 16 3-6 3 13 3-11 3 7 3-11 3 4 3-17 3 10 3-3 3 1 3 1 3 24 3-22 3 24 3-22 3 19 3-22 3 9 3-17 3 23 3-19 3 20 3 2 3 13 3-20 3 21 3-14 3 1 3-10 3 11 3-14 3 18 3-23 3 19 3-9 3 9 3-15 3 10 3-18 3 10 3-8 3 11 3-27 3 33 3-10 3 13 3-12 3 10 3-3 3 8 3-18 3 14 3-22 3 15 3 6 3 3 3-18 3 25 3-20 3 11 3-10 3-7 3-11 3 11 3-16 3 33 3-10 3 19 3-23 3 18 3-9 3 5 3-11 3 23 3-36 3 24 3-9 3 11 3-10 3 0 3-7 3 20 3-17 3 7 3-9 3 20 3-29 3 20 3-15 3 11 3-15 3 31 3-6 3 7 3-25 3 15 3-19 3 21 3-20 3 30 3-27 3 29 3-21 3 4 3-17 3 17 3-12 3 0 3-13 3 18 3-9 3 22 3-29 3 25 3-10 3 14 3-22 3 9 3-14 3-3 3-7 3 27 3-23 3 22 3-8 3 14 3-21 3 18 3-12 3 16 3-13 3 7 3 5 3 18 3-20 3 10 3-9 3 7 3-7 3-11 3-11 3 9 3-22 3 23 3 1 3 9 3-3 3 17 3-17 3 11 3-2 3 2 3-7 3 9 3-21 3 15 3 6 3 6 3-23 3 13 3-15 3 11 3-18 3 11 3-12 3 10 3-9 3 14 3-4 3 25 3-26 3 7 3-13 3 11 3-18 3 21 3-7 3 10 3-3 3 17 3-39 3 25 3-6 3 10 3-23 3 9 3-9 3 14 3-13 3 26 3-32 3 16 3-11 3 14 3-3 3-1 3-19 3 21 3-19 3 17 3-6 3 11 3-16 3 2 3-5 3 3 3-8 3 13 3-14 3 8 3-12 3 23 3-14 3 12 3-8 3 16 3-27 3 20 3-13 3 18 3-17 3 26 3-29 3 21 3-2 3 5 3-18 3 14 3-23 3 20 3-10 3 9 3-19 3 18 3-14 3 20 3-17 3 25 3-14 3 6 3-8 3 24 3-17 3 12 3 1 3-6 3-7 3 28 3-19 3-2 3-21 3 10 3-3 3 3 3 3 3 2 3-19 3 15 3 0 3 5 3-25 3 18 3-11 3 12 3-13 3 15 3-18 3 11 3-6 3 12 3-9 3 11 3-15 3 10 3-5 3 13 3-24 3 21 3-25 3 24 3-6 3 5 3 3 3 2 3-16 3 18 3-13 3 15 3-25 3 19 3-28 3 31 3-21 3 21 3-20 3 21 3-20 3 34 3-28 3 13 3-23 3 17 3-16 3 16 3-12 3 23 3-19 3 26 3-22 3 11 3-13 3 13 3-4 3 4 3-13 3 2 3-11 3 11 3-23 3 10 3-8 3 11 3 9 3 9 3-13 3 13 3 0 3-4 3-10 3 24 3-18 3 8 3-14 3 23 3-13 3 19 3-18 3 2 3-15 3 8 3-17 3 5 3-3 3 13 3 7 3-4 3-6 3 8 3-12 3 20 3-21 3 12 3-17 3 13 3-9 3 18 3-7 3 15 3-15 3 20 3-16 3 12 3-10 3 1 3-3 3 0 3-1 3-1 3 5 3 8 3-34 3 18 3-11 3 10 3-12 3 19 3-6 3 12 3-15 3 20 3-17 3 9 3-9 3 6 3-27 3 33 3-19 3 5 3-12 3 13 3-2 3 15 3-11 3 8 3-20 3 15 3-11 3 4 3-12 3 30 3-13 3 15 3-9 3 6 3-20 3 13 3-16 3 10 3-8 3 21 3-20 3 34 3-22 3 7 3-22 3 14 3-7 3 13 3-22 3 13 3-16 3 23 3-8 3 25 3-23 3 18 3-13 3-1 3 3 3-3 3-13 3 26 3-18 3 7 3-5 3 18 3-19 3 11 3-20 3 13 3-7 3 4 3-5 3 0 3-1 3 4 3-4 3 19 3-21 3 18 3-28 3 18 3-12 3 9 3-3 3 11 3-18 3 24 3-21 3 8 3-14 3 6 3-19 3 35 3-7 3 0 3-11 3 22 3-3 3 7 3-14 3 13 3-15 3 1 3-13 3 18 3-19 3 31 3-28 3 28 3-19 3 11 3-17 3 12 3-1 3 3 3-13 3 9 3-8 3 9 3-13 3 14 3-11 3 4 3-11 3 9 3-17 3 11 3 6 3 10 3-14 3 15 3-6 3 13 3-28 3 21 3-15 3 15 3-13 3 0 3-14 3 14 3-11 3 23 3-24 3 19 3-27 3 27 3-6 3 0 3-10 3 16 3-11 3 17 3-22 3 25 3-24 3 6 3-4 3 10 3-7 3 23 3-21 3 10 3-15 3 3 3-9 3 22 3-21 3 3 3 1 3 6 3-10 3 9 3-16 3 26 3-4 3 6 3-15 3 9 3-11 3 12 3-22 3 7 3-13 3 20 3-13 3 14 3-13 3 4 3 1 3 13 3-22 3 20 3-17 3 21 3-9 3 14 3-16 3 18 3-10 3 0 3-15 3 5 3-14 3 13 3-13 3 18 3-10 3 16 3-8 3 4 3-17 3 13 3-16 3 21 3-14 3 17 3-2 3 6 3-7 3 17 3-6 3-9 3-4 3 4 3-5 3 14 3-26 3 16 3-1 3 11 3-8 3 8 3-1 3 10 3-21 3 23 3-32 3 15 3-13 3 13 3-15 3 15 3-18 3 33 3-19 3 1 3-2 3 5 3-14 3 26 3-18 3 15 3-26 3 13 3-15 3 21 3-11 3 8 3-26 3 15 3-6 3 11 3-2 3 17 3-25 3 17 3-19 3 12 3-2 3 10 3-14 3 16 3-11 3 11 3-16 3 10 3-21 3 27 3-27 3 20 3-15 3 29 3-25 3 21 3-13 3 14 3-22 3 16 3-5 3 6 3-15 3 12 3-20 3 18 3-12 3 26 3-12 3 8 3-24 3 11 3 5 3-7 3-16 3 24 3-14 3 11 3-1 3 5 3-10 3 15 3-26 3 18 3-13 3 10 3-22 3 12 3-9 3 18 3-5 3 7 3-3 3 7 3-5 3 3 3-21 3 32 3-8 3 11 3-17 3 12 3 3 3 17 3-24 3 6 3-7 3 14 3-29 3 9 3-17 3 20 3-11 3 11 3-22 3 7 3-21 3 20 3-8 3 27 3-24 3 23 3-17 3 15 3-7 3 9 3-18 3 22 3-27 3 18 3-2 3 0 3-11 3 15 3-15 3 11 3-12 3 14 3-23 3 22 3-8 3 7 3-14 3 32 3-17 3 9 3-21 3 13 3-8 3-1 3-15 3 17 3-17 3 24 3-15 3 20 3-5 3 25 3-8 3-1 3-19 3 9 3-12 3 15 3-13 3-7 3-5 3 19 3-7 3 15 3-13 3 7 3-25 3 13 3-10 3 5 3-1 3 20 3-11 3 4 3 0 3 8 3-19 3 14 3-18 3 11 3-24 3 9 3-6 3 19 3-18 3 16 3-24 3 23 3-8 3 8 3-21 3 21 3-1 3 15 3-18 3 5 3-6 3 18 3-23 3 18 3-16 3 8 3-13 3 20 3-20 3 16 3-11 3 18 3-19 3 6 3-18 3 18 3-17 3 18 3-13 3 20 3-14 3 17 3-7 3 16 3-14 3-1 3-6 3 12 3-20 3 8 3-6 3 7 3-11 3 22 3-14 3 14 3-11 3 7 3-9 3 24 3-29 3 23 3-21 3 13 3-12 3 11 3-34 3 19 3-3 3 15 3-18 3 13 3-12 3 18 3-18 3 25 3-7 3 6 3-2 3-10 3-3 3 6 3-8 3 8 3-12 3 6 3 6 3 11 3-16 3 6 3-5 3 17 3-12 3 7 3-10 3 11 3-10 3 11 3-17 3 1 3-6 3 18 3-33 3 28 3-24 3 33 3-5 3 19 3-14 3 10 3-12 3 0 3-5 3 3 3-25 3 26 3-10 3 13 3-7 3 17 3-29 3 36 3-33 3 11 3-15 3 19 3-16 3 28 3-28 3 21 3-12 3-3 3 4 3 1 3-1 3-8 3-11 3 8 3-5 3 21 3-21 3 28 3-19 3 24 3-15 3 2 3-12 3 6 3-8 3 11 3-9 3 6 3-19 3 21 3-11 3 8 3-12 3 10 3-27 3 30 3-5 3-9 3 1 3 8 3-15 3 24 3-12 3 10 3-23 3 13 3-5 3 12 3-16 3 3 3-10 3 32 3-22 3 0 3-13 3 16 3-14 3 7 3 2 3 24 3-14 3 21 3-8 3 9 3-16 3 11 3-25 3 17 3-20 3 25 3-18 3 18 3-16 3 25 3-16 3 16 3-27 3 17 3-14 3 9 3-10 3 11 3-2 3 12 3-9 3-2 3-10 3 9 3-6 3 1 3-23 3 20 3-10 3 28 3-11 3 7 3-4 3 3 3-14 3 18 3-22 3 5 3-11 3 19 3-20 3 25 3-17 3 10 3-14 3 12 3-4 3-1 3-16 3 24 3-16 3 13 3-22 3 37 3-22 3 9 3-14 3 8 3-4 3 7 3-17 3 19 3-10 3 17 3-20 3 11 3-10 3 12 3-10 3 5 3-9 3 19 3-15 3 8 3-6 3 1 3-7 3 19 3-17 3 11 3-11 3 19 3-13 3 6 3-13 3 17 3-11 3-7 3-8 3 36 3-30 3 18 3-23 3 13 3 3 3 5 3-10 3 14 3-6 3 13 3-12 3 7 3-7 3 3 3-11 3 12 3-6 3 12 3-15 3 29 3-15 3 5 3-12 3 1 3-17 3 21 3-24 3 18 3 1 3 15 3-18 3 14 3-8 3 16 3-14 3 7 3-23 3 25 3-19 3 11 3-9 3 9 3-14 3 4 3-9 3 8 3-21 3 16 3-1 3 5 3-13 3 11 3-2 3 11 3-10 3 12 3-10 3 22 3-16 3-1 3 2 3 11 3-24 3 22 3-11 3 6 3-10 3 16 3-19 3 3 3-9 3 25 3-14 3 7 3-9 3 12 3-8 3 22 3-19 3 6 3-27 3 19 3-10 3 19 3-8 3-9 3 12 3 5 3-11 3 6 3-27 3 11 3-18 3 20 3-18 3 18 3-14 3 31 3-13 3 13 3-19 3 14 3-9 3 14 3-25 3 33 3-12 3 4 3-15 3 20 3-22 3 12 3-6 3-1 3-13 3 17 3-12 3 13 3 0 3-2 3-10 3 17 3-6 3 1 3-4 3 22 3-11 3 9 3-11 3 7 3-12 3 17 3-19 3 10 3-23 3 5 3-2 3 6 3-11 3 14 3 0 3 24 3-5 3 3 3-19 3 13 3-28 3 27 3-10 3 1 3-17 3 16 3-8 3 17 3-21 3-3 3-12 3 29 3-24 3 21 3-3 3 12 3-11 3 1 3-6 3 0 3-6 3 19 3-25 3 12 3-12 3 13 3-10 3 17 3-16 3 23 3-14 3 8 3-6 3 14 3-22 3 15 3-19 3 16 3-10 3 20 3-9 3 22 3-23 3 10 3-3 3-2 3-21 3 16 3-15 3 28 3-21 3 16 3-19 3 20 3-9 3 0 3-16 3 8 3-13 3 30 3-20 3 31 3-11 3 7 3-19 3 13 3 0 3-11 3 2 3 17 3-7 3 14 3-19 3 19 3-22 3 14 3-28 3 22 3-12 3 8 3-3 3 8 3-19 3 25 3-22 3 19 3-34 3 9 3-3 3-2 3-3 3 12 3-1 3 9 3-23 3 30 3-2 3 4 3-18 3 15 3-23 3 5 3-11 3 13 3-20 3 31 3-16 3 22 3-25 3 21 3-15 3 0 3-1 3 6 3-13 3 23 3-11 3 12 3-21 3 20 3-1 3 6 3-27 3 30 3-36 3 12 3-8 3 20 3-20 3 28 3-16 3 20 3-18 3 8 3-4 3 0 3-1 3 7 3-9 3 11 3-15 3 20 3-19 3 8 3-17 3 10 3-19 3 26 3-26 3 28 3-15 3 9 3-8 3 3 3-4 3 23 3-22 3 12 3-15 3 12 3-7 3 10 3-9 3 8 3 0 3 2 3-12 3-3 3 1 3 13 3-11 3 21 3-17 3 13 3-8 3 8 3-7 3-1 3-11 3 21 3-19 3 12 3-9 3 18 3-5 3 10 3-25 3 13 3-12 3 4 3-20 3 10 3-3 3 13 3-13 3 20 3-22 3 23 3-15 3 23 3-14 3-11 3-10 3 24 3-18 3 12 3-14 3 23 3-8 3 9 3-14 3 17 3-18 3 8 3-11 3 32 3-21 3 7 3-17 3 8 3-9 3-1 3-9 3 16"/>
</g></g>
<g fill="#000">
<rect x="350.1" y="481.9" width="2011.2" height="12.0"/>
<rect x="348.1" y="481.9" width="20.0" height="12.0" rx="3" ry="4"/>
<rect x="425.1" y="481.9" width="8.9" height="28.0" rx="3.5" ry="5"/>
<rect x="1196.7" y="481.9" width="8.9" height="28.0" rx="3.5" ry="5"/>
<rect x="1968.3" y="481.9" width="8.9" height="28.0" rx="3.5" ry="5"/>
<rect x="810.9" y="481.9" width="8.9" height="20.5" rx="3.5" ry="5"/>
<rect x="1582.5" y="481.9" width="8.9" height="20.5" rx="3.5" ry="5"/>
<rect x="2354.2" y="481.9" width="8.9" height="20.5" rx="3.5" ry="5"/>
<rect x="348.1" y="138.0" width="7.7" height="355.9" rx="3" ry="5"/>
<rect x="336.5" y="206.1" width="19.3" height="11.9" rx="4" ry="5"/>
<rect x="336.5" y="378.4" width="19.3" height="11.9" rx="4" ry="5"/>
<rect x="342.0" y="292.2" width="13.8" height="11.9" rx="4" ry="5"/>
<rect x="342.0" y="465.2" width="13.8" height="11.9" rx="4" ry="5"/>
<rect x="351.2" y="1703.0" width="2012.6" height="11.2"/>
<rect x="349.2" y="1703.0" width="20.0" height="11.2" rx="3" ry="4"/>
<rect x="427.2" y="1703.0" width="8.9" height="37.2" rx="3.5" ry="5"/>
<rect x="1199.3" y="1703.0" width="8.9" height="37.2" rx="3.5" ry="5"/>
<rect x="1971.5" y="1703.0" width="8.9" height="37.2" rx="3.5" ry="5"/>
<rect x="813.2" y="1703.0" width="8.9" height="23.2" rx="3.5" ry="5"/>
<rect x="1585.4" y="1703.0" width="8.9" height="23.2" rx="3.5" ry="5"/>
<rect x="2357.5" y="1703.0" width="8.9" height="23.2" rx="3.5" ry="5"/>
<rect x="349.2" y="645.0" width="8.8" height="1069.4" rx="3" ry="5"/>
<rect x="328.7" y="739.9" width="29.3" height="11.9" rx="4" ry="5"/>
<rect x="328.7" y="1060.7" width="29.3" height="11.9" rx="4" ry="5"/>
<rect x="328.7" y="1381.5" width="29.3" height="11.9" rx="4" ry="5"/>
<rect x="328.7" y="1702.3" width="29.3" height="11.9" rx="4" ry="5"/>
<rect x="339.8" y="900.3" width="18.2" height="11.9" rx="4" ry="5"/>
<rect x="339.8" y="1221.1" width="18.2" height="11.9" rx="4" ry="5"/>
<rect x="339.8" y="1541.9" width="18.2" height="11.9" rx="4" ry="5"/>
<rect x="349.9" y="2923.0" width="2010.8" height="10.9"/>
<rect x="347.9" y="2923.0" width="20.0" height="10.9" rx="3" ry="4"/>
<rect x="425.8" y="2923.0" width="8.9" height="37.9" rx="3.5" ry="5"/>
<rect x="1196.8" y="2923.0" width="8.9" height="37.9" rx="3.5" ry="5"/>
<rect x="1968.0" y="2923.0" width="8.9" height="37.9" rx="3.5" ry="5"/>
<rect x="811.3" y="2923.0" width="8.9" height="23.2" rx="3.5" ry="5"/>
<rect x="1582.4" y="2923.0" width="8.9" height="23.2" rx="3.5" ry="5"/>
<rect x="2353.5" y="2923.0" width="8.9" height="23.2" rx="3.5" ry="5"/>
<rect x="347.9" y="1865.0" width="8.0" height="1068.6" rx="3" ry="5"/>
<rect x="327.0" y="1960.5" width="28.9" height="11.9" rx="4" ry="5"/>
<rect x="327.0" y="2281.1" width="28.9" height="11.9" rx="4" ry="5"/>
<rect x="327.0" y="2601.6" width="28.9" height="11.9" rx="4" ry="5"/>
<rect x="327.0" y="2922.1" width="28.9" height="11.9" rx="4" ry="5"/>
<rect x="339.0" y="2120.8" width="16.9" height="11.9" rx="4" ry="5"/>
<rect x="339.0" y="2441.3" width="16.9" height="11.9" rx="4" ry="5"/>
<rect x="339.0" y="2761.8" width="16.9" height="11.9" rx="4" ry="5"/>
</g>
<g fill="#000" stroke="#000" stroke-linejoin="round" style="font-family:'Liberation Sans',Arial,sans-serif">
<text transform="translate(89.9,163.9) scale(0.735,1)" font-size="197.5" stroke-width="3" text-anchor="middle">A</text>
<text transform="translate(429.8,585.2) scale(0.74,1)" font-size="93" stroke-width="2.2" text-anchor="middle">0</text>
<text transform="translate(431.8,1825.0) scale(0.74,1)" font-size="93" stroke-width="2.2" text-anchor="middle">0</text>
<text transform="translate(430.6,3045.0) scale(0.74,1)" font-size="93" stroke-width="2.2" text-anchor="middle">0</text>
<text transform="translate(1201.5,585.2) scale(0.74,1)" font-size="93" stroke-width="2.2" text-anchor="middle">1000</text>
<text transform="translate(1204.0,1825.0) scale(0.74,1)" font-size="93" stroke-width="2.2" text-anchor="middle">1000</text>
<text transform="translate(1201.7,3045.0) scale(0.74,1)" font-size="93" stroke-width="2.2" text-anchor="middle">1000</text>
<text transform="translate(1973.1,585.2) scale(0.74,1)" font-size="93" stroke-width="2.2" text-anchor="middle">2000</text>
<text transform="translate(1976.1,1825.0) scale(0.74,1)" font-size="93" stroke-width="2.2" text-anchor="middle">2000</text>
<text transform="translate(1972.8,3045.0) scale(0.74,1)" font-size="93" stroke-width="2.2" text-anchor="middle">2000</text>
<text transform="translate(329.0,238.0) scale(0.74,1)" font-size="93" stroke-width="2.2" text-anchor="end">-50</text>
<text transform="translate(329.0,409.5) scale(0.74,1)" font-size="93" stroke-width="2.2" text-anchor="end">-100</text>
<text transform="translate(318.3,773.6) scale(0.74,1)" font-size="93" stroke-width="2.2" text-anchor="end">0</text>
<text transform="translate(316.5,1993.7) scale(0.74,1)" font-size="93" stroke-width="2.2" text-anchor="end">0</text>
<text transform="translate(318.3,1094.5) scale(0.74,1)" font-size="93" stroke-width="2.2" text-anchor="end">-100</text>
<text transform="translate(316.5,2314.2) scale(0.74,1)" font-size="93" stroke-width="2.2" text-anchor="end">-100</text>
<text transform="translate(318.3,1415.2) scale(0.74,1)" font-size="93" stroke-width="2.2" text-anchor="end">-200</text>
<text transform="translate(316.5,2634.7) scale(0.74,1)" font-size="93" stroke-width="2.2" text-anchor="end">-200</text>
<text transform="translate(318.3,1736.0) scale(0.74,1)" font-size="93" stroke-width="2.2" text-anchor="end">-300</text>
<text transform="translate(316.5,2955.2) scale(0.74,1)" font-size="93" stroke-width="2.2" text-anchor="end">-300</text>
<text transform="translate(1355.4,679.6) scale(0.771,1)" font-size="91" stroke-width="2.2" text-anchor="middle">msec</text>
<text transform="translate(1345.5,3135.2) scale(0.779,1)" font-size="114.5" stroke-width="2.8" text-anchor="middle">msec</text>
<text transform="translate(174.5,316.0) scale(0.744,1) rotate(-90)" font-size="94.7" stroke-width="2.2" text-anchor="middle">mV</text>
<text transform="translate(149.0,1178.2) scale(0.75,1) rotate(-90)" font-size="117.5" stroke-width="2.8" text-anchor="middle">pA</text>
<text transform="translate(147.0,2397.8) scale(0.75,1) rotate(-90)" font-size="117.5" stroke-width="2.8" text-anchor="middle">pA</text>
<text transform="translate(2120.0,1489.3) scale(0.758,1)" font-size="116.5" stroke-width="2.8" text-anchor="middle">control</text>
<text transform="translate(2182.7,2573.7) scale(0.752,1)" font-size="118" stroke-width="2.8" text-anchor="middle">GAL (30 <tspan style="font-family:'Liberation Serif',serif" font-size="128">μ</tspan>M)</text>
</g>
</svg>
</body></html>
